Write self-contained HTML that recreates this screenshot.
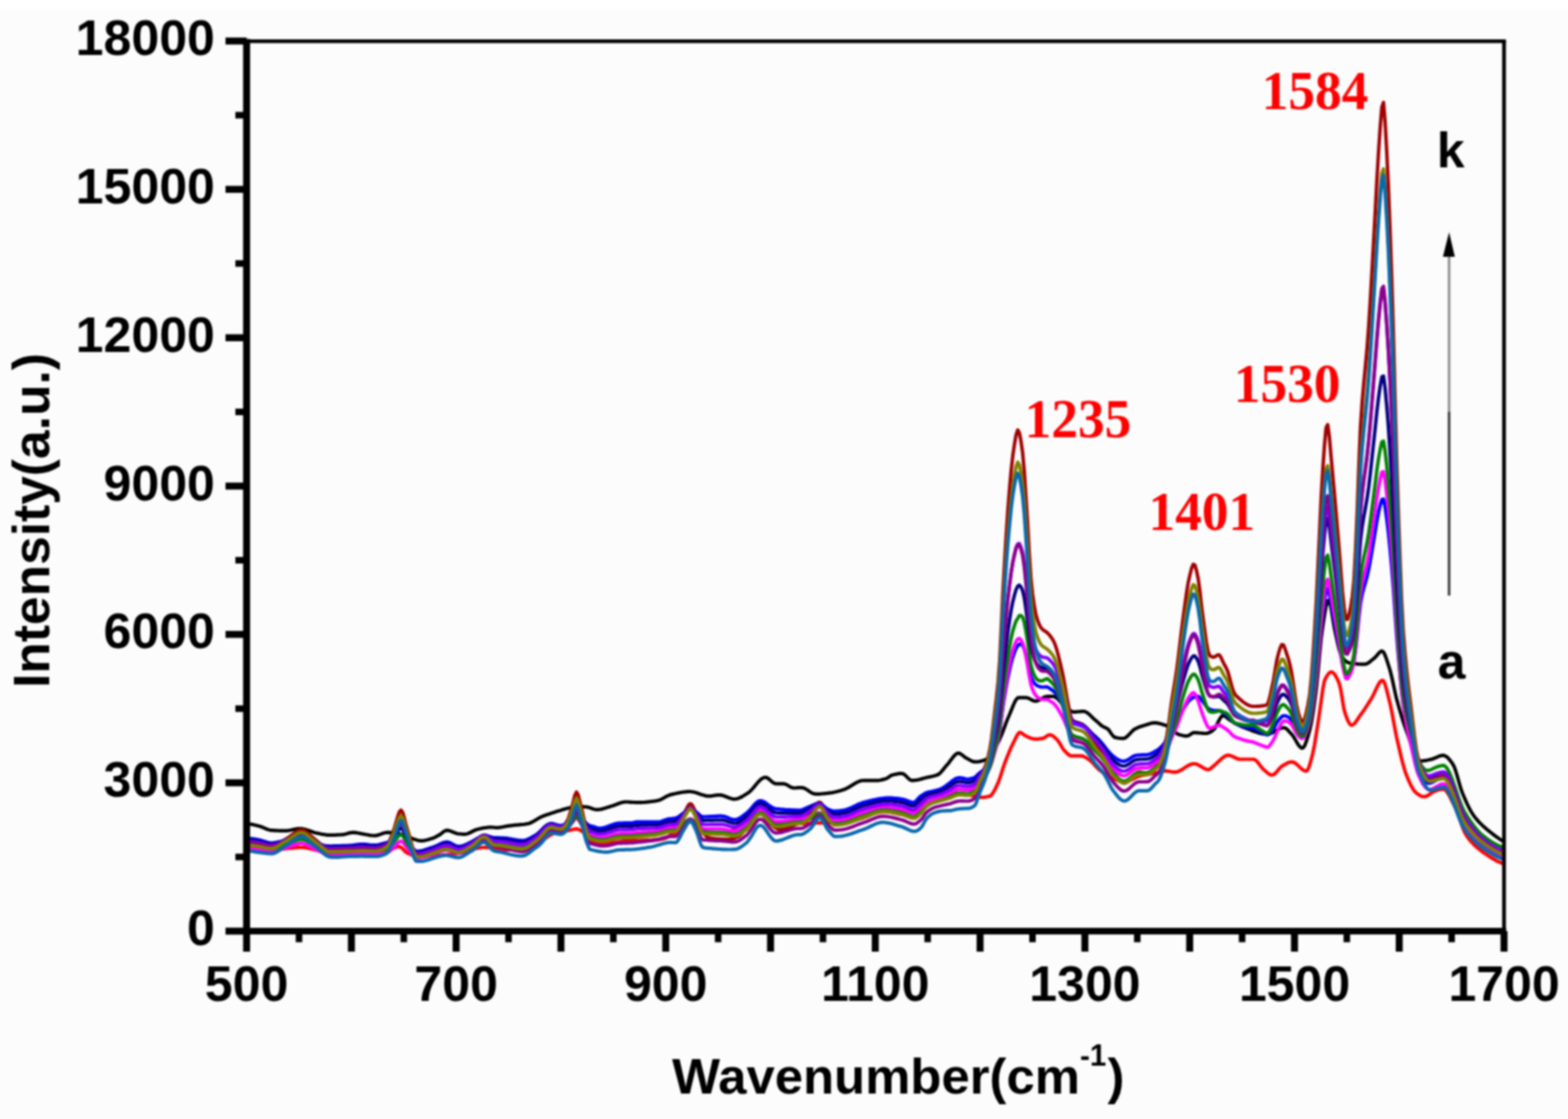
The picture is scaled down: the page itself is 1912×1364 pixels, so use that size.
<!DOCTYPE html>
<html><head><meta charset="utf-8"><style>
html,body{margin:0;padding:0;background:#fcfcfc;}
svg{display:block;filter:blur(0.8px);}
.s{font-family:"Liberation Sans",Arial,sans-serif;font-weight:bold;}
.r{font-family:"Liberation Serif","Times New Roman",serif;font-weight:bold;}
</style></head><body>
<svg width="1912" height="1364" viewBox="0 0 1912 1364">
<rect x="0" y="0" width="1912" height="1364" fill="#fcfcfc"/>
<rect x="0" y="0" width="1912" height="11" fill="#ffffff"/>
<g fill="none" stroke-linejoin="round" stroke-linecap="round" stroke-width="4.2">
<path d="M301.0 1004.0 L303.0 1004.2 L305.0 1004.5 L307.0 1004.9 L309.0 1005.3 L311.0 1005.7 L313.0 1006.2 L315.0 1006.7 L317.0 1007.3 L319.0 1008.0 L321.0 1008.8 L323.0 1009.6 L325.0 1010.5 L327.0 1011.2 L329.0 1011.7 L331.0 1012.1 L333.0 1012.2 L335.0 1012.3 L337.0 1012.4 L339.0 1012.5 L341.0 1012.6 L343.0 1012.7 L345.0 1012.7 L347.0 1012.7 L349.0 1012.6 L351.0 1012.4 L353.0 1012.1 L355.0 1011.7 L357.0 1011.2 L359.0 1010.8 L361.0 1010.5 L363.0 1010.2 L365.0 1010.0 L367.0 1010.0 L369.0 1010.3 L371.0 1010.7 L373.0 1011.2 L375.0 1011.9 L377.0 1012.6 L379.0 1013.3 L381.0 1014.0 L383.0 1014.7 L385.0 1015.2 L387.0 1015.6 L389.0 1016.0 L391.0 1016.5 L393.0 1016.9 L395.0 1017.2 L397.0 1017.5 L399.0 1017.8 L401.0 1017.9 L403.0 1017.9 L405.0 1017.9 L407.0 1017.8 L409.0 1017.8 L411.0 1017.7 L413.0 1017.6 L415.0 1017.5 L417.0 1017.4 L419.0 1017.3 L421.0 1016.8 L423.0 1016.3 L425.0 1015.6 L427.0 1015.1 L429.0 1014.8 L431.0 1014.7 L433.0 1014.9 L435.0 1015.2 L437.0 1015.5 L439.0 1015.9 L441.0 1016.3 L443.0 1016.6 L445.0 1017.0 L447.0 1017.3 L449.0 1017.7 L451.0 1018.1 L453.0 1018.4 L455.0 1018.5 L457.0 1018.6 L459.0 1018.4 L461.0 1017.9 L463.0 1017.3 L465.0 1016.6 L467.0 1015.8 L469.0 1015.2 L471.0 1014.8 L473.0 1014.7 L475.0 1014.8 L477.0 1014.9 L479.0 1015.1 L481.0 1015.4 L483.0 1015.7 L485.0 1016.0 L487.0 1016.4 L489.0 1016.8 L491.0 1017.2 L493.0 1017.9 L495.0 1018.7 L497.0 1019.6 L499.0 1020.6 L501.0 1021.5 L503.0 1022.3 L505.0 1022.9 L507.0 1023.6 L509.0 1024.2 L511.0 1024.7 L513.0 1024.9 L515.0 1024.8 L517.0 1024.6 L519.0 1024.2 L521.0 1023.8 L523.0 1023.2 L525.0 1022.6 L527.0 1022.0 L529.0 1021.2 L531.0 1020.3 L533.0 1019.2 L535.0 1018.1 L537.0 1016.9 L539.0 1015.3 L541.0 1013.7 L543.0 1012.5 L545.0 1012.1 L547.0 1012.3 L549.0 1012.9 L551.0 1013.7 L553.0 1014.5 L555.0 1015.3 L557.0 1016.0 L559.0 1016.3 L561.0 1016.5 L563.0 1016.7 L565.0 1016.8 L567.0 1016.8 L569.0 1016.5 L571.0 1015.9 L573.0 1015.0 L575.0 1014.0 L577.0 1013.0 L579.0 1012.0 L581.0 1011.2 L583.0 1010.7 L585.0 1010.2 L587.0 1009.8 L589.0 1009.4 L591.0 1009.0 L593.0 1008.8 L595.0 1008.5 L597.0 1008.4 L599.0 1008.4 L601.0 1008.5 L603.0 1008.7 L605.0 1008.8 L607.0 1008.8 L609.0 1008.6 L611.0 1008.3 L613.0 1008.0 L615.0 1007.6 L617.0 1007.2 L619.0 1006.9 L621.0 1006.6 L623.0 1006.3 L625.0 1006.1 L627.0 1005.9 L629.0 1005.7 L631.0 1005.6 L633.0 1005.4 L635.0 1005.2 L637.0 1005.0 L639.0 1004.8 L641.0 1004.5 L643.0 1004.2 L645.0 1003.7 L647.0 1003.0 L649.0 1002.0 L651.0 1000.9 L653.0 999.7 L655.0 998.5 L657.0 997.3 L659.0 996.2 L661.0 995.3 L663.0 994.5 L665.0 993.8 L667.0 993.1 L669.0 992.4 L671.0 991.7 L673.0 991.1 L675.0 990.4 L677.0 989.8 L679.0 989.1 L681.0 988.5 L683.0 987.9 L685.0 987.2 L687.0 986.6 L689.0 986.1 L691.0 985.5 L693.0 985.0 L695.0 984.5 L697.0 983.9 L699.0 983.5 L701.0 983.1 L703.0 983.0 L705.0 983.0 L707.0 983.1 L709.0 983.2 L711.0 983.3 L713.0 983.5 L715.0 983.7 L717.0 983.9 L719.0 984.5 L721.0 985.2 L723.0 985.9 L725.0 986.5 L727.0 986.8 L729.0 986.9 L731.0 986.7 L733.0 986.4 L735.0 985.9 L737.0 985.3 L739.0 984.7 L741.0 984.1 L743.0 983.4 L745.0 982.8 L747.0 982.2 L749.0 981.5 L751.0 980.8 L753.0 980.0 L755.0 979.2 L757.0 978.5 L759.0 978.0 L761.0 977.6 L763.0 977.5 L765.0 977.5 L767.0 977.6 L769.0 977.8 L771.0 977.9 L773.0 978.0 L775.0 978.1 L777.0 978.2 L779.0 978.2 L781.0 978.2 L783.0 978.1 L785.0 978.0 L787.0 977.8 L789.0 977.6 L791.0 977.4 L793.0 977.2 L795.0 976.9 L797.0 976.7 L799.0 976.4 L801.0 976.0 L803.0 975.6 L805.0 974.9 L807.0 974.0 L809.0 972.9 L811.0 971.7 L813.0 970.6 L815.0 969.7 L817.0 968.9 L819.0 968.4 L821.0 967.9 L823.0 967.5 L825.0 967.0 L827.0 966.6 L829.0 966.2 L831.0 965.8 L833.0 965.5 L835.0 965.3 L837.0 965.1 L839.0 964.9 L841.0 964.9 L843.0 965.0 L845.0 965.3 L847.0 965.8 L849.0 966.3 L851.0 967.0 L853.0 967.7 L855.0 968.4 L857.0 969.0 L859.0 969.6 L861.0 970.1 L863.0 970.3 L865.0 970.4 L867.0 970.3 L869.0 970.0 L871.0 969.7 L873.0 969.4 L875.0 969.1 L877.0 969.0 L879.0 969.1 L881.0 969.6 L883.0 970.2 L885.0 971.0 L887.0 971.8 L889.0 972.6 L891.0 973.3 L893.0 973.8 L895.0 974.1 L897.0 974.0 L899.0 973.6 L901.0 972.9 L903.0 972.0 L905.0 971.0 L907.0 969.8 L909.0 968.5 L911.0 967.3 L913.0 966.0 L915.0 964.2 L917.0 962.1 L919.0 959.8 L921.0 957.4 L923.0 955.0 L925.0 952.7 L927.0 950.7 L929.0 949.1 L931.0 948.0 L933.0 947.5 L935.0 947.9 L937.0 949.1 L939.0 950.8 L941.0 952.6 L943.0 954.2 L945.0 955.2 L947.0 955.3 L949.0 955.3 L951.0 955.3 L953.0 955.3 L955.0 955.3 L957.0 955.6 L959.0 956.4 L961.0 957.5 L963.0 958.8 L965.0 959.8 L967.0 960.4 L969.0 960.5 L971.0 960.4 L973.0 960.2 L975.0 960.1 L977.0 960.0 L979.0 960.2 L981.0 960.9 L983.0 962.0 L985.0 963.3 L987.0 964.7 L989.0 966.0 L991.0 967.1 L993.0 967.7 L995.0 967.9 L997.0 967.9 L999.0 967.8 L1001.0 967.7 L1003.0 967.5 L1005.0 967.3 L1007.0 967.1 L1009.0 966.9 L1011.0 966.6 L1013.0 966.4 L1015.0 966.1 L1017.0 965.7 L1019.0 965.3 L1021.0 964.8 L1023.0 964.2 L1025.0 963.7 L1027.0 963.1 L1029.0 962.4 L1031.0 961.7 L1033.0 960.7 L1035.0 959.6 L1037.0 958.4 L1039.0 957.1 L1041.0 955.9 L1043.0 954.7 L1045.0 953.6 L1047.0 952.7 L1049.0 951.9 L1051.0 951.5 L1053.0 951.4 L1055.0 951.4 L1057.0 951.4 L1059.0 951.4 L1061.0 951.4 L1063.0 951.4 L1065.0 951.4 L1067.0 951.4 L1069.0 951.4 L1071.0 951.3 L1073.0 951.0 L1075.0 950.6 L1077.0 950.1 L1079.0 949.6 L1081.0 949.0 L1083.0 947.8 L1085.0 946.3 L1087.0 945.1 L1089.0 944.5 L1091.0 944.0 L1093.0 943.6 L1095.0 943.2 L1097.0 942.9 L1099.0 942.8 L1101.0 943.1 L1103.0 944.3 L1105.0 946.1 L1107.0 948.2 L1109.0 950.0 L1111.0 951.2 L1113.0 951.4 L1115.0 951.2 L1117.0 951.0 L1119.0 950.6 L1121.0 950.2 L1123.0 949.6 L1125.0 949.1 L1127.0 948.5 L1129.0 948.0 L1131.0 947.5 L1133.0 947.1 L1135.0 946.7 L1137.0 946.3 L1139.0 945.8 L1141.0 945.2 L1143.0 944.5 L1145.0 943.5 L1147.0 941.7 L1149.0 939.4 L1151.0 936.9 L1153.0 934.4 L1155.0 932.2 L1157.0 929.8 L1159.0 927.1 L1161.0 924.4 L1163.0 921.9 L1165.0 919.8 L1167.0 918.4 L1169.0 918.0 L1171.0 918.7 L1173.0 920.1 L1175.0 921.7 L1177.0 923.3 L1179.0 924.4 L1181.0 925.5 L1183.0 926.7 L1185.0 927.7 L1187.0 928.4 L1189.0 928.7 L1191.0 928.6 L1193.0 928.4 L1195.0 928.1 L1197.0 927.6 L1199.0 926.9 L1201.0 926.2 L1203.0 925.4 L1205.0 924.4 L1207.0 922.6 L1209.0 920.0 L1211.0 916.7 L1213.0 913.0 L1215.0 909.1 L1217.0 905.0 L1219.0 901.0 L1221.0 896.5 L1223.0 891.4 L1225.0 886.0 L1227.0 880.6 L1229.0 875.5 L1231.0 871.0 L1233.0 866.1 L1235.0 861.1 L1237.0 856.5 L1239.0 852.8 L1241.0 850.6 L1243.0 850.3 L1245.0 850.3 L1247.0 850.3 L1249.0 850.3 L1251.0 850.3 L1253.0 850.7 L1255.0 851.5 L1257.0 852.6 L1259.0 853.7 L1261.0 854.5 L1263.0 854.7 L1265.0 854.3 L1267.0 853.4 L1269.0 852.3 L1271.0 851.1 L1273.0 850.0 L1275.0 849.2 L1277.0 848.8 L1279.0 848.8 L1281.0 848.9 L1283.0 848.9 L1285.0 849.0 L1287.0 849.8 L1289.0 851.3 L1291.0 853.3 L1293.0 855.5 L1295.0 857.9 L1297.0 860.0 L1299.0 861.8 L1301.0 863.2 L1303.0 864.8 L1305.0 866.2 L1307.0 867.3 L1309.0 867.9 L1311.0 867.9 L1313.0 867.7 L1315.0 867.5 L1317.0 867.3 L1319.0 867.2 L1321.0 867.1 L1323.0 867.4 L1325.0 868.3 L1327.0 869.7 L1329.0 871.5 L1331.0 873.4 L1333.0 875.4 L1335.0 877.3 L1337.0 878.9 L1339.0 880.7 L1341.0 882.6 L1343.0 884.3 L1345.0 885.7 L1347.0 886.6 L1349.0 887.5 L1351.0 888.7 L1353.0 891.1 L1355.0 894.1 L1357.0 896.9 L1359.0 898.6 L1361.0 899.1 L1363.0 899.5 L1365.0 899.8 L1367.0 900.0 L1369.0 900.1 L1371.0 899.9 L1373.0 898.8 L1375.0 897.2 L1377.0 895.1 L1379.0 893.0 L1381.0 890.9 L1383.0 889.2 L1385.0 888.1 L1387.0 887.1 L1389.0 886.3 L1391.0 885.6 L1393.0 884.9 L1395.0 884.3 L1397.0 883.7 L1399.0 883.0 L1401.0 882.4 L1403.0 881.8 L1405.0 881.3 L1407.0 881.1 L1409.0 881.1 L1411.0 881.4 L1413.0 881.7 L1415.0 882.2 L1417.0 882.8 L1419.0 883.4 L1421.0 884.0 L1423.0 884.9 L1425.0 886.2 L1427.0 887.7 L1429.0 889.4 L1431.0 891.1 L1433.0 892.7 L1435.0 894.1 L1437.0 895.2 L1439.0 895.8 L1441.0 896.3 L1443.0 896.7 L1445.0 897.1 L1447.0 897.2 L1449.0 896.8 L1451.0 895.6 L1453.0 894.2 L1455.0 893.2 L1457.0 893.0 L1459.0 893.1 L1461.0 893.3 L1463.0 893.5 L1465.0 893.7 L1467.0 893.8 L1469.0 894.0 L1471.0 894.0 L1473.0 893.6 L1475.0 892.8 L1477.0 891.7 L1479.0 890.3 L1481.0 888.5 L1483.0 885.1 L1485.0 881.0 L1487.0 877.0 L1489.0 873.8 L1491.0 872.3 L1493.0 872.7 L1495.0 874.0 L1497.0 875.7 L1499.0 877.3 L1501.0 878.6 L1503.0 879.7 L1505.0 880.8 L1507.0 881.9 L1509.0 883.0 L1511.0 884.0 L1513.0 885.0 L1515.0 886.0 L1517.0 886.8 L1519.0 887.6 L1521.0 888.4 L1523.0 889.1 L1525.0 889.9 L1527.0 890.7 L1529.0 891.4 L1531.0 892.1 L1533.0 892.8 L1535.0 893.4 L1537.0 893.9 L1539.0 894.4 L1541.0 894.7 L1543.0 894.9 L1545.0 895.0 L1547.0 894.8 L1549.0 894.2 L1551.0 893.3 L1553.0 892.3 L1555.0 891.1 L1557.0 890.0 L1559.0 888.9 L1561.0 888.0 L1563.0 887.3 L1565.0 887.0 L1567.0 887.3 L1569.0 888.6 L1571.0 890.6 L1573.0 892.8 L1575.0 895.0 L1577.0 897.5 L1579.0 900.8 L1581.0 904.3 L1583.0 907.6 L1585.0 910.2 L1587.0 911.8 L1589.0 911.6 L1591.0 908.7 L1593.0 903.6 L1595.0 897.1 L1597.0 890.0 L1599.0 881.1 L1601.0 869.2 L1603.0 855.2 L1605.0 840.0 L1607.0 820.9 L1609.0 798.3 L1611.0 777.8 L1613.0 763.3 L1615.0 749.9 L1617.0 738.7 L1619.0 732.0 L1621.0 732.2 L1623.0 740.4 L1625.0 752.7 L1627.0 765.1 L1629.0 774.4 L1631.0 783.4 L1633.0 791.8 L1635.0 798.1 L1637.0 801.4 L1639.0 803.9 L1641.0 805.9 L1643.0 807.3 L1645.0 808.0 L1647.0 808.3 L1649.0 808.6 L1651.0 808.9 L1653.0 809.1 L1655.0 809.3 L1657.0 809.5 L1659.0 809.6 L1661.0 809.7 L1663.0 809.7 L1665.0 809.6 L1667.0 808.9 L1669.0 807.7 L1671.0 806.2 L1673.0 804.5 L1675.0 802.8 L1677.0 801.1 L1679.0 798.8 L1681.0 796.4 L1683.0 794.4 L1685.0 793.5 L1687.0 794.8 L1689.0 798.8 L1691.0 804.4 L1693.0 810.6 L1695.0 816.9 L1697.0 824.9 L1699.0 834.0 L1701.0 843.4 L1703.0 851.9 L1705.0 859.2 L1707.0 866.3 L1709.0 873.0 L1711.0 879.3 L1713.0 885.3 L1715.0 890.9 L1717.0 896.4 L1719.0 902.3 L1721.0 908.2 L1723.0 913.9 L1725.0 919.0 L1727.0 923.2 L1729.0 926.2 L1731.0 927.6 L1733.0 927.7 L1735.0 927.5 L1737.0 927.2 L1739.0 926.9 L1741.0 926.5 L1743.0 926.0 L1745.0 925.6 L1747.0 925.1 L1749.0 924.3 L1751.0 923.5 L1753.0 922.6 L1755.0 921.7 L1757.0 921.1 L1759.0 920.7 L1761.0 920.9 L1763.0 921.8 L1765.0 923.3 L1767.0 925.4 L1769.0 927.9 L1771.0 930.6 L1773.0 934.1 L1775.0 939.5 L1777.0 946.2 L1779.0 953.3 L1781.0 960.2 L1783.0 966.0 L1785.0 970.8 L1787.0 975.4 L1789.0 979.8 L1791.0 983.9 L1793.0 987.7 L1795.0 991.2 L1797.0 994.2 L1799.0 996.8 L1801.0 999.2 L1803.0 1001.5 L1805.0 1003.6 L1807.0 1005.5 L1809.0 1007.4 L1811.0 1009.1 L1813.0 1010.8 L1815.0 1012.5 L1817.0 1014.1 L1819.0 1015.7 L1821.0 1017.3 L1823.0 1018.8 L1825.0 1020.3 L1827.0 1021.6 L1829.0 1023.0 L1831.0 1024.2 L1833.0 1025.4 L1834.0 1026.0" stroke="#000000"/>
<path d="M301.0 1028.0 L303.0 1028.3 L305.0 1028.6 L307.0 1028.8 L309.0 1029.1 L311.0 1029.4 L313.0 1029.7 L315.0 1030.0 L317.0 1030.3 L319.0 1030.7 L321.0 1031.1 L323.0 1031.5 L325.0 1031.9 L327.0 1032.2 L329.0 1032.4 L331.0 1032.5 L333.0 1032.3 L335.0 1031.7 L337.0 1030.8 L339.0 1029.6 L341.0 1028.3 L343.0 1026.8 L345.0 1025.4 L347.0 1023.9 L349.0 1022.6 L351.0 1021.4 L353.0 1020.0 L355.0 1018.5 L357.0 1016.9 L359.0 1015.4 L361.0 1014.0 L363.0 1012.8 L365.0 1012.0 L367.0 1011.6 L369.0 1011.8 L371.0 1012.5 L373.0 1013.6 L375.0 1015.2 L377.0 1016.9 L379.0 1018.8 L381.0 1020.6 L383.0 1022.4 L385.0 1024.0 L387.0 1025.6 L389.0 1027.4 L391.0 1029.4 L393.0 1031.3 L395.0 1033.1 L397.0 1034.6 L399.0 1035.8 L401.0 1036.4 L403.0 1036.5 L405.0 1036.5 L407.0 1036.4 L409.0 1036.4 L411.0 1036.3 L413.0 1036.3 L415.0 1036.2 L417.0 1036.1 L419.0 1036.1 L421.0 1036.0 L423.0 1036.0 L425.0 1036.0 L427.0 1036.0 L429.0 1036.0 L431.0 1036.0 L433.0 1036.0 L435.0 1036.0 L437.0 1036.0 L439.0 1036.0 L441.0 1036.0 L443.0 1036.0 L445.0 1036.0 L447.0 1036.0 L449.0 1036.0 L451.0 1036.0 L453.0 1036.0 L455.0 1036.0 L457.0 1036.0 L459.0 1035.9 L461.0 1035.5 L463.0 1034.9 L465.0 1034.2 L467.0 1033.2 L469.0 1032.0 L471.0 1030.7 L473.0 1028.9 L475.0 1025.2 L477.0 1020.1 L479.0 1014.6 L481.0 1009.2 L483.0 1002.4 L485.0 995.3 L487.0 989.7 L489.0 987.5 L491.0 990.2 L493.0 996.9 L495.0 1004.9 L497.0 1012.0 L499.0 1018.4 L501.0 1025.6 L503.0 1032.6 L505.0 1038.5 L507.0 1042.5 L509.0 1043.7 L511.0 1043.6 L513.0 1043.3 L515.0 1042.9 L517.0 1042.3 L519.0 1041.7 L521.0 1041.1 L523.0 1040.4 L525.0 1039.8 L527.0 1039.1 L529.0 1038.5 L531.0 1037.8 L533.0 1037.0 L535.0 1036.1 L537.0 1035.3 L539.0 1034.6 L541.0 1034.0 L543.0 1033.6 L545.0 1033.5 L547.0 1033.8 L549.0 1034.4 L551.0 1035.1 L553.0 1036.0 L555.0 1036.8 L557.0 1037.3 L559.0 1037.5 L561.0 1037.3 L563.0 1036.7 L565.0 1035.9 L567.0 1034.9 L569.0 1033.7 L571.0 1032.5 L573.0 1031.2 L575.0 1030.0 L577.0 1028.6 L579.0 1026.7 L581.0 1024.6 L583.0 1022.5 L585.0 1020.6 L587.0 1019.1 L589.0 1018.2 L591.0 1018.1 L593.0 1019.2 L595.0 1021.1 L597.0 1023.5 L599.0 1025.9 L601.0 1027.7 L603.0 1028.6 L605.0 1029.0 L607.0 1029.4 L609.0 1029.7 L611.0 1030.0 L613.0 1030.2 L615.0 1030.4 L617.0 1030.6 L619.0 1030.9 L621.0 1031.1 L623.0 1031.4 L625.0 1031.7 L627.0 1032.1 L629.0 1032.3 L631.0 1032.6 L633.0 1032.8 L635.0 1033.0 L637.0 1033.0 L639.0 1032.8 L641.0 1032.1 L643.0 1031.1 L645.0 1029.9 L647.0 1028.4 L649.0 1026.8 L651.0 1025.2 L653.0 1023.5 L655.0 1022.0 L657.0 1020.2 L659.0 1018.0 L661.0 1015.6 L663.0 1013.1 L665.0 1010.7 L667.0 1008.7 L669.0 1007.3 L671.0 1006.5 L673.0 1006.6 L675.0 1006.9 L677.0 1007.4 L679.0 1008.0 L681.0 1008.5 L683.0 1008.8 L685.0 1008.6 L687.0 1007.2 L689.0 1004.7 L691.0 1001.7 L693.0 997.9 L695.0 991.7 L697.0 985.0 L699.0 977.2 L701.0 969.2 L703.0 965.5 L705.0 968.9 L707.0 976.7 L709.0 985.0 L711.0 993.6 L713.0 1002.8 L715.0 1010.0 L717.0 1015.2 L719.0 1019.9 L721.0 1023.5 L723.0 1025.2 L725.0 1025.3 L727.0 1025.2 L729.0 1025.1 L731.0 1024.9 L733.0 1024.8 L735.0 1024.5 L737.0 1024.3 L739.0 1024.1 L741.0 1023.9 L743.0 1023.5 L745.0 1023.1 L747.0 1022.6 L749.0 1022.1 L751.0 1021.7 L753.0 1021.5 L755.0 1021.4 L757.0 1021.5 L759.0 1021.7 L761.0 1021.9 L763.0 1022.3 L765.0 1022.6 L767.0 1023.0 L769.0 1023.4 L771.0 1023.8 L773.0 1024.1 L775.0 1024.3 L777.0 1024.5 L779.0 1024.5 L781.0 1024.5 L783.0 1024.4 L785.0 1024.4 L787.0 1024.3 L789.0 1024.2 L791.0 1024.1 L793.0 1024.0 L795.0 1023.9 L797.0 1023.7 L799.0 1023.5 L801.0 1023.3 L803.0 1023.1 L805.0 1022.8 L807.0 1022.6 L809.0 1022.3 L811.0 1021.9 L813.0 1021.1 L815.0 1019.9 L817.0 1018.4 L819.0 1016.6 L821.0 1014.5 L823.0 1012.3 L825.0 1010.0 L827.0 1007.0 L829.0 1002.9 L831.0 998.4 L833.0 993.9 L835.0 990.0 L837.0 986.1 L839.0 982.2 L841.0 979.8 L843.0 980.1 L845.0 983.0 L847.0 987.4 L849.0 992.0 L851.0 997.5 L853.0 1004.1 L855.0 1010.0 L857.0 1013.6 L859.0 1016.6 L861.0 1019.1 L863.0 1020.8 L865.0 1021.5 L867.0 1021.7 L869.0 1022.0 L871.0 1022.2 L873.0 1022.3 L875.0 1022.5 L877.0 1022.6 L879.0 1022.7 L881.0 1022.8 L883.0 1022.9 L885.0 1023.0 L887.0 1023.0 L889.0 1023.0 L891.0 1022.9 L893.0 1022.6 L895.0 1022.0 L897.0 1021.3 L899.0 1020.4 L901.0 1019.4 L903.0 1017.7 L905.0 1015.5 L907.0 1012.8 L909.0 1009.9 L911.0 1007.0 L913.0 1004.3 L915.0 1002.0 L917.0 999.8 L919.0 997.5 L921.0 995.2 L923.0 993.2 L925.0 991.9 L927.0 991.4 L929.0 992.2 L931.0 994.1 L933.0 996.8 L935.0 999.6 L937.0 1002.1 L939.0 1003.8 L941.0 1005.5 L943.0 1007.2 L945.0 1008.8 L947.0 1010.0 L949.0 1010.8 L951.0 1011.0 L953.0 1010.9 L955.0 1010.6 L957.0 1010.2 L959.0 1009.6 L961.0 1009.0 L963.0 1008.3 L965.0 1007.4 L967.0 1006.6 L969.0 1005.6 L971.0 1004.7 L973.0 1003.7 L975.0 1002.7 L977.0 1001.5 L979.0 1000.1 L981.0 998.5 L983.0 996.7 L985.0 994.9 L987.0 993.0 L989.0 990.9 L991.0 987.9 L993.0 984.6 L995.0 981.4 L997.0 979.0 L999.0 977.8 L1001.0 978.7 L1003.0 981.6 L1005.0 985.6 L1007.0 989.9 L1009.0 993.6 L1011.0 996.2 L1013.0 998.6 L1015.0 1000.9 L1017.0 1002.8 L1019.0 1004.2 L1021.0 1004.7 L1023.0 1004.6 L1025.0 1004.5 L1027.0 1004.2 L1029.0 1003.9 L1031.0 1003.5 L1033.0 1003.0 L1035.0 1002.5 L1037.0 1001.9 L1039.0 1001.3 L1041.0 1000.6 L1043.0 1000.0 L1045.0 999.3 L1047.0 998.6 L1049.0 998.0 L1051.0 997.4 L1053.0 996.8 L1055.0 996.1 L1057.0 995.3 L1059.0 994.5 L1061.0 993.6 L1063.0 992.7 L1065.0 991.8 L1067.0 991.0 L1069.0 990.3 L1071.0 989.7 L1073.0 989.3 L1075.0 989.0 L1077.0 989.0 L1079.0 989.1 L1081.0 989.3 L1083.0 989.5 L1085.0 989.8 L1087.0 990.2 L1089.0 990.6 L1091.0 991.0 L1093.0 991.5 L1095.0 991.9 L1097.0 992.4 L1099.0 992.8 L1101.0 993.2 L1103.0 993.8 L1105.0 994.4 L1107.0 995.1 L1109.0 995.8 L1111.0 996.3 L1113.0 996.7 L1115.0 996.9 L1117.0 996.4 L1119.0 994.7 L1121.0 992.0 L1123.0 988.8 L1125.0 985.4 L1127.0 982.2 L1129.0 979.6 L1131.0 978.0 L1133.0 977.0 L1135.0 976.2 L1137.0 975.5 L1139.0 974.9 L1141.0 974.3 L1143.0 973.8 L1145.0 973.3 L1147.0 972.8 L1149.0 972.3 L1151.0 971.7 L1153.0 971.1 L1155.0 970.5 L1157.0 969.8 L1159.0 969.2 L1161.0 968.6 L1163.0 968.0 L1165.0 967.6 L1167.0 967.3 L1169.0 967.1 L1171.0 967.1 L1173.0 967.4 L1175.0 967.9 L1177.0 968.3 L1179.0 968.6 L1181.0 968.5 L1183.0 967.8 L1185.0 966.5 L1187.0 964.9 L1189.0 962.7 L1191.0 958.4 L1193.0 953.0 L1195.0 948.0 L1197.0 943.9 L1199.0 940.0 L1201.0 935.3 L1203.0 929.4 L1205.0 922.2 L1207.0 913.3 L1209.0 900.8 L1211.0 884.7 L1213.0 867.6 L1215.0 850.9 L1217.0 831.9 L1219.0 805.4 L1221.0 763.8 L1223.0 720.6 L1225.0 684.9 L1227.0 651.5 L1229.0 621.8 L1231.0 596.5 L1233.0 573.7 L1235.0 555.5 L1237.0 541.9 L1239.0 530.2 L1241.0 524.2 L1243.0 527.5 L1245.0 537.9 L1247.0 552.0 L1249.0 574.6 L1251.0 605.2 L1253.0 637.0 L1255.0 672.9 L1257.0 704.1 L1259.0 723.3 L1261.0 737.5 L1263.0 748.2 L1265.0 755.5 L1267.0 760.8 L1269.0 764.6 L1271.0 767.0 L1273.0 768.5 L1275.0 769.8 L1277.0 771.3 L1279.0 773.3 L1281.0 775.7 L1283.0 778.5 L1285.0 782.0 L1287.0 786.8 L1289.0 793.2 L1291.0 800.8 L1293.0 809.1 L1295.0 817.7 L1297.0 827.5 L1299.0 838.8 L1301.0 850.3 L1303.0 860.7 L1305.0 871.5 L1307.0 877.1 L1309.0 878.8 L1311.0 879.9 L1313.0 880.6 L1315.0 881.2 L1317.0 881.8 L1319.0 882.6 L1321.0 883.8 L1323.0 885.6 L1325.0 888.0 L1327.0 891.0 L1329.0 894.4 L1331.0 897.9 L1333.0 901.3 L1335.0 904.5 L1337.0 907.4 L1339.0 910.0 L1341.0 912.6 L1343.0 915.2 L1345.0 918.2 L1347.0 921.6 L1349.0 925.4 L1351.0 929.5 L1353.0 933.6 L1355.0 937.4 L1357.0 940.9 L1359.0 943.7 L1361.0 946.1 L1363.0 948.6 L1365.0 950.8 L1367.0 952.7 L1369.0 953.9 L1371.0 954.4 L1373.0 953.9 L1375.0 952.7 L1377.0 950.9 L1379.0 948.7 L1381.0 946.5 L1383.0 944.4 L1385.0 942.7 L1387.0 941.5 L1389.0 941.2 L1391.0 941.4 L1393.0 941.7 L1395.0 942.1 L1397.0 942.5 L1399.0 942.6 L1401.0 942.2 L1403.0 941.1 L1405.0 939.5 L1407.0 937.5 L1409.0 935.1 L1411.0 932.4 L1413.0 929.5 L1415.0 925.2 L1417.0 919.6 L1419.0 913.0 L1421.0 905.6 L1423.0 895.9 L1425.0 883.2 L1427.0 867.4 L1429.0 853.4 L1431.0 841.1 L1433.0 829.0 L1435.0 815.5 L1437.0 800.0 L1439.0 783.3 L1441.0 766.6 L1443.0 750.9 L1445.0 736.3 L1447.0 721.9 L1449.0 709.7 L1451.0 700.8 L1453.0 692.8 L1455.0 687.8 L1457.0 688.7 L1459.0 695.5 L1461.0 705.0 L1463.0 719.2 L1465.0 737.6 L1467.0 752.9 L1469.0 767.9 L1471.0 782.3 L1473.0 793.4 L1475.0 798.9 L1477.0 800.2 L1479.0 800.9 L1481.0 800.8 L1483.0 799.5 L1485.0 798.2 L1487.0 798.5 L1489.0 801.6 L1491.0 806.1 L1493.0 810.1 L1495.0 813.6 L1497.0 818.1 L1499.0 824.8 L1501.0 832.5 L1503.0 839.7 L1505.0 844.8 L1507.0 847.7 L1509.0 849.6 L1511.0 851.4 L1513.0 853.2 L1515.0 854.9 L1517.0 856.4 L1519.0 857.8 L1521.0 858.9 L1523.0 859.9 L1525.0 860.5 L1527.0 860.9 L1529.0 861.0 L1531.0 861.0 L1533.0 860.9 L1535.0 860.8 L1537.0 860.6 L1539.0 860.3 L1541.0 860.1 L1543.0 859.7 L1545.0 859.1 L1547.0 854.9 L1549.0 847.2 L1551.0 837.8 L1553.0 828.4 L1555.0 816.4 L1557.0 804.4 L1559.0 796.5 L1561.0 789.9 L1563.0 785.7 L1565.0 786.1 L1567.0 790.9 L1569.0 797.0 L1571.0 803.1 L1573.0 810.5 L1575.0 820.1 L1577.0 832.8 L1579.0 846.5 L1581.0 859.1 L1583.0 868.3 L1585.0 874.7 L1587.0 879.5 L1589.0 879.8 L1591.0 875.7 L1593.0 868.3 L1595.0 858.7 L1597.0 846.9 L1599.0 826.6 L1601.0 799.6 L1603.0 769.0 L1605.0 734.3 L1607.0 692.4 L1609.0 650.9 L1611.0 607.6 L1613.0 572.3 L1615.0 543.5 L1617.0 521.4 L1619.0 517.6 L1621.0 532.2 L1623.0 555.5 L1625.0 577.8 L1627.0 599.4 L1629.0 622.5 L1631.0 646.2 L1633.0 669.9 L1635.0 695.6 L1637.0 720.9 L1639.0 740.2 L1641.0 754.9 L1643.0 755.0 L1645.0 748.8 L1647.0 740.5 L1649.0 727.2 L1651.0 707.1 L1653.0 669.5 L1655.0 622.9 L1657.0 567.1 L1659.0 519.9 L1661.0 490.4 L1663.0 467.1 L1665.0 446.3 L1667.0 424.3 L1669.0 397.4 L1671.0 365.2 L1673.0 330.1 L1675.0 293.7 L1677.0 257.5 L1679.0 218.8 L1681.0 185.0 L1683.0 155.3 L1685.0 130.7 L1687.0 124.8 L1689.0 148.7 L1691.0 185.0 L1693.0 227.6 L1695.0 279.2 L1697.0 337.4 L1699.0 403.3 L1701.0 483.3 L1703.0 558.7 L1705.0 621.6 L1707.0 677.9 L1709.0 730.6 L1711.0 767.4 L1713.0 793.3 L1715.0 814.7 L1717.0 832.9 L1719.0 849.4 L1721.0 865.6 L1723.0 882.6 L1725.0 899.3 L1727.0 913.6 L1729.0 923.3 L1731.0 928.9 L1733.0 934.0 L1735.0 938.4 L1737.0 942.2 L1739.0 945.0 L1741.0 946.9 L1743.0 947.7 L1745.0 947.6 L1747.0 947.1 L1749.0 946.6 L1751.0 946.2 L1753.0 945.9 L1755.0 945.6 L1757.0 945.4 L1759.0 945.3 L1761.0 945.6 L1763.0 947.1 L1765.0 949.8 L1767.0 953.5 L1769.0 958.0 L1771.0 963.0 L1773.0 968.5 L1775.0 974.2 L1777.0 979.8 L1779.0 985.3 L1781.0 990.3 L1783.0 994.8 L1785.0 998.4 L1787.0 1001.3 L1789.0 1004.0 L1791.0 1006.6 L1793.0 1009.2 L1795.0 1011.6 L1797.0 1013.8 L1799.0 1016.0 L1801.0 1018.0 L1803.0 1020.0 L1805.0 1021.8 L1807.0 1023.4 L1809.0 1025.0 L1811.0 1026.5 L1813.0 1027.9 L1815.0 1029.3 L1817.0 1030.6 L1819.0 1031.9 L1821.0 1033.2 L1823.0 1034.3 L1825.0 1035.4 L1827.0 1036.3 L1829.0 1037.2 L1831.0 1038.0 L1833.0 1038.7 L1834.0 1039.0" stroke="#a00000"/>
<path d="M301.0 1033.0 L303.0 1033.4 L305.0 1033.7 L307.0 1034.0 L309.0 1034.3 L311.0 1034.6 L313.0 1034.9 L315.0 1035.1 L317.0 1035.3 L319.0 1035.5 L321.0 1035.7 L323.0 1035.8 L325.0 1035.9 L327.0 1036.0 L329.0 1036.0 L331.0 1036.0 L333.0 1035.9 L335.0 1035.9 L337.0 1035.7 L339.0 1035.6 L341.0 1035.4 L343.0 1035.2 L345.0 1034.9 L347.0 1034.7 L349.0 1034.5 L351.0 1034.2 L353.0 1034.0 L355.0 1033.8 L357.0 1033.6 L359.0 1033.4 L361.0 1033.2 L363.0 1033.1 L365.0 1033.0 L367.0 1033.0 L369.0 1033.0 L371.0 1033.2 L373.0 1033.4 L375.0 1033.8 L377.0 1034.2 L379.0 1034.6 L381.0 1035.1 L383.0 1035.6 L385.0 1036.1 L387.0 1036.6 L389.0 1037.1 L391.0 1037.5 L393.0 1037.9 L395.0 1038.2 L397.0 1038.5 L399.0 1038.6 L401.0 1038.6 L403.0 1038.6 L405.0 1038.6 L407.0 1038.6 L409.0 1038.6 L411.0 1038.6 L413.0 1038.6 L415.0 1038.6 L417.0 1038.6 L419.0 1038.6 L421.0 1038.6 L423.0 1038.6 L425.0 1038.6 L427.0 1038.6 L429.0 1038.6 L431.0 1038.6 L433.0 1038.6 L435.0 1038.6 L437.0 1038.6 L439.0 1038.6 L441.0 1038.6 L443.0 1038.6 L445.0 1038.6 L447.0 1038.6 L449.0 1038.6 L451.0 1038.6 L453.0 1038.6 L455.0 1038.6 L457.0 1038.6 L459.0 1038.6 L461.0 1038.4 L463.0 1038.2 L465.0 1037.9 L467.0 1037.6 L469.0 1037.2 L471.0 1036.8 L473.0 1036.4 L475.0 1036.0 L477.0 1035.4 L479.0 1034.6 L481.0 1033.6 L483.0 1032.8 L485.0 1032.2 L487.0 1032.0 L489.0 1032.8 L491.0 1034.6 L493.0 1036.7 L495.0 1038.7 L497.0 1040.0 L499.0 1040.9 L501.0 1041.7 L503.0 1042.4 L505.0 1043.1 L507.0 1043.6 L509.0 1043.9 L511.0 1044.0 L513.0 1044.0 L515.0 1043.9 L517.0 1043.9 L519.0 1043.7 L521.0 1043.6 L523.0 1043.5 L525.0 1043.4 L527.0 1043.2 L529.0 1043.1 L531.0 1042.9 L533.0 1042.8 L535.0 1042.6 L537.0 1042.5 L539.0 1042.3 L541.0 1042.1 L543.0 1042.0 L545.0 1041.8 L547.0 1041.6 L549.0 1041.4 L551.0 1041.1 L553.0 1040.9 L555.0 1040.7 L557.0 1040.4 L559.0 1040.1 L561.0 1039.8 L563.0 1039.5 L565.0 1039.0 L567.0 1038.5 L569.0 1037.9 L571.0 1037.3 L573.0 1036.6 L575.0 1036.0 L577.0 1035.4 L579.0 1034.8 L581.0 1034.3 L583.0 1033.8 L585.0 1033.5 L587.0 1033.2 L589.0 1033.0 L591.0 1033.0 L593.0 1033.1 L595.0 1033.2 L597.0 1033.4 L599.0 1033.6 L601.0 1033.9 L603.0 1034.2 L605.0 1034.5 L607.0 1034.8 L609.0 1035.1 L611.0 1035.3 L613.0 1035.6 L615.0 1035.8 L617.0 1035.9 L619.0 1036.0 L621.0 1036.0 L623.0 1035.9 L625.0 1035.9 L627.0 1035.7 L629.0 1035.5 L631.0 1035.3 L633.0 1035.1 L635.0 1034.8 L637.0 1034.5 L639.0 1034.1 L641.0 1033.8 L643.0 1033.4 L645.0 1033.0 L647.0 1032.5 L649.0 1031.7 L651.0 1030.7 L653.0 1029.6 L655.0 1028.4 L657.0 1027.1 L659.0 1025.8 L661.0 1024.6 L663.0 1023.4 L665.0 1022.1 L667.0 1020.6 L669.0 1019.2 L671.0 1017.9 L673.0 1016.8 L675.0 1016.0 L677.0 1015.4 L679.0 1015.0 L681.0 1014.6 L683.0 1014.2 L685.0 1013.9 L687.0 1013.6 L689.0 1013.2 L691.0 1012.8 L693.0 1012.4 L695.0 1011.9 L697.0 1011.5 L699.0 1011.0 L701.0 1010.6 L703.0 1010.4 L705.0 1010.8 L707.0 1011.7 L709.0 1012.9 L711.0 1014.3 L713.0 1015.8 L715.0 1017.9 L717.0 1020.5 L719.0 1023.2 L721.0 1025.6 L723.0 1027.3 L725.0 1028.0 L727.0 1028.0 L729.0 1027.9 L731.0 1027.9 L733.0 1027.8 L735.0 1027.7 L737.0 1027.6 L739.0 1027.5 L741.0 1027.3 L743.0 1027.2 L745.0 1027.0 L747.0 1026.9 L749.0 1026.7 L751.0 1026.6 L753.0 1026.4 L755.0 1026.3 L757.0 1026.2 L759.0 1026.1 L761.0 1025.9 L763.0 1025.9 L765.0 1025.8 L767.0 1025.7 L769.0 1025.6 L771.0 1025.5 L773.0 1025.5 L775.0 1025.4 L777.0 1025.3 L779.0 1025.2 L781.0 1025.2 L783.0 1025.1 L785.0 1025.0 L787.0 1024.9 L789.0 1024.8 L791.0 1024.7 L793.0 1024.6 L795.0 1024.4 L797.0 1024.3 L799.0 1024.1 L801.0 1023.9 L803.0 1023.6 L805.0 1023.2 L807.0 1022.7 L809.0 1022.0 L811.0 1021.4 L813.0 1020.6 L815.0 1019.8 L817.0 1018.9 L819.0 1018.0 L821.0 1017.0 L823.0 1016.0 L825.0 1015.0 L827.0 1013.7 L829.0 1011.9 L831.0 1009.9 L833.0 1007.8 L835.0 1005.7 L837.0 1003.9 L839.0 1002.6 L841.0 1001.9 L843.0 1002.0 L845.0 1003.1 L847.0 1004.9 L849.0 1007.0 L851.0 1009.1 L853.0 1010.9 L855.0 1012.0 L857.0 1012.7 L859.0 1013.3 L861.0 1013.9 L863.0 1014.5 L865.0 1015.0 L867.0 1015.4 L869.0 1015.9 L871.0 1016.2 L873.0 1016.5 L875.0 1016.8 L877.0 1016.9 L879.0 1017.0 L881.0 1017.0 L883.0 1016.7 L885.0 1016.2 L887.0 1015.4 L889.0 1014.5 L891.0 1013.3 L893.0 1012.1 L895.0 1010.6 L897.0 1009.1 L899.0 1007.5 L901.0 1005.9 L903.0 1004.2 L905.0 1002.5 L907.0 1000.9 L909.0 999.3 L911.0 997.7 L913.0 996.2 L915.0 994.9 L917.0 993.7 L919.0 992.6 L921.0 991.8 L923.0 991.1 L925.0 990.7 L927.0 990.6 L929.0 990.9 L931.0 991.8 L933.0 993.0 L935.0 994.6 L937.0 996.4 L939.0 998.3 L941.0 1000.1 L943.0 1001.8 L945.0 1003.3 L947.0 1004.3 L949.0 1004.9 L951.0 1005.0 L953.0 1005.0 L955.0 1004.9 L957.0 1004.9 L959.0 1004.8 L961.0 1004.7 L963.0 1004.6 L965.0 1004.5 L967.0 1004.4 L969.0 1004.3 L971.0 1004.2 L973.0 1004.1 L975.0 1004.0 L977.0 1003.9 L979.0 1003.8 L981.0 1003.8 L983.0 1003.7 L985.0 1003.6 L987.0 1003.5 L989.0 1003.4 L991.0 1003.4 L993.0 1003.3 L995.0 1003.2 L997.0 1003.2 L999.0 1003.2 L1001.0 1003.2 L1003.0 1003.1 L1005.0 1003.1 L1007.0 1003.1 L1009.0 1003.1 L1011.0 1003.1 L1013.0 1003.1 L1015.0 1003.1 L1017.0 1003.1 L1019.0 1003.0 L1021.0 1003.0 L1023.0 1002.9 L1025.0 1002.6 L1027.0 1002.2 L1029.0 1001.7 L1031.0 1001.2 L1033.0 1000.5 L1035.0 999.8 L1037.0 999.0 L1039.0 998.2 L1041.0 997.4 L1043.0 996.6 L1045.0 995.9 L1047.0 995.2 L1049.0 994.6 L1051.0 994.1 L1053.0 993.6 L1055.0 993.2 L1057.0 992.8 L1059.0 992.4 L1061.0 992.0 L1063.0 991.6 L1065.0 991.2 L1067.0 990.8 L1069.0 990.5 L1071.0 990.1 L1073.0 989.8 L1075.0 989.6 L1077.0 989.4 L1079.0 989.2 L1081.0 989.1 L1083.0 989.0 L1085.0 989.0 L1087.0 989.0 L1089.0 989.0 L1091.0 989.0 L1093.0 989.0 L1095.0 989.0 L1097.0 989.0 L1099.0 989.0 L1101.0 989.0 L1103.0 989.0 L1105.0 989.0 L1107.0 989.0 L1109.0 989.0 L1111.0 989.0 L1113.0 989.0 L1115.0 989.0 L1117.0 988.7 L1119.0 987.9 L1121.0 986.6 L1123.0 985.2 L1125.0 983.6 L1127.0 982.0 L1129.0 980.7 L1131.0 979.6 L1133.0 978.7 L1135.0 977.8 L1137.0 977.0 L1139.0 976.1 L1141.0 975.2 L1143.0 974.3 L1145.0 973.5 L1147.0 972.6 L1149.0 971.9 L1151.0 971.1 L1153.0 970.4 L1155.0 969.7 L1157.0 969.1 L1159.0 968.6 L1161.0 968.1 L1163.0 967.8 L1165.0 967.5 L1167.0 967.2 L1169.0 967.1 L1171.0 967.1 L1173.0 967.3 L1175.0 967.6 L1177.0 967.9 L1179.0 968.4 L1181.0 968.8 L1183.0 969.2 L1185.0 969.7 L1187.0 970.3 L1189.0 970.9 L1191.0 971.5 L1193.0 971.8 L1195.0 972.0 L1197.0 972.0 L1199.0 971.8 L1201.0 971.6 L1203.0 971.3 L1205.0 970.9 L1207.0 970.5 L1209.0 969.0 L1211.0 966.3 L1213.0 962.7 L1215.0 958.7 L1217.0 954.4 L1219.0 949.1 L1221.0 942.9 L1223.0 936.6 L1225.0 930.7 L1227.0 925.5 L1229.0 920.4 L1231.0 915.6 L1233.0 911.0 L1235.0 906.8 L1237.0 902.9 L1239.0 898.7 L1241.0 895.0 L1243.0 892.9 L1245.0 893.1 L1247.0 894.4 L1249.0 896.0 L1251.0 897.2 L1253.0 898.1 L1255.0 899.0 L1257.0 899.8 L1259.0 900.4 L1261.0 900.8 L1263.0 900.9 L1265.0 900.8 L1267.0 900.7 L1269.0 900.4 L1271.0 900.2 L1273.0 899.6 L1275.0 898.3 L1277.0 896.9 L1279.0 895.9 L1281.0 895.8 L1283.0 896.5 L1285.0 897.9 L1287.0 899.7 L1289.0 901.6 L1291.0 904.1 L1293.0 907.4 L1295.0 910.9 L1297.0 913.9 L1299.0 916.0 L1301.0 918.1 L1303.0 919.9 L1305.0 921.1 L1307.0 921.4 L1309.0 921.4 L1311.0 921.4 L1313.0 921.4 L1315.0 921.4 L1317.0 921.4 L1319.0 921.4 L1321.0 921.9 L1323.0 922.8 L1325.0 924.0 L1327.0 925.4 L1329.0 926.8 L1331.0 928.5 L1333.0 930.6 L1335.0 932.8 L1337.0 935.1 L1339.0 937.1 L1341.0 938.8 L1343.0 940.4 L1345.0 941.9 L1347.0 943.4 L1349.0 944.7 L1351.0 946.0 L1353.0 947.1 L1355.0 948.0 L1357.0 948.9 L1359.0 949.7 L1361.0 950.6 L1363.0 951.4 L1365.0 952.0 L1367.0 952.5 L1369.0 952.9 L1371.0 953.0 L1373.0 952.8 L1375.0 952.4 L1377.0 951.7 L1379.0 950.8 L1381.0 949.9 L1383.0 948.9 L1385.0 947.9 L1387.0 947.0 L1389.0 946.3 L1391.0 945.7 L1393.0 945.3 L1395.0 944.8 L1397.0 944.4 L1399.0 944.1 L1401.0 943.7 L1403.0 943.3 L1405.0 943.0 L1407.0 942.6 L1409.0 942.2 L1411.0 941.8 L1413.0 941.2 L1415.0 940.7 L1417.0 940.2 L1419.0 939.8 L1421.0 939.7 L1423.0 939.8 L1425.0 940.1 L1427.0 940.5 L1429.0 940.9 L1431.0 941.1 L1433.0 941.2 L1435.0 940.9 L1437.0 940.3 L1439.0 939.3 L1441.0 938.2 L1443.0 936.9 L1445.0 935.6 L1447.0 934.3 L1449.0 933.2 L1451.0 932.1 L1453.0 931.4 L1455.0 931.0 L1457.0 931.0 L1459.0 931.4 L1461.0 932.3 L1463.0 933.4 L1465.0 934.6 L1467.0 935.8 L1469.0 936.9 L1471.0 937.7 L1473.0 938.2 L1475.0 937.8 L1477.0 936.3 L1479.0 934.3 L1481.0 932.7 L1483.0 931.0 L1485.0 929.1 L1487.0 927.2 L1489.0 925.3 L1491.0 923.6 L1493.0 922.2 L1495.0 921.2 L1497.0 920.6 L1499.0 920.7 L1501.0 921.2 L1503.0 922.1 L1505.0 923.0 L1507.0 924.0 L1509.0 924.9 L1511.0 925.4 L1513.0 925.5 L1515.0 925.5 L1517.0 925.5 L1519.0 925.5 L1521.0 925.5 L1523.0 925.5 L1525.0 925.5 L1527.0 925.5 L1529.0 925.6 L1531.0 926.5 L1533.0 928.4 L1535.0 930.9 L1537.0 933.6 L1539.0 936.1 L1541.0 938.2 L1543.0 939.8 L1545.0 941.6 L1547.0 943.2 L1549.0 944.4 L1551.0 944.8 L1553.0 944.2 L1555.0 942.7 L1557.0 940.6 L1559.0 938.2 L1561.0 935.9 L1563.0 934.1 L1565.0 932.9 L1567.0 931.7 L1569.0 930.6 L1571.0 929.6 L1573.0 929.0 L1575.0 928.7 L1577.0 929.0 L1579.0 930.0 L1581.0 931.5 L1583.0 933.3 L1585.0 935.3 L1587.0 937.1 L1589.0 938.6 L1591.0 939.6 L1593.0 940.0 L1595.0 937.8 L1597.0 932.5 L1599.0 925.2 L1601.0 917.4 L1603.0 907.3 L1605.0 895.0 L1607.0 882.2 L1609.0 869.0 L1611.0 854.7 L1613.0 840.2 L1615.0 830.0 L1617.0 825.7 L1619.0 822.5 L1621.0 820.1 L1623.0 819.0 L1625.0 819.5 L1627.0 821.4 L1629.0 824.5 L1631.0 828.4 L1633.0 833.0 L1635.0 841.0 L1637.0 853.5 L1639.0 865.2 L1641.0 871.8 L1643.0 877.0 L1645.0 881.2 L1647.0 883.7 L1649.0 883.8 L1651.0 882.6 L1653.0 880.3 L1655.0 877.5 L1657.0 874.4 L1659.0 871.4 L1661.0 868.7 L1663.0 865.9 L1665.0 862.9 L1667.0 859.8 L1669.0 856.7 L1671.0 853.6 L1673.0 850.3 L1675.0 846.4 L1677.0 842.1 L1679.0 837.8 L1681.0 834.0 L1683.0 831.0 L1685.0 829.4 L1687.0 829.9 L1689.0 834.4 L1691.0 841.4 L1693.0 849.5 L1695.0 857.4 L1697.0 866.9 L1699.0 877.7 L1701.0 888.6 L1703.0 898.6 L1705.0 907.3 L1707.0 916.0 L1709.0 924.4 L1711.0 932.2 L1713.0 939.1 L1715.0 944.8 L1717.0 949.6 L1719.0 954.2 L1721.0 958.3 L1723.0 961.8 L1725.0 964.6 L1727.0 966.6 L1729.0 968.0 L1731.0 969.3 L1733.0 970.4 L1735.0 971.0 L1737.0 971.1 L1739.0 970.6 L1741.0 969.6 L1743.0 968.4 L1745.0 967.1 L1747.0 965.8 L1749.0 964.7 L1751.0 963.9 L1753.0 963.2 L1755.0 962.6 L1757.0 962.1 L1759.0 961.8 L1761.0 962.1 L1763.0 963.5 L1765.0 966.1 L1767.0 969.4 L1769.0 973.3 L1771.0 977.3 L1773.0 981.4 L1775.0 985.4 L1777.0 990.3 L1779.0 995.8 L1781.0 1001.7 L1783.0 1007.3 L1785.0 1012.4 L1787.0 1016.6 L1789.0 1019.7 L1791.0 1022.4 L1793.0 1024.8 L1795.0 1027.1 L1797.0 1029.2 L1799.0 1031.2 L1801.0 1033.0 L1803.0 1034.6 L1805.0 1036.2 L1807.0 1037.7 L1809.0 1039.2 L1811.0 1040.6 L1813.0 1042.0 L1815.0 1043.4 L1817.0 1044.6 L1819.0 1045.9 L1821.0 1047.1 L1823.0 1048.2 L1825.0 1049.3 L1827.0 1050.3 L1829.0 1051.1 L1831.0 1052.0 L1833.0 1052.7 L1834.0 1053.0" stroke="#ff0000"/>
<path d="M301.0 1021.5 L303.0 1021.8 L305.0 1022.0 L307.0 1022.3 L309.0 1022.6 L311.0 1022.9 L313.0 1023.2 L315.0 1023.6 L317.0 1024.0 L319.0 1024.5 L321.0 1025.2 L323.0 1025.8 L325.0 1026.4 L327.0 1027.0 L329.0 1027.3 L331.0 1027.5 L333.0 1027.4 L335.0 1027.2 L337.0 1026.9 L339.0 1026.4 L341.0 1026.0 L343.0 1025.5 L345.0 1024.9 L347.0 1024.4 L349.0 1024.0 L351.0 1023.5 L353.0 1023.0 L355.0 1022.5 L357.0 1021.9 L359.0 1021.4 L361.0 1020.9 L363.0 1020.5 L365.0 1020.2 L367.0 1020.1 L369.0 1020.2 L371.0 1020.6 L373.0 1021.2 L375.0 1021.9 L377.0 1022.8 L379.0 1023.8 L381.0 1024.7 L383.0 1025.6 L385.0 1026.4 L387.0 1027.3 L389.0 1028.3 L391.0 1029.2 L393.0 1030.0 L395.0 1030.6 L397.0 1031.0 L399.0 1031.2 L401.0 1031.4 L403.0 1031.3 L405.0 1031.3 L407.0 1031.2 L409.0 1031.1 L411.0 1031.1 L413.0 1031.0 L415.0 1031.0 L417.0 1030.9 L419.0 1030.9 L421.0 1030.8 L423.0 1030.8 L425.0 1030.7 L427.0 1030.6 L429.0 1030.4 L431.0 1030.2 L433.0 1029.9 L435.0 1029.6 L437.0 1029.3 L439.0 1029.1 L441.0 1029.0 L443.0 1029.1 L445.0 1029.2 L447.0 1029.4 L449.0 1029.7 L451.0 1029.9 L453.0 1030.0 L455.0 1030.1 L457.0 1030.2 L459.0 1030.0 L461.0 1029.8 L463.0 1029.4 L465.0 1028.9 L467.0 1028.3 L469.0 1027.8 L471.0 1027.3 L473.0 1026.7 L475.0 1025.7 L477.0 1024.4 L479.0 1023.1 L481.0 1021.9 L483.0 1020.3 L485.0 1018.6 L487.0 1017.4 L489.0 1017.1 L491.0 1018.3 L493.0 1020.7 L495.0 1023.6 L497.0 1026.3 L499.0 1028.7 L501.0 1031.3 L503.0 1033.8 L505.0 1035.9 L507.0 1037.3 L509.0 1037.5 L511.0 1037.4 L513.0 1037.1 L515.0 1036.7 L517.0 1036.2 L519.0 1035.6 L521.0 1034.9 L523.0 1034.3 L525.0 1033.6 L527.0 1033.0 L529.0 1032.3 L531.0 1031.5 L533.0 1030.6 L535.0 1029.6 L537.0 1028.6 L539.0 1027.7 L541.0 1027.0 L543.0 1026.5 L545.0 1026.4 L547.0 1026.6 L549.0 1027.4 L551.0 1028.5 L553.0 1029.6 L555.0 1030.7 L557.0 1031.5 L559.0 1031.7 L561.0 1031.6 L563.0 1031.2 L565.0 1030.7 L567.0 1029.9 L569.0 1029.1 L571.0 1028.1 L573.0 1027.1 L575.0 1026.1 L577.0 1025.0 L579.0 1023.8 L581.0 1022.7 L583.0 1021.6 L585.0 1020.5 L587.0 1019.5 L589.0 1018.7 L591.0 1018.2 L593.0 1018.4 L595.0 1019.0 L597.0 1019.7 L599.0 1020.4 L601.0 1020.9 L603.0 1021.1 L605.0 1021.2 L607.0 1021.2 L609.0 1021.3 L611.0 1021.3 L613.0 1021.4 L615.0 1021.5 L617.0 1021.7 L619.0 1021.9 L621.0 1022.3 L623.0 1022.6 L625.0 1023.0 L627.0 1023.4 L629.0 1023.7 L631.0 1024.0 L633.0 1024.3 L635.0 1024.4 L637.0 1024.5 L639.0 1024.4 L641.0 1024.0 L643.0 1023.3 L645.0 1022.4 L647.0 1021.4 L649.0 1020.3 L651.0 1019.1 L653.0 1018.0 L655.0 1016.7 L657.0 1015.0 L659.0 1013.0 L661.0 1010.9 L663.0 1008.9 L665.0 1007.1 L667.0 1005.6 L669.0 1004.5 L671.0 1003.9 L673.0 1003.9 L675.0 1004.3 L677.0 1004.9 L679.0 1005.5 L681.0 1006.1 L683.0 1006.4 L685.0 1006.3 L687.0 1005.7 L689.0 1004.6 L691.0 1003.3 L693.0 1001.7 L695.0 999.4 L697.0 997.1 L699.0 994.5 L701.0 991.9 L703.0 990.7 L705.0 991.7 L707.0 993.9 L709.0 996.3 L711.0 998.8 L713.0 1001.6 L715.0 1003.7 L717.0 1005.2 L719.0 1006.5 L721.0 1006.8 L723.0 1007.4 L725.0 1008.1 L727.0 1008.8 L729.0 1009.4 L731.0 1009.6 L733.0 1009.5 L735.0 1009.2 L737.0 1008.7 L739.0 1008.1 L741.0 1007.4 L743.0 1006.6 L745.0 1005.9 L747.0 1005.2 L749.0 1004.5 L751.0 1004.0 L753.0 1003.6 L755.0 1003.4 L757.0 1003.3 L759.0 1003.3 L761.0 1003.2 L763.0 1003.2 L765.0 1003.2 L767.0 1003.1 L769.0 1003.0 L771.0 1002.9 L773.0 1002.6 L775.0 1002.1 L777.0 1001.8 L779.0 1001.8 L781.0 1001.8 L783.0 1001.8 L785.0 1001.8 L787.0 1001.8 L789.0 1001.8 L791.0 1001.8 L793.0 1001.8 L795.0 1001.8 L797.0 1001.8 L799.0 1001.8 L801.0 1001.8 L803.0 1001.8 L805.0 1001.5 L807.0 1001.0 L809.0 1000.3 L811.0 999.6 L813.0 998.9 L815.0 998.4 L817.0 998.0 L819.0 997.8 L821.0 997.5 L823.0 997.3 L825.0 996.9 L827.0 995.8 L829.0 994.4 L831.0 992.9 L833.0 991.4 L835.0 990.1 L837.0 988.7 L839.0 987.4 L841.0 986.6 L843.0 986.6 L845.0 987.4 L847.0 988.6 L849.0 989.9 L851.0 991.4 L853.0 993.3 L855.0 995.0 L857.0 995.6 L859.0 995.5 L861.0 995.5 L863.0 995.4 L865.0 995.3 L867.0 995.2 L869.0 995.1 L871.0 995.0 L873.0 994.9 L875.0 994.8 L877.0 994.7 L879.0 994.7 L881.0 994.8 L883.0 995.1 L885.0 995.7 L887.0 996.5 L889.0 997.4 L891.0 998.2 L893.0 998.8 L895.0 999.1 L897.0 999.1 L899.0 998.6 L901.0 997.8 L903.0 996.6 L905.0 995.1 L907.0 993.6 L909.0 992.1 L911.0 990.6 L913.0 988.7 L915.0 986.6 L917.0 984.3 L919.0 981.9 L921.0 979.6 L923.0 977.8 L925.0 976.5 L927.0 976.0 L929.0 976.3 L931.0 977.1 L933.0 978.2 L935.0 979.6 L937.0 981.1 L939.0 982.6 L941.0 983.9 L943.0 985.0 L945.0 985.7 L947.0 986.0 L949.0 986.2 L951.0 986.4 L953.0 986.6 L955.0 986.7 L957.0 986.9 L959.0 987.0 L961.0 987.1 L963.0 987.2 L965.0 987.3 L967.0 987.4 L969.0 987.4 L971.0 987.5 L973.0 987.5 L975.0 987.5 L977.0 987.3 L979.0 986.8 L981.0 985.9 L983.0 985.0 L985.0 984.1 L987.0 983.3 L989.0 982.5 L991.0 981.6 L993.0 980.7 L995.0 980.0 L997.0 979.6 L999.0 979.6 L1001.0 980.3 L1003.0 981.5 L1005.0 983.1 L1007.0 984.7 L1009.0 986.1 L1011.0 987.0 L1013.0 987.8 L1015.0 988.4 L1017.0 988.9 L1019.0 988.7 L1021.0 988.5 L1023.0 988.3 L1025.0 988.1 L1027.0 987.8 L1029.0 987.5 L1031.0 987.1 L1033.0 986.5 L1035.0 985.8 L1037.0 985.0 L1039.0 984.1 L1041.0 983.1 L1043.0 982.1 L1045.0 981.2 L1047.0 980.2 L1049.0 979.4 L1051.0 978.7 L1053.0 978.1 L1055.0 977.6 L1057.0 977.1 L1059.0 976.6 L1061.0 976.1 L1063.0 975.6 L1065.0 975.1 L1067.0 974.7 L1069.0 974.3 L1071.0 973.9 L1073.0 973.6 L1075.0 973.3 L1077.0 973.0 L1079.0 972.8 L1081.0 972.7 L1083.0 972.6 L1085.0 972.6 L1087.0 972.7 L1089.0 972.8 L1091.0 973.0 L1093.0 973.2 L1095.0 973.4 L1097.0 973.7 L1099.0 974.0 L1101.0 974.3 L1103.0 974.8 L1105.0 975.6 L1107.0 976.3 L1109.0 977.1 L1111.0 977.7 L1113.0 978.1 L1115.0 977.9 L1117.0 976.4 L1119.0 974.1 L1121.0 971.8 L1123.0 970.2 L1125.0 969.0 L1127.0 967.7 L1129.0 966.6 L1131.0 965.9 L1133.0 965.4 L1135.0 965.0 L1137.0 964.6 L1139.0 964.1 L1141.0 963.6 L1143.0 963.0 L1145.0 962.4 L1147.0 961.6 L1149.0 960.7 L1151.0 959.5 L1153.0 958.1 L1155.0 956.6 L1157.0 955.1 L1159.0 953.6 L1161.0 952.0 L1163.0 950.6 L1165.0 949.4 L1167.0 948.5 L1169.0 948.1 L1171.0 948.1 L1173.0 948.4 L1175.0 948.9 L1177.0 949.4 L1179.0 949.7 L1181.0 949.8 L1183.0 949.4 L1185.0 948.9 L1187.0 948.2 L1189.0 947.4 L1191.0 945.6 L1193.0 943.6 L1195.0 941.8 L1197.0 940.4 L1199.0 939.0 L1201.0 937.3 L1203.0 935.3 L1205.0 932.9 L1207.0 929.8 L1209.0 925.5 L1211.0 919.8 L1213.0 913.6 L1215.0 907.3 L1217.0 900.2 L1219.0 890.7 L1221.0 876.4 L1223.0 861.5 L1225.0 848.9 L1227.0 837.0 L1229.0 826.2 L1231.0 816.8 L1233.0 808.1 L1235.0 801.0 L1237.0 795.3 L1239.0 790.3 L1241.0 787.2 L1243.0 785.2 L1245.0 785.4 L1247.0 786.8 L1249.0 791.1 L1251.0 798.3 L1253.0 806.3 L1255.0 816.0 L1257.0 824.5 L1259.0 829.2 L1261.0 832.4 L1263.0 834.6 L1265.0 835.9 L1267.0 836.7 L1269.0 837.3 L1271.0 837.5 L1273.0 837.5 L1275.0 837.4 L1277.0 837.4 L1279.0 838.5 L1281.0 839.8 L1283.0 841.2 L1285.0 842.9 L1287.0 845.0 L1289.0 847.8 L1291.0 850.9 L1293.0 854.3 L1295.0 857.7 L1297.0 861.6 L1299.0 865.9 L1301.0 870.3 L1303.0 874.3 L1305.0 878.5 L1307.0 880.8 L1309.0 881.7 L1311.0 882.4 L1313.0 883.1 L1315.0 883.7 L1317.0 884.3 L1319.0 885.0 L1321.0 885.9 L1323.0 887.0 L1325.0 888.3 L1327.0 889.9 L1329.0 891.7 L1331.0 893.5 L1333.0 895.4 L1335.0 897.2 L1337.0 898.9 L1339.0 900.8 L1341.0 902.8 L1343.0 905.1 L1345.0 907.5 L1347.0 910.1 L1349.0 912.7 L1351.0 915.2 L1353.0 917.4 L1355.0 919.6 L1357.0 921.5 L1359.0 923.0 L1361.0 924.4 L1363.0 925.7 L1365.0 926.8 L1367.0 927.5 L1369.0 927.9 L1371.0 927.9 L1373.0 927.4 L1375.0 926.4 L1377.0 925.2 L1379.0 923.8 L1381.0 922.5 L1383.0 921.5 L1385.0 920.8 L1387.0 920.5 L1389.0 920.4 L1391.0 920.3 L1393.0 920.2 L1395.0 920.2 L1397.0 920.1 L1399.0 919.9 L1401.0 919.5 L1403.0 918.8 L1405.0 917.9 L1407.0 916.8 L1409.0 915.6 L1411.0 914.5 L1413.0 913.1 L1415.0 911.3 L1417.0 909.4 L1419.0 907.1 L1421.0 904.8 L1423.0 901.8 L1425.0 898.2 L1427.0 893.9 L1429.0 890.1 L1431.0 886.8 L1433.0 883.6 L1435.0 880.1 L1437.0 876.3 L1439.0 872.2 L1441.0 868.2 L1443.0 864.5 L1445.0 861.1 L1447.0 857.8 L1449.0 855.0 L1451.0 853.1 L1453.0 851.4 L1455.0 850.4 L1457.0 849.5 L1459.0 848.8 L1461.0 848.8 L1463.0 850.3 L1465.0 853.2 L1467.0 855.6 L1469.0 858.3 L1471.0 861.1 L1473.0 863.3 L1475.0 864.6 L1477.0 865.2 L1479.0 865.8 L1481.0 866.1 L1483.0 866.0 L1485.0 866.1 L1487.0 866.3 L1489.0 867.3 L1491.0 868.7 L1493.0 870.0 L1495.0 871.1 L1497.0 872.6 L1499.0 874.7 L1501.0 877.2 L1503.0 879.5 L1505.0 881.3 L1507.0 882.3 L1509.0 883.0 L1511.0 883.7 L1513.0 884.3 L1515.0 885.0 L1517.0 885.6 L1519.0 886.1 L1521.0 886.6 L1523.0 887.0 L1525.0 887.3 L1527.0 887.5 L1529.0 888.0 L1531.0 889.0 L1533.0 890.0 L1535.0 891.0 L1537.0 892.0 L1539.0 893.0 L1541.0 894.0 L1543.0 895.0 L1545.0 895.8 L1547.0 895.3 L1549.0 893.4 L1551.0 890.9 L1553.0 888.2 L1555.0 884.6 L1557.0 880.8 L1559.0 878.0 L1561.0 875.4 L1563.0 873.5 L1565.0 872.5 L1567.0 872.5 L1569.0 873.1 L1571.0 874.1 L1573.0 875.7 L1575.0 878.1 L1577.0 881.7 L1579.0 885.8 L1581.0 889.7 L1583.0 892.6 L1585.0 894.7 L1587.0 896.2 L1589.0 896.0 L1591.0 893.3 L1593.0 888.5 L1595.0 882.4 L1597.0 875.5 L1599.0 865.6 L1601.0 853.5 L1603.0 839.8 L1605.0 824.2 L1607.0 805.2 L1609.0 785.9 L1611.0 765.4 L1613.0 747.9 L1615.0 732.7 L1617.0 720.2 L1619.0 717.4 L1621.0 724.5 L1623.0 735.3 L1625.0 745.5 L1627.0 755.4 L1629.0 765.8 L1631.0 776.4 L1633.0 786.9 L1635.0 798.1 L1637.0 809.0 L1639.0 817.4 L1641.0 823.7 L1643.0 824.0 L1645.0 821.8 L1647.0 818.7 L1649.0 813.8 L1651.0 806.1 L1653.0 791.7 L1655.0 773.9 L1657.0 752.6 L1659.0 735.1 L1661.0 724.6 L1663.0 716.7 L1665.0 709.8 L1667.0 702.6 L1669.0 693.7 L1671.0 682.9 L1673.0 671.2 L1675.0 659.2 L1677.0 647.4 L1679.0 635.0 L1681.0 624.5 L1683.0 615.6 L1685.0 608.8 L1687.0 608.4 L1689.0 618.2 L1691.0 632.4 L1693.0 648.9 L1695.0 668.8 L1697.0 691.1 L1699.0 716.1 L1701.0 745.9 L1703.0 774.1 L1705.0 798.0 L1707.0 820.6 L1709.0 841.9 L1711.0 857.7 L1713.0 869.6 L1715.0 879.9 L1717.0 889.0 L1719.0 897.4 L1721.0 905.5 L1723.0 914.1 L1725.0 922.7 L1727.0 930.5 L1729.0 936.8 L1731.0 941.5 L1733.0 945.9 L1735.0 949.7 L1737.0 952.0 L1739.0 953.6 L1741.0 954.5 L1743.0 954.7 L1745.0 954.2 L1747.0 953.3 L1749.0 952.2 L1751.0 951.0 L1753.0 949.9 L1755.0 948.9 L1757.0 948.2 L1759.0 947.6 L1761.0 947.7 L1763.0 949.0 L1765.0 951.6 L1767.0 955.1 L1769.0 959.4 L1771.0 964.3 L1773.0 969.6 L1775.0 975.1 L1777.0 980.8 L1779.0 986.2 L1781.0 991.4 L1783.0 996.0 L1785.0 999.9 L1787.0 1003.1 L1789.0 1006.1 L1791.0 1008.9 L1793.0 1011.6 L1795.0 1014.2 L1797.0 1016.7 L1799.0 1019.1 L1801.0 1021.4 L1803.0 1023.4 L1805.0 1025.3 L1807.0 1027.1 L1809.0 1028.6 L1811.0 1030.0 L1813.0 1031.4 L1815.0 1032.7 L1817.0 1034.0 L1819.0 1035.2 L1821.0 1036.4 L1823.0 1037.5 L1825.0 1038.4 L1827.0 1039.3 L1829.0 1040.1 L1831.0 1040.7 L1833.0 1041.2 L1834.0 1041.4" stroke="#0000ff"/>
<path d="M301.0 1033.3 L303.0 1033.6 L305.0 1033.9 L307.0 1034.2 L309.0 1034.5 L311.0 1034.8 L313.0 1035.2 L315.0 1035.5 L317.0 1035.8 L319.0 1036.2 L321.0 1036.7 L323.0 1037.1 L325.0 1037.5 L327.0 1037.9 L329.0 1038.1 L331.0 1038.2 L333.0 1038.1 L335.0 1037.8 L337.0 1037.3 L339.0 1036.7 L341.0 1036.0 L343.0 1035.3 L345.0 1034.6 L347.0 1033.9 L349.0 1033.2 L351.0 1032.7 L353.0 1032.0 L355.0 1031.3 L357.0 1030.5 L359.0 1029.8 L361.0 1029.1 L363.0 1028.6 L365.0 1028.2 L367.0 1028.1 L369.0 1028.2 L371.0 1028.7 L373.0 1029.4 L375.0 1030.4 L377.0 1031.5 L379.0 1032.6 L381.0 1033.7 L383.0 1034.7 L385.0 1035.6 L387.0 1036.4 L389.0 1037.4 L391.0 1038.3 L393.0 1039.3 L395.0 1040.2 L397.0 1040.9 L399.0 1041.5 L401.0 1041.9 L403.0 1042.1 L405.0 1042.2 L407.0 1042.3 L409.0 1042.3 L411.0 1042.3 L413.0 1042.3 L415.0 1042.1 L417.0 1042.0 L419.0 1041.8 L421.0 1041.7 L423.0 1041.5 L425.0 1041.3 L427.0 1041.1 L429.0 1040.9 L431.0 1040.7 L433.0 1040.5 L435.0 1040.4 L437.0 1040.2 L439.0 1040.1 L441.0 1040.0 L443.0 1040.1 L445.0 1040.1 L447.0 1040.3 L449.0 1040.4 L451.0 1040.5 L453.0 1040.6 L455.0 1040.7 L457.0 1040.8 L459.0 1040.8 L461.0 1040.8 L463.0 1040.7 L465.0 1040.5 L467.0 1040.2 L469.0 1039.9 L471.0 1039.6 L473.0 1039.0 L475.0 1037.8 L477.0 1036.1 L479.0 1034.2 L481.0 1032.5 L483.0 1030.2 L485.0 1027.8 L487.0 1026.0 L489.0 1025.3 L491.0 1026.4 L493.0 1028.8 L495.0 1031.8 L497.0 1034.4 L499.0 1036.8 L501.0 1039.4 L503.0 1042.0 L505.0 1044.2 L507.0 1045.7 L509.0 1045.9 L511.0 1045.8 L513.0 1045.7 L515.0 1045.4 L517.0 1045.0 L519.0 1044.4 L521.0 1043.8 L523.0 1043.1 L525.0 1042.4 L527.0 1041.7 L529.0 1041.0 L531.0 1040.2 L533.0 1039.4 L535.0 1038.7 L537.0 1037.9 L539.0 1037.3 L541.0 1036.8 L543.0 1036.5 L545.0 1036.4 L547.0 1036.6 L549.0 1037.2 L551.0 1037.8 L553.0 1038.6 L555.0 1039.2 L557.0 1039.7 L559.0 1039.8 L561.0 1039.6 L563.0 1039.1 L565.0 1038.3 L567.0 1037.3 L569.0 1036.3 L571.0 1035.2 L573.0 1034.1 L575.0 1033.1 L577.0 1032.0 L579.0 1030.8 L581.0 1029.6 L583.0 1028.4 L585.0 1027.2 L587.0 1026.3 L589.0 1025.6 L591.0 1025.4 L593.0 1025.7 L595.0 1026.4 L597.0 1027.3 L599.0 1028.1 L601.0 1028.8 L603.0 1029.1 L605.0 1029.2 L607.0 1029.4 L609.0 1029.5 L611.0 1029.6 L613.0 1029.8 L615.0 1030.0 L617.0 1030.3 L619.0 1030.6 L621.0 1030.9 L623.0 1031.3 L625.0 1031.6 L627.0 1031.9 L629.0 1032.2 L631.0 1032.4 L633.0 1032.5 L635.0 1032.6 L637.0 1032.5 L639.0 1032.2 L641.0 1031.6 L643.0 1030.7 L645.0 1029.7 L647.0 1028.5 L649.0 1027.3 L651.0 1026.0 L653.0 1024.9 L655.0 1023.7 L657.0 1022.2 L659.0 1020.4 L661.0 1018.4 L663.0 1016.2 L665.0 1014.1 L667.0 1012.1 L669.0 1010.6 L671.0 1009.8 L673.0 1009.7 L675.0 1010.0 L677.0 1010.4 L679.0 1010.9 L681.0 1011.4 L683.0 1011.7 L685.0 1011.7 L687.0 1011.3 L689.0 1010.4 L691.0 1009.4 L693.0 1008.1 L695.0 1006.0 L697.0 1003.7 L699.0 1001.1 L701.0 998.5 L703.0 997.4 L705.0 998.8 L707.0 1001.7 L709.0 1004.9 L711.0 1008.1 L713.0 1011.5 L715.0 1014.2 L717.0 1016.2 L719.0 1017.9 L721.0 1018.3 L723.0 1018.8 L725.0 1019.4 L727.0 1020.1 L729.0 1020.5 L731.0 1020.8 L733.0 1020.9 L735.0 1020.8 L737.0 1020.5 L739.0 1020.2 L741.0 1019.7 L743.0 1019.2 L745.0 1018.6 L747.0 1017.9 L749.0 1017.4 L751.0 1016.9 L753.0 1016.5 L755.0 1016.3 L757.0 1016.2 L759.0 1016.1 L761.0 1016.1 L763.0 1016.0 L765.0 1016.0 L767.0 1015.9 L769.0 1015.9 L771.0 1015.7 L773.0 1015.5 L775.0 1015.2 L777.0 1014.9 L779.0 1014.8 L781.0 1014.7 L783.0 1014.6 L785.0 1014.4 L787.0 1014.3 L789.0 1014.2 L791.0 1014.0 L793.0 1013.9 L795.0 1013.8 L797.0 1013.6 L799.0 1013.4 L801.0 1013.1 L803.0 1012.9 L805.0 1012.4 L807.0 1011.9 L809.0 1011.3 L811.0 1010.6 L813.0 1010.1 L815.0 1009.6 L817.0 1009.3 L819.0 1009.2 L821.0 1009.1 L823.0 1009.0 L825.0 1008.7 L827.0 1007.6 L829.0 1006.2 L831.0 1004.6 L833.0 1003.1 L835.0 1001.7 L837.0 1000.4 L839.0 999.1 L841.0 998.2 L843.0 998.4 L845.0 999.5 L847.0 1001.0 L849.0 1002.7 L851.0 1004.7 L853.0 1007.1 L855.0 1009.2 L857.0 1010.1 L859.0 1010.2 L861.0 1010.3 L863.0 1010.4 L865.0 1010.4 L867.0 1010.4 L869.0 1010.4 L871.0 1010.4 L873.0 1010.4 L875.0 1010.4 L877.0 1010.4 L879.0 1010.4 L881.0 1010.5 L883.0 1010.8 L885.0 1011.2 L887.0 1011.7 L889.0 1012.2 L891.0 1012.7 L893.0 1013.0 L895.0 1013.2 L897.0 1013.1 L899.0 1012.6 L901.0 1011.7 L903.0 1010.6 L905.0 1009.2 L907.0 1007.7 L909.0 1006.1 L911.0 1004.6 L913.0 1002.5 L915.0 1000.1 L917.0 997.5 L919.0 994.6 L921.0 991.9 L923.0 989.7 L925.0 988.2 L927.0 987.6 L929.0 988.0 L931.0 989.1 L933.0 990.7 L935.0 992.6 L937.0 994.7 L939.0 996.7 L941.0 998.6 L943.0 1000.0 L945.0 1000.9 L947.0 1001.1 L949.0 1001.1 L951.0 1001.1 L953.0 1001.0 L955.0 1000.8 L957.0 1000.6 L959.0 1000.3 L961.0 1000.1 L963.0 999.8 L965.0 999.6 L967.0 999.4 L969.0 999.2 L971.0 999.0 L973.0 999.0 L975.0 998.9 L977.0 998.8 L979.0 998.4 L981.0 997.7 L983.0 996.9 L985.0 996.1 L987.0 995.3 L989.0 994.5 L991.0 993.5 L993.0 992.4 L995.0 991.4 L997.0 990.7 L999.0 990.5 L1001.0 991.1 L1003.0 992.3 L1005.0 994.0 L1007.0 995.7 L1009.0 997.2 L1011.0 998.2 L1013.0 999.1 L1015.0 1000.0 L1017.0 1000.6 L1019.0 1000.5 L1021.0 1000.4 L1023.0 1000.3 L1025.0 1000.0 L1027.0 999.7 L1029.0 999.4 L1031.0 999.0 L1033.0 998.5 L1035.0 997.8 L1037.0 997.0 L1039.0 996.2 L1041.0 995.3 L1043.0 994.5 L1045.0 993.6 L1047.0 992.7 L1049.0 992.0 L1051.0 991.2 L1053.0 990.6 L1055.0 990.0 L1057.0 989.4 L1059.0 988.7 L1061.0 988.1 L1063.0 987.4 L1065.0 986.7 L1067.0 986.1 L1069.0 985.5 L1071.0 985.0 L1073.0 984.6 L1075.0 984.3 L1077.0 984.2 L1079.0 984.1 L1081.0 984.1 L1083.0 984.2 L1085.0 984.3 L1087.0 984.6 L1089.0 984.8 L1091.0 985.2 L1093.0 985.5 L1095.0 985.9 L1097.0 986.3 L1099.0 986.7 L1101.0 987.1 L1103.0 987.8 L1105.0 988.6 L1107.0 989.4 L1109.0 990.2 L1111.0 990.9 L1113.0 991.3 L1115.0 991.3 L1117.0 990.2 L1119.0 988.5 L1121.0 986.5 L1123.0 984.8 L1125.0 983.2 L1127.0 981.2 L1129.0 979.5 L1131.0 978.2 L1133.0 977.1 L1135.0 976.2 L1137.0 975.4 L1139.0 974.7 L1141.0 974.1 L1143.0 973.5 L1145.0 972.9 L1147.0 972.3 L1149.0 971.5 L1151.0 970.7 L1153.0 969.7 L1155.0 968.7 L1157.0 967.6 L1159.0 966.6 L1161.0 965.4 L1163.0 964.3 L1165.0 963.4 L1167.0 962.7 L1169.0 962.3 L1171.0 962.2 L1173.0 962.4 L1175.0 962.7 L1177.0 963.0 L1179.0 963.1 L1181.0 963.1 L1183.0 962.8 L1185.0 962.1 L1187.0 961.3 L1189.0 960.2 L1191.0 958.0 L1193.0 955.3 L1195.0 952.7 L1197.0 950.4 L1199.0 948.2 L1201.0 945.7 L1203.0 942.8 L1205.0 939.3 L1207.0 935.3 L1209.0 930.0 L1211.0 923.6 L1213.0 916.8 L1215.0 910.0 L1217.0 902.3 L1219.0 891.8 L1221.0 875.7 L1223.0 859.0 L1225.0 845.0 L1227.0 831.8 L1229.0 819.9 L1231.0 809.7 L1233.0 800.4 L1235.0 792.9 L1237.0 787.0 L1239.0 781.9 L1241.0 778.9 L1243.0 778.2 L1245.0 780.2 L1247.0 783.6 L1249.0 790.3 L1251.0 800.2 L1253.0 810.8 L1255.0 823.1 L1257.0 833.9 L1259.0 840.1 L1261.0 844.6 L1263.0 847.8 L1265.0 849.8 L1267.0 851.1 L1269.0 852.0 L1271.0 852.5 L1273.0 852.6 L1275.0 852.6 L1277.0 852.7 L1279.0 853.7 L1281.0 854.8 L1283.0 856.0 L1285.0 857.6 L1287.0 859.7 L1289.0 862.4 L1291.0 865.6 L1293.0 869.1 L1295.0 872.7 L1297.0 876.8 L1299.0 881.5 L1301.0 886.2 L1303.0 890.5 L1305.0 895.0 L1307.0 897.4 L1309.0 898.2 L1311.0 898.9 L1313.0 899.4 L1315.0 899.8 L1317.0 900.3 L1319.0 900.8 L1321.0 901.5 L1323.0 902.5 L1325.0 903.8 L1327.0 905.3 L1329.0 907.0 L1331.0 908.8 L1333.0 910.7 L1335.0 912.4 L1337.0 914.1 L1339.0 915.8 L1341.0 917.7 L1343.0 919.7 L1345.0 922.0 L1347.0 924.5 L1349.0 927.0 L1351.0 929.6 L1353.0 932.1 L1355.0 934.6 L1357.0 936.8 L1359.0 938.7 L1361.0 940.5 L1363.0 942.2 L1365.0 943.7 L1367.0 944.8 L1369.0 945.5 L1371.0 945.6 L1373.0 945.1 L1375.0 944.1 L1377.0 942.7 L1379.0 941.1 L1381.0 939.5 L1383.0 938.1 L1385.0 937.1 L1387.0 936.5 L1389.0 936.3 L1391.0 936.2 L1393.0 936.2 L1395.0 936.1 L1397.0 936.0 L1399.0 935.9 L1401.0 935.5 L1403.0 934.5 L1405.0 933.1 L1407.0 931.6 L1409.0 930.0 L1411.0 928.7 L1413.0 927.1 L1415.0 925.1 L1417.0 922.8 L1419.0 920.1 L1421.0 917.2 L1423.0 913.6 L1425.0 909.0 L1427.0 903.5 L1429.0 898.6 L1431.0 894.3 L1433.0 890.1 L1435.0 885.6 L1437.0 880.4 L1439.0 874.9 L1441.0 869.4 L1443.0 864.3 L1445.0 859.6 L1447.0 855.0 L1449.0 851.1 L1451.0 848.3 L1453.0 845.8 L1455.0 844.3 L1457.0 845.6 L1459.0 849.7 L1461.0 854.4 L1463.0 860.3 L1465.0 866.9 L1467.0 872.5 L1469.0 877.7 L1471.0 882.5 L1473.0 886.3 L1475.0 887.7 L1477.0 887.2 L1479.0 886.6 L1481.0 885.9 L1483.0 884.9 L1485.0 883.8 L1487.0 883.7 L1489.0 884.7 L1491.0 886.1 L1493.0 887.4 L1495.0 888.5 L1497.0 890.0 L1499.0 891.9 L1501.0 894.1 L1503.0 896.2 L1505.0 897.7 L1507.0 898.7 L1509.0 899.4 L1511.0 900.1 L1513.0 900.8 L1515.0 901.4 L1517.0 902.1 L1519.0 902.6 L1521.0 903.1 L1523.0 903.6 L1525.0 904.0 L1527.0 904.2 L1529.0 904.8 L1531.0 905.6 L1533.0 906.5 L1535.0 907.3 L1537.0 908.1 L1539.0 908.8 L1541.0 909.5 L1543.0 910.2 L1545.0 910.9 L1547.0 910.2 L1549.0 907.9 L1551.0 905.0 L1553.0 901.7 L1555.0 897.5 L1557.0 892.8 L1559.0 888.6 L1561.0 884.5 L1563.0 880.9 L1565.0 879.0 L1567.0 878.8 L1569.0 879.3 L1571.0 880.0 L1573.0 881.2 L1575.0 883.3 L1577.0 886.6 L1579.0 890.5 L1581.0 894.2 L1583.0 896.9 L1585.0 898.8 L1587.0 900.2 L1589.0 899.9 L1591.0 897.3 L1593.0 893.0 L1595.0 887.5 L1597.0 881.0 L1599.0 871.0 L1601.0 858.0 L1603.0 843.2 L1605.0 826.1 L1607.0 805.1 L1609.0 783.6 L1611.0 760.7 L1613.0 740.9 L1615.0 723.7 L1617.0 709.4 L1619.0 706.1 L1621.0 714.1 L1623.0 726.4 L1625.0 738.0 L1627.0 749.2 L1629.0 761.1 L1631.0 773.1 L1633.0 785.0 L1635.0 797.7 L1637.0 810.2 L1639.0 819.7 L1641.0 826.9 L1643.0 827.2 L1645.0 824.6 L1647.0 821.1 L1649.0 815.3 L1651.0 806.5 L1653.0 789.8 L1655.0 769.2 L1657.0 744.7 L1659.0 724.3 L1661.0 712.1 L1663.0 702.8 L1665.0 694.8 L1667.0 686.3 L1669.0 675.8 L1671.0 663.2 L1673.0 649.4 L1675.0 635.3 L1677.0 621.5 L1679.0 606.8 L1681.0 594.3 L1683.0 583.8 L1685.0 575.5 L1687.0 574.9 L1689.0 586.3 L1691.0 602.8 L1693.0 622.0 L1695.0 644.9 L1697.0 670.5 L1699.0 699.2 L1701.0 733.5 L1703.0 765.8 L1705.0 792.9 L1707.0 818.3 L1709.0 842.1 L1711.0 859.5 L1713.0 872.4 L1715.0 883.4 L1717.0 893.1 L1719.0 901.9 L1721.0 910.5 L1723.0 919.5 L1725.0 928.5 L1727.0 936.5 L1729.0 942.8 L1731.0 947.4 L1733.0 951.7 L1735.0 955.6 L1737.0 958.3 L1739.0 960.5 L1741.0 961.9 L1743.0 962.5 L1745.0 962.2 L1747.0 961.5 L1749.0 960.4 L1751.0 959.2 L1753.0 958.1 L1755.0 957.0 L1757.0 956.1 L1759.0 955.5 L1761.0 955.6 L1763.0 956.9 L1765.0 959.4 L1767.0 962.8 L1769.0 967.0 L1771.0 971.7 L1773.0 976.9 L1775.0 982.3 L1777.0 987.7 L1779.0 993.0 L1781.0 998.0 L1783.0 1002.5 L1785.0 1006.3 L1787.0 1009.3 L1789.0 1012.2 L1791.0 1014.8 L1793.0 1017.4 L1795.0 1019.8 L1797.0 1022.2 L1799.0 1024.4 L1801.0 1026.5 L1803.0 1028.5 L1805.0 1030.3 L1807.0 1031.9 L1809.0 1033.4 L1811.0 1034.7 L1813.0 1036.1 L1815.0 1037.4 L1817.0 1038.6 L1819.0 1039.8 L1821.0 1040.9 L1823.0 1042.0 L1825.0 1042.9 L1827.0 1043.8 L1829.0 1044.5 L1831.0 1045.2 L1833.0 1045.7 L1834.0 1045.9" stroke="#ff00ff"/>
<path d="M301.0 1029.3 L303.0 1029.5 L305.0 1029.8 L307.0 1030.1 L309.0 1030.4 L311.0 1030.7 L313.0 1031.1 L315.0 1031.4 L317.0 1031.8 L319.0 1032.2 L321.0 1032.7 L323.0 1033.2 L325.0 1033.6 L327.0 1034.0 L329.0 1034.3 L331.0 1034.4 L333.0 1034.3 L335.0 1033.9 L337.0 1033.4 L339.0 1032.8 L341.0 1032.1 L343.0 1031.3 L345.0 1030.5 L347.0 1029.8 L349.0 1029.0 L351.0 1028.4 L353.0 1027.7 L355.0 1026.9 L357.0 1026.0 L359.0 1025.2 L361.0 1024.5 L363.0 1023.9 L365.0 1023.5 L367.0 1023.3 L369.0 1023.4 L371.0 1023.9 L373.0 1024.7 L375.0 1025.7 L377.0 1026.8 L379.0 1028.0 L381.0 1029.2 L383.0 1030.3 L385.0 1031.3 L387.0 1032.3 L389.0 1033.3 L391.0 1034.5 L393.0 1035.5 L395.0 1036.4 L397.0 1037.2 L399.0 1037.8 L401.0 1038.2 L403.0 1038.3 L405.0 1038.4 L407.0 1038.4 L409.0 1038.4 L411.0 1038.3 L413.0 1038.3 L415.0 1038.2 L417.0 1038.1 L419.0 1038.0 L421.0 1037.8 L423.0 1037.7 L425.0 1037.6 L427.0 1037.5 L429.0 1037.3 L431.0 1037.1 L433.0 1036.9 L435.0 1036.8 L437.0 1036.6 L439.0 1036.4 L441.0 1036.3 L443.0 1036.4 L445.0 1036.5 L447.0 1036.7 L449.0 1036.8 L451.0 1036.9 L453.0 1037.0 L455.0 1037.1 L457.0 1037.2 L459.0 1037.1 L461.0 1037.0 L463.0 1036.7 L465.0 1036.4 L467.0 1035.9 L469.0 1035.4 L471.0 1034.9 L473.0 1034.1 L475.0 1032.6 L477.0 1030.5 L479.0 1028.3 L481.0 1026.1 L483.0 1023.3 L485.0 1020.4 L487.0 1018.2 L489.0 1017.4 L491.0 1018.8 L493.0 1021.9 L495.0 1025.7 L497.0 1029.1 L499.0 1032.1 L501.0 1035.5 L503.0 1038.8 L505.0 1041.5 L507.0 1043.4 L509.0 1043.7 L511.0 1043.7 L513.0 1043.6 L515.0 1043.3 L517.0 1042.8 L519.0 1042.3 L521.0 1041.7 L523.0 1041.1 L525.0 1040.4 L527.0 1039.8 L529.0 1039.1 L531.0 1038.4 L533.0 1037.6 L535.0 1036.9 L537.0 1036.1 L539.0 1035.5 L541.0 1035.0 L543.0 1034.7 L545.0 1034.6 L547.0 1034.9 L549.0 1035.5 L551.0 1036.3 L553.0 1037.2 L555.0 1037.9 L557.0 1038.5 L559.0 1038.7 L561.0 1038.5 L563.0 1038.0 L565.0 1037.3 L567.0 1036.4 L569.0 1035.4 L571.0 1034.3 L573.0 1033.2 L575.0 1032.2 L577.0 1031.1 L579.0 1029.9 L581.0 1028.6 L583.0 1027.3 L585.0 1026.1 L587.0 1025.1 L589.0 1024.5 L591.0 1024.3 L593.0 1024.8 L595.0 1025.7 L597.0 1026.8 L599.0 1027.9 L601.0 1028.8 L603.0 1029.3 L605.0 1029.5 L607.0 1029.6 L609.0 1029.8 L611.0 1030.1 L613.0 1030.3 L615.0 1030.6 L617.0 1031.0 L619.0 1031.3 L621.0 1031.7 L623.0 1032.2 L625.0 1032.6 L627.0 1033.0 L629.0 1033.3 L631.0 1033.6 L633.0 1033.8 L635.0 1033.9 L637.0 1033.9 L639.0 1033.6 L641.0 1033.1 L643.0 1032.2 L645.0 1031.2 L647.0 1030.0 L649.0 1028.8 L651.0 1027.6 L653.0 1026.3 L655.0 1025.1 L657.0 1023.6 L659.0 1021.9 L661.0 1019.9 L663.0 1017.6 L665.0 1015.3 L667.0 1013.2 L669.0 1011.6 L671.0 1010.8 L673.0 1010.7 L675.0 1011.0 L677.0 1011.4 L679.0 1011.9 L681.0 1012.3 L683.0 1012.6 L685.0 1012.6 L687.0 1012.1 L689.0 1011.2 L691.0 1009.9 L693.0 1008.4 L695.0 1005.9 L697.0 1003.1 L699.0 999.9 L701.0 996.6 L703.0 995.2 L705.0 996.9 L707.0 1000.6 L709.0 1004.5 L711.0 1008.6 L713.0 1012.9 L715.0 1016.3 L717.0 1018.8 L719.0 1020.9 L721.0 1021.3 L723.0 1021.8 L725.0 1022.4 L727.0 1023.0 L729.0 1023.5 L731.0 1023.8 L733.0 1023.9 L735.0 1023.8 L737.0 1023.7 L739.0 1023.4 L741.0 1023.0 L743.0 1022.5 L745.0 1021.9 L747.0 1021.3 L749.0 1020.8 L751.0 1020.3 L753.0 1019.9 L755.0 1019.7 L757.0 1019.6 L759.0 1019.6 L761.0 1019.5 L763.0 1019.5 L765.0 1019.4 L767.0 1019.4 L769.0 1019.3 L771.0 1019.2 L773.0 1019.0 L775.0 1018.7 L777.0 1018.4 L779.0 1018.3 L781.0 1018.1 L783.0 1018.0 L785.0 1017.8 L787.0 1017.7 L789.0 1017.5 L791.0 1017.4 L793.0 1017.2 L795.0 1017.0 L797.0 1016.8 L799.0 1016.5 L801.0 1016.2 L803.0 1015.9 L805.0 1015.4 L807.0 1014.9 L809.0 1014.3 L811.0 1013.7 L813.0 1013.1 L815.0 1012.7 L817.0 1012.5 L819.0 1012.3 L821.0 1012.3 L823.0 1012.2 L825.0 1011.9 L827.0 1010.6 L829.0 1008.9 L831.0 1006.9 L833.0 1005.0 L835.0 1003.4 L837.0 1001.7 L839.0 1000.1 L841.0 999.1 L843.0 999.3 L845.0 1000.7 L847.0 1002.7 L849.0 1004.8 L851.0 1007.4 L853.0 1010.4 L855.0 1013.1 L857.0 1014.2 L859.0 1014.4 L861.0 1014.5 L863.0 1014.6 L865.0 1014.7 L867.0 1014.7 L869.0 1014.7 L871.0 1014.8 L873.0 1014.8 L875.0 1014.8 L877.0 1014.9 L879.0 1014.9 L881.0 1015.0 L883.0 1015.2 L885.0 1015.6 L887.0 1016.0 L889.0 1016.4 L891.0 1016.8 L893.0 1017.1 L895.0 1017.3 L897.0 1017.2 L899.0 1016.7 L901.0 1015.8 L903.0 1014.6 L905.0 1013.3 L907.0 1011.7 L909.0 1010.2 L911.0 1008.7 L913.0 1006.5 L915.0 1004.0 L917.0 1001.3 L919.0 998.3 L921.0 995.5 L923.0 993.2 L925.0 991.6 L927.0 991.0 L929.0 991.4 L931.0 992.6 L933.0 994.4 L935.0 996.4 L937.0 998.7 L939.0 1000.9 L941.0 1002.9 L943.0 1004.4 L945.0 1005.3 L947.0 1005.5 L949.0 1005.5 L951.0 1005.4 L953.0 1005.2 L955.0 1005.0 L957.0 1004.7 L959.0 1004.3 L961.0 1004.0 L963.0 1003.6 L965.0 1003.3 L967.0 1003.0 L969.0 1002.7 L971.0 1002.5 L973.0 1002.4 L975.0 1002.4 L977.0 1002.3 L979.0 1001.9 L981.0 1001.1 L983.0 1000.2 L985.0 999.3 L987.0 998.4 L989.0 997.5 L991.0 996.2 L993.0 994.8 L995.0 993.5 L997.0 992.5 L999.0 992.2 L1001.0 992.7 L1003.0 994.1 L1005.0 996.1 L1007.0 998.2 L1009.0 999.9 L1011.0 1001.2 L1013.0 1002.3 L1015.0 1003.4 L1017.0 1004.2 L1019.0 1004.1 L1021.0 1004.1 L1023.0 1003.9 L1025.0 1003.7 L1027.0 1003.4 L1029.0 1003.1 L1031.0 1002.7 L1033.0 1002.2 L1035.0 1001.5 L1037.0 1000.8 L1039.0 1000.0 L1041.0 999.2 L1043.0 998.3 L1045.0 997.5 L1047.0 996.6 L1049.0 995.9 L1051.0 995.2 L1053.0 994.5 L1055.0 993.9 L1057.0 993.3 L1059.0 992.6 L1061.0 991.8 L1063.0 991.1 L1065.0 990.4 L1067.0 989.7 L1069.0 989.1 L1071.0 988.5 L1073.0 988.1 L1075.0 987.8 L1077.0 987.7 L1079.0 987.7 L1081.0 987.7 L1083.0 987.9 L1085.0 988.1 L1087.0 988.3 L1089.0 988.7 L1091.0 989.1 L1093.0 989.5 L1095.0 989.9 L1097.0 990.3 L1099.0 990.8 L1101.0 991.3 L1103.0 991.9 L1105.0 992.8 L1107.0 993.6 L1109.0 994.5 L1111.0 995.2 L1113.0 995.6 L1115.0 995.6 L1117.0 994.7 L1119.0 993.1 L1121.0 991.3 L1123.0 989.6 L1125.0 987.7 L1127.0 985.5 L1129.0 983.5 L1131.0 981.9 L1133.0 980.7 L1135.0 979.6 L1137.0 978.7 L1139.0 978.0 L1141.0 977.4 L1143.0 976.8 L1145.0 976.2 L1147.0 975.6 L1149.0 975.0 L1151.0 974.2 L1153.0 973.4 L1155.0 972.6 L1157.0 971.7 L1159.0 970.9 L1161.0 969.9 L1163.0 968.9 L1165.0 968.1 L1167.0 967.4 L1169.0 967.0 L1171.0 966.9 L1173.0 967.0 L1175.0 967.3 L1177.0 967.5 L1179.0 967.6 L1181.0 967.5 L1183.0 967.2 L1185.0 966.6 L1187.0 965.6 L1189.0 964.5 L1191.0 961.9 L1193.0 958.8 L1195.0 955.7 L1197.0 953.0 L1199.0 950.3 L1201.0 947.4 L1203.0 943.9 L1205.0 939.8 L1207.0 935.0 L1209.0 928.8 L1211.0 921.3 L1213.0 913.3 L1215.0 905.5 L1217.0 896.6 L1219.0 884.4 L1221.0 865.4 L1223.0 845.7 L1225.0 829.3 L1227.0 813.9 L1229.0 800.2 L1231.0 788.4 L1233.0 777.7 L1235.0 769.1 L1237.0 762.6 L1239.0 756.9 L1241.0 753.8 L1243.0 750.3 L1245.0 750.3 L1247.0 752.2 L1249.0 758.6 L1251.0 769.4 L1253.0 781.6 L1255.0 796.6 L1257.0 810.0 L1259.0 817.6 L1261.0 822.8 L1263.0 826.5 L1265.0 828.5 L1267.0 829.6 L1269.0 830.0 L1271.0 829.7 L1273.0 828.9 L1275.0 827.9 L1277.0 827.2 L1279.0 828.7 L1281.0 830.5 L1283.0 832.5 L1285.0 834.9 L1287.0 838.2 L1289.0 842.4 L1291.0 847.4 L1293.0 852.7 L1295.0 858.3 L1297.0 864.5 L1299.0 871.7 L1301.0 878.9 L1303.0 885.4 L1305.0 892.1 L1307.0 895.7 L1309.0 896.8 L1311.0 897.6 L1313.0 898.2 L1315.0 898.7 L1317.0 899.3 L1319.0 899.9 L1321.0 900.7 L1323.0 902.0 L1325.0 903.7 L1327.0 905.7 L1329.0 907.9 L1331.0 910.2 L1333.0 912.5 L1335.0 914.7 L1337.0 916.7 L1339.0 918.7 L1341.0 920.7 L1343.0 922.9 L1345.0 925.3 L1347.0 928.1 L1349.0 931.0 L1351.0 934.0 L1353.0 937.0 L1355.0 939.9 L1357.0 942.4 L1359.0 944.4 L1361.0 946.4 L1363.0 948.3 L1365.0 949.9 L1367.0 951.2 L1369.0 952.0 L1371.0 952.2 L1373.0 951.7 L1375.0 950.6 L1377.0 949.2 L1379.0 947.5 L1381.0 945.8 L1383.0 944.3 L1385.0 943.1 L1387.0 942.4 L1389.0 942.1 L1391.0 942.1 L1393.0 942.1 L1395.0 942.0 L1397.0 942.0 L1399.0 941.9 L1401.0 941.4 L1403.0 940.3 L1405.0 938.8 L1407.0 937.1 L1409.0 935.4 L1411.0 934.0 L1413.0 932.2 L1415.0 929.7 L1417.0 926.7 L1419.0 923.2 L1421.0 919.4 L1423.0 914.6 L1425.0 908.4 L1427.0 900.9 L1429.0 894.2 L1431.0 888.5 L1433.0 882.9 L1435.0 876.8 L1437.0 869.7 L1439.0 862.3 L1441.0 854.9 L1443.0 848.0 L1445.0 841.7 L1447.0 835.6 L1449.0 830.5 L1451.0 826.9 L1453.0 823.7 L1455.0 821.9 L1457.0 822.2 L1459.0 824.7 L1461.0 828.4 L1463.0 834.2 L1465.0 841.8 L1467.0 848.2 L1469.0 854.4 L1471.0 860.5 L1473.0 865.1 L1475.0 867.4 L1477.0 867.9 L1479.0 868.1 L1481.0 868.0 L1483.0 867.4 L1485.0 866.8 L1487.0 866.3 L1489.0 866.6 L1491.0 867.5 L1493.0 868.3 L1495.0 869.0 L1497.0 870.2 L1499.0 872.7 L1501.0 875.8 L1503.0 878.7 L1505.0 880.7 L1507.0 881.7 L1509.0 882.1 L1511.0 882.5 L1513.0 882.9 L1515.0 883.3 L1517.0 883.6 L1519.0 883.8 L1521.0 884.0 L1523.0 884.0 L1525.0 883.8 L1527.0 883.5 L1529.0 884.0 L1531.0 885.4 L1533.0 886.8 L1535.0 888.2 L1537.0 889.5 L1539.0 890.7 L1541.0 892.0 L1543.0 893.2 L1545.0 894.3 L1547.0 893.0 L1549.0 889.4 L1551.0 885.1 L1553.0 880.6 L1555.0 875.0 L1557.0 869.2 L1559.0 865.2 L1561.0 861.7 L1563.0 859.4 L1565.0 858.8 L1567.0 860.1 L1569.0 862.0 L1571.0 864.1 L1573.0 866.9 L1575.0 870.8 L1577.0 876.3 L1579.0 882.4 L1581.0 888.1 L1583.0 892.3 L1585.0 895.2 L1587.0 897.3 L1589.0 897.2 L1591.0 894.5 L1593.0 889.8 L1595.0 883.8 L1597.0 876.6 L1599.0 864.8 L1601.0 849.2 L1603.0 831.5 L1605.0 811.2 L1607.0 786.5 L1609.0 761.6 L1611.0 735.2 L1613.0 713.1 L1615.0 694.4 L1617.0 679.4 L1619.0 676.7 L1621.0 686.5 L1623.0 701.2 L1625.0 715.2 L1627.0 728.6 L1629.0 742.7 L1631.0 757.0 L1633.0 771.1 L1635.0 786.2 L1637.0 800.9 L1639.0 812.2 L1641.0 820.7 L1643.0 821.2 L1645.0 818.3 L1647.0 814.3 L1649.0 807.7 L1651.0 797.6 L1653.0 778.4 L1655.0 754.8 L1657.0 726.7 L1659.0 703.5 L1661.0 689.7 L1663.0 679.3 L1665.0 670.4 L1667.0 661.0 L1669.0 649.3 L1671.0 635.2 L1673.0 619.8 L1675.0 604.2 L1677.0 588.9 L1679.0 572.6 L1681.0 559.0 L1683.0 547.5 L1685.0 538.7 L1687.0 537.8 L1689.0 549.8 L1691.0 567.7 L1693.0 588.5 L1695.0 613.7 L1697.0 642.1 L1699.0 674.0 L1701.0 712.5 L1703.0 748.9 L1705.0 779.4 L1707.0 805.8 L1709.0 830.5 L1711.0 847.9 L1713.0 860.3 L1715.0 870.7 L1717.0 879.6 L1719.0 887.7 L1721.0 895.6 L1723.0 904.2 L1725.0 912.9 L1727.0 920.7 L1729.0 926.4 L1731.0 930.1 L1733.0 933.3 L1735.0 935.7 L1737.0 937.9 L1739.0 938.9 L1741.0 939.2 L1743.0 938.9 L1745.0 938.1 L1747.0 937.2 L1749.0 936.2 L1751.0 935.3 L1753.0 934.6 L1755.0 933.9 L1757.0 933.5 L1759.0 933.1 L1761.0 933.2 L1763.0 934.6 L1765.0 937.2 L1767.0 940.9 L1769.0 945.4 L1771.0 950.6 L1773.0 956.2 L1775.0 962.0 L1777.0 967.9 L1779.0 973.7 L1781.0 979.1 L1783.0 984.0 L1785.0 988.2 L1787.0 991.6 L1789.0 994.9 L1791.0 997.9 L1793.0 1000.9 L1795.0 1003.7 L1797.0 1006.4 L1799.0 1009.0 L1801.0 1011.4 L1803.0 1013.6 L1805.0 1015.7 L1807.0 1017.5 L1809.0 1019.2 L1811.0 1020.7 L1813.0 1022.2 L1815.0 1023.6 L1817.0 1025.0 L1819.0 1026.3 L1821.0 1027.5 L1823.0 1028.7 L1825.0 1029.7 L1827.0 1030.6 L1829.0 1031.4 L1831.0 1032.1 L1833.0 1032.6 L1834.0 1032.8" stroke="#008000"/>
<path d="M301.0 1023.3 L303.0 1023.5 L305.0 1023.8 L307.0 1024.0 L309.0 1024.3 L311.0 1024.6 L313.0 1025.0 L315.0 1025.3 L317.0 1025.7 L319.0 1026.2 L321.0 1026.8 L323.0 1027.4 L325.0 1027.9 L327.0 1028.4 L329.0 1028.7 L331.0 1028.8 L333.0 1028.7 L335.0 1028.4 L337.0 1027.9 L339.0 1027.3 L341.0 1026.6 L343.0 1025.9 L345.0 1025.1 L347.0 1024.4 L349.0 1023.7 L351.0 1023.0 L353.0 1022.3 L355.0 1021.5 L357.0 1020.7 L359.0 1019.9 L361.0 1019.2 L363.0 1018.6 L365.0 1018.1 L367.0 1017.9 L369.0 1018.1 L371.0 1018.5 L373.0 1019.3 L375.0 1020.2 L377.0 1021.3 L379.0 1022.5 L381.0 1023.7 L383.0 1024.9 L385.0 1025.9 L387.0 1026.9 L389.0 1028.1 L391.0 1029.3 L393.0 1030.4 L395.0 1031.3 L397.0 1032.0 L399.0 1032.5 L401.0 1032.7 L403.0 1032.7 L405.0 1032.7 L407.0 1032.6 L409.0 1032.6 L411.0 1032.5 L413.0 1032.4 L415.0 1032.4 L417.0 1032.3 L419.0 1032.3 L421.0 1032.2 L423.0 1032.2 L425.0 1032.1 L427.0 1032.1 L429.0 1031.9 L431.0 1031.7 L433.0 1031.5 L435.0 1031.3 L437.0 1031.1 L439.0 1030.8 L441.0 1030.8 L443.0 1030.8 L445.0 1031.0 L447.0 1031.2 L449.0 1031.4 L451.0 1031.5 L453.0 1031.6 L455.0 1031.7 L457.0 1031.7 L459.0 1031.6 L461.0 1031.3 L463.0 1030.9 L465.0 1030.3 L467.0 1029.6 L469.0 1028.9 L471.0 1028.2 L473.0 1027.3 L475.0 1025.6 L477.0 1023.3 L479.0 1021.0 L481.0 1018.7 L483.0 1015.7 L485.0 1012.7 L487.0 1010.3 L489.0 1009.6 L491.0 1011.2 L493.0 1014.7 L495.0 1018.9 L497.0 1022.6 L499.0 1026.1 L501.0 1029.9 L503.0 1033.5 L505.0 1036.6 L507.0 1038.7 L509.0 1039.0 L511.0 1038.9 L513.0 1038.7 L515.0 1038.3 L517.0 1037.8 L519.0 1037.2 L521.0 1036.6 L523.0 1035.9 L525.0 1035.2 L527.0 1034.6 L529.0 1033.9 L531.0 1033.1 L533.0 1032.2 L535.0 1031.3 L537.0 1030.4 L539.0 1029.6 L541.0 1028.9 L543.0 1028.4 L545.0 1028.3 L547.0 1028.5 L549.0 1029.3 L551.0 1030.2 L553.0 1031.3 L555.0 1032.3 L557.0 1033.0 L559.0 1033.3 L561.0 1033.1 L563.0 1032.7 L565.0 1032.1 L567.0 1031.3 L569.0 1030.3 L571.0 1029.3 L573.0 1028.2 L575.0 1027.1 L577.0 1025.9 L579.0 1024.6 L581.0 1023.2 L583.0 1021.9 L585.0 1020.6 L587.0 1019.4 L589.0 1018.6 L591.0 1018.3 L593.0 1018.7 L595.0 1019.6 L597.0 1020.7 L599.0 1021.8 L601.0 1022.7 L603.0 1023.1 L605.0 1023.1 L607.0 1023.2 L609.0 1023.3 L611.0 1023.4 L613.0 1023.5 L615.0 1023.7 L617.0 1023.9 L619.0 1024.2 L621.0 1024.5 L623.0 1024.9 L625.0 1025.3 L627.0 1025.7 L629.0 1026.0 L631.0 1026.3 L633.0 1026.5 L635.0 1026.7 L637.0 1026.8 L639.0 1026.6 L641.0 1026.1 L643.0 1025.4 L645.0 1024.4 L647.0 1023.3 L649.0 1022.1 L651.0 1020.8 L653.0 1019.5 L655.0 1018.1 L657.0 1016.4 L659.0 1014.4 L661.0 1012.2 L663.0 1010.1 L665.0 1008.1 L667.0 1006.5 L669.0 1005.3 L671.0 1004.7 L673.0 1004.7 L675.0 1005.0 L677.0 1005.6 L679.0 1006.2 L681.0 1006.7 L683.0 1007.0 L685.0 1007.0 L687.0 1006.1 L689.0 1004.7 L691.0 1002.9 L693.0 1000.8 L695.0 997.5 L697.0 994.0 L699.0 990.1 L701.0 986.2 L703.0 984.3 L705.0 985.9 L707.0 989.6 L709.0 993.5 L711.0 997.6 L713.0 1002.0 L715.0 1005.4 L717.0 1007.9 L719.0 1010.0 L721.0 1010.3 L723.0 1010.9 L725.0 1011.6 L727.0 1012.2 L729.0 1012.8 L731.0 1013.0 L733.0 1012.9 L735.0 1012.7 L737.0 1012.3 L739.0 1011.7 L741.0 1011.1 L743.0 1010.4 L745.0 1009.7 L747.0 1009.0 L749.0 1008.4 L751.0 1007.9 L753.0 1007.5 L755.0 1007.3 L757.0 1007.2 L759.0 1007.2 L761.0 1007.1 L763.0 1007.1 L765.0 1007.1 L767.0 1007.0 L769.0 1006.9 L771.0 1006.8 L773.0 1006.5 L775.0 1006.1 L777.0 1005.8 L779.0 1005.8 L781.0 1005.7 L783.0 1005.7 L785.0 1005.7 L787.0 1005.6 L789.0 1005.6 L791.0 1005.5 L793.0 1005.5 L795.0 1005.4 L797.0 1005.4 L799.0 1005.3 L801.0 1005.3 L803.0 1005.2 L805.0 1004.8 L807.0 1004.3 L809.0 1003.7 L811.0 1003.0 L813.0 1002.3 L815.0 1001.8 L817.0 1001.5 L819.0 1001.3 L821.0 1001.1 L823.0 1000.9 L825.0 1000.4 L827.0 998.8 L829.0 996.7 L831.0 994.4 L833.0 992.2 L835.0 990.2 L837.0 988.2 L839.0 986.2 L841.0 985.0 L843.0 985.0 L845.0 986.4 L847.0 988.4 L849.0 990.6 L851.0 993.1 L853.0 996.3 L855.0 999.0 L857.0 1000.1 L859.0 1000.1 L861.0 1000.0 L863.0 1000.0 L865.0 999.9 L867.0 999.9 L869.0 999.8 L871.0 999.7 L873.0 999.7 L875.0 999.6 L877.0 999.6 L879.0 999.6 L881.0 999.6 L883.0 999.9 L885.0 1000.5 L887.0 1001.2 L889.0 1001.9 L891.0 1002.6 L893.0 1003.2 L895.0 1003.5 L897.0 1003.5 L899.0 1003.0 L901.0 1002.1 L903.0 1000.9 L905.0 999.5 L907.0 998.0 L909.0 996.4 L911.0 994.9 L913.0 992.9 L915.0 990.7 L917.0 988.4 L919.0 985.8 L921.0 983.4 L923.0 981.5 L925.0 980.1 L927.0 979.6 L929.0 979.9 L931.0 980.8 L933.0 982.1 L935.0 983.6 L937.0 985.3 L939.0 987.0 L941.0 988.5 L943.0 989.7 L945.0 990.4 L947.0 990.7 L949.0 990.8 L951.0 991.0 L953.0 991.1 L955.0 991.1 L957.0 991.2 L959.0 991.2 L961.0 991.2 L963.0 991.2 L965.0 991.1 L967.0 991.1 L969.0 991.1 L971.0 991.1 L973.0 991.1 L975.0 991.1 L977.0 990.9 L979.0 990.3 L981.0 989.3 L983.0 988.2 L985.0 987.0 L987.0 985.9 L989.0 984.8 L991.0 983.3 L993.0 981.8 L995.0 980.5 L997.0 979.5 L999.0 979.3 L1001.0 980.0 L1003.0 981.7 L1005.0 983.9 L1007.0 986.2 L1009.0 988.2 L1011.0 989.5 L1013.0 990.7 L1015.0 991.8 L1017.0 992.5 L1019.0 992.4 L1021.0 992.3 L1023.0 992.1 L1025.0 991.8 L1027.0 991.5 L1029.0 991.2 L1031.0 990.8 L1033.0 990.3 L1035.0 989.6 L1037.0 988.8 L1039.0 987.9 L1041.0 987.0 L1043.0 986.0 L1045.0 985.1 L1047.0 984.2 L1049.0 983.4 L1051.0 982.6 L1053.0 982.0 L1055.0 981.5 L1057.0 981.0 L1059.0 980.4 L1061.0 979.9 L1063.0 979.3 L1065.0 978.8 L1067.0 978.3 L1069.0 977.8 L1071.0 977.4 L1073.0 977.1 L1075.0 976.8 L1077.0 976.5 L1079.0 976.4 L1081.0 976.3 L1083.0 976.3 L1085.0 976.3 L1087.0 976.4 L1089.0 976.6 L1091.0 976.8 L1093.0 977.1 L1095.0 977.4 L1097.0 977.7 L1099.0 978.0 L1101.0 978.4 L1103.0 978.9 L1105.0 979.7 L1107.0 980.5 L1109.0 981.3 L1111.0 981.9 L1113.0 982.3 L1115.0 982.1 L1117.0 980.8 L1119.0 978.7 L1121.0 976.5 L1123.0 974.9 L1125.0 973.4 L1127.0 971.5 L1129.0 970.1 L1131.0 969.1 L1133.0 968.5 L1135.0 968.0 L1137.0 967.5 L1139.0 967.0 L1141.0 966.4 L1143.0 965.9 L1145.0 965.3 L1147.0 964.6 L1149.0 963.8 L1151.0 962.8 L1153.0 961.6 L1155.0 960.3 L1157.0 959.0 L1159.0 957.7 L1161.0 956.3 L1163.0 955.0 L1165.0 953.9 L1167.0 953.1 L1169.0 952.6 L1171.0 952.6 L1173.0 952.9 L1175.0 953.3 L1177.0 953.7 L1179.0 954.0 L1181.0 954.0 L1183.0 953.7 L1185.0 953.1 L1187.0 952.4 L1189.0 951.4 L1191.0 949.0 L1193.0 946.1 L1195.0 943.4 L1197.0 941.3 L1199.0 939.2 L1201.0 936.7 L1203.0 933.7 L1205.0 929.9 L1207.0 925.3 L1209.0 918.7 L1211.0 910.1 L1213.0 900.9 L1215.0 891.9 L1217.0 881.5 L1219.0 867.3 L1221.0 845.5 L1223.0 822.8 L1225.0 803.9 L1227.0 786.0 L1229.0 770.0 L1231.0 756.1 L1233.0 743.6 L1235.0 733.4 L1237.0 725.5 L1239.0 718.6 L1241.0 714.6 L1243.0 713.3 L1245.0 715.7 L1247.0 719.9 L1249.0 728.8 L1251.0 742.1 L1253.0 756.4 L1255.0 773.2 L1257.0 788.0 L1259.0 796.6 L1261.0 802.7 L1263.0 807.2 L1265.0 810.0 L1267.0 811.9 L1269.0 813.2 L1271.0 813.8 L1273.0 814.0 L1275.0 814.0 L1277.0 814.2 L1279.0 815.7 L1281.0 817.4 L1283.0 819.3 L1285.0 821.6 L1287.0 824.7 L1289.0 828.6 L1291.0 833.2 L1293.0 838.2 L1295.0 843.4 L1297.0 849.2 L1299.0 855.8 L1301.0 862.5 L1303.0 868.6 L1305.0 875.0 L1307.0 878.3 L1309.0 879.5 L1311.0 880.4 L1313.0 881.1 L1315.0 881.7 L1317.0 882.3 L1319.0 883.1 L1321.0 884.0 L1323.0 885.4 L1325.0 887.1 L1327.0 889.2 L1329.0 891.4 L1331.0 893.8 L1333.0 896.2 L1335.0 898.5 L1337.0 900.6 L1339.0 902.7 L1341.0 904.9 L1343.0 907.4 L1345.0 909.9 L1347.0 912.8 L1349.0 915.8 L1351.0 918.8 L1353.0 921.6 L1355.0 924.3 L1357.0 926.5 L1359.0 928.1 L1361.0 929.7 L1363.0 931.1 L1365.0 932.3 L1367.0 933.2 L1369.0 933.7 L1371.0 933.7 L1373.0 933.2 L1375.0 932.2 L1377.0 930.9 L1379.0 929.5 L1381.0 928.1 L1383.0 926.9 L1385.0 926.1 L1387.0 925.8 L1389.0 925.6 L1391.0 925.5 L1393.0 925.5 L1395.0 925.4 L1397.0 925.3 L1399.0 925.2 L1401.0 924.8 L1403.0 924.0 L1405.0 922.9 L1407.0 921.7 L1409.0 920.4 L1411.0 919.2 L1413.0 917.4 L1415.0 914.9 L1417.0 911.8 L1419.0 908.2 L1421.0 904.3 L1423.0 899.2 L1425.0 892.8 L1427.0 884.9 L1429.0 877.9 L1431.0 871.9 L1433.0 865.9 L1435.0 859.4 L1437.0 851.9 L1439.0 844.0 L1441.0 836.0 L1443.0 828.7 L1445.0 821.8 L1447.0 815.1 L1449.0 809.5 L1451.0 805.4 L1453.0 801.8 L1455.0 799.6 L1457.0 799.7 L1459.0 802.2 L1461.0 805.9 L1463.0 812.0 L1465.0 820.1 L1467.0 826.9 L1469.0 833.6 L1471.0 840.1 L1473.0 845.3 L1475.0 847.9 L1477.0 848.7 L1479.0 849.2 L1481.0 849.4 L1483.0 849.1 L1485.0 848.8 L1487.0 849.0 L1489.0 850.4 L1491.0 852.5 L1493.0 854.4 L1495.0 856.1 L1497.0 858.2 L1499.0 861.5 L1501.0 865.3 L1503.0 868.8 L1505.0 871.4 L1507.0 872.9 L1509.0 873.8 L1511.0 874.8 L1513.0 875.7 L1515.0 876.6 L1517.0 877.4 L1519.0 878.1 L1521.0 878.7 L1523.0 879.2 L1525.0 879.5 L1527.0 879.7 L1529.0 880.0 L1531.0 880.6 L1533.0 881.2 L1535.0 881.8 L1537.0 882.4 L1539.0 882.9 L1541.0 883.4 L1543.0 883.9 L1545.0 884.2 L1547.0 882.6 L1549.0 878.9 L1551.0 874.4 L1553.0 869.8 L1555.0 863.7 L1557.0 857.5 L1559.0 853.2 L1561.0 849.5 L1563.0 847.0 L1565.0 846.3 L1567.0 847.4 L1569.0 849.4 L1571.0 851.7 L1573.0 854.8 L1575.0 859.3 L1577.0 865.5 L1579.0 872.5 L1581.0 879.1 L1583.0 884.1 L1585.0 887.5 L1587.0 890.0 L1589.0 889.9 L1591.0 886.6 L1593.0 880.7 L1595.0 873.1 L1597.0 864.1 L1599.0 850.1 L1601.0 832.1 L1603.0 811.6 L1605.0 788.2 L1607.0 759.8 L1609.0 731.0 L1611.0 700.5 L1613.0 674.8 L1615.0 652.9 L1617.0 635.1 L1619.0 631.7 L1621.0 642.7 L1623.0 659.3 L1625.0 675.2 L1627.0 690.5 L1629.0 706.5 L1631.0 722.9 L1633.0 739.0 L1635.0 756.3 L1637.0 773.2 L1639.0 786.2 L1641.0 796.0 L1643.0 796.5 L1645.0 793.1 L1647.0 788.4 L1649.0 780.7 L1651.0 768.8 L1653.0 746.4 L1655.0 718.8 L1657.0 685.9 L1659.0 658.6 L1661.0 642.3 L1663.0 629.8 L1665.0 619.0 L1667.0 607.7 L1669.0 593.6 L1671.0 576.7 L1673.0 558.3 L1675.0 539.4 L1677.0 520.9 L1679.0 501.2 L1681.0 484.6 L1683.0 470.5 L1685.0 459.4 L1687.0 458.4 L1689.0 473.3 L1691.0 495.0 L1693.0 520.2 L1695.0 550.3 L1697.0 584.0 L1699.0 621.8 L1701.0 667.2 L1703.0 709.8 L1705.0 745.5 L1707.0 777.9 L1709.0 808.2 L1711.0 829.8 L1713.0 845.6 L1715.0 858.8 L1717.0 870.3 L1719.0 880.7 L1721.0 890.9 L1723.0 901.7 L1725.0 912.4 L1727.0 921.9 L1729.0 928.9 L1731.0 933.7 L1733.0 938.0 L1735.0 941.6 L1737.0 944.2 L1739.0 945.8 L1741.0 946.7 L1743.0 946.7 L1745.0 946.2 L1747.0 945.4 L1749.0 944.5 L1751.0 943.5 L1753.0 942.7 L1755.0 942.0 L1757.0 941.5 L1759.0 941.0 L1761.0 941.1 L1763.0 942.5 L1765.0 945.1 L1767.0 948.6 L1769.0 953.0 L1771.0 958.0 L1773.0 963.5 L1775.0 969.2 L1777.0 974.9 L1779.0 980.5 L1781.0 985.8 L1783.0 990.6 L1785.0 994.6 L1787.0 997.9 L1789.0 1001.0 L1791.0 1003.9 L1793.0 1006.6 L1795.0 1009.3 L1797.0 1011.9 L1799.0 1014.3 L1801.0 1016.6 L1803.0 1018.7 L1805.0 1020.6 L1807.0 1022.4 L1809.0 1024.0 L1811.0 1025.5 L1813.0 1026.9 L1815.0 1028.3 L1817.0 1029.6 L1819.0 1030.9 L1821.0 1032.1 L1823.0 1033.2 L1825.0 1034.2 L1827.0 1035.1 L1829.0 1035.9 L1831.0 1036.6 L1833.0 1037.1 L1834.0 1037.3" stroke="#000080"/>
<path d="M301.0 1025.2 L303.0 1025.4 L305.0 1025.7 L307.0 1026.0 L309.0 1026.3 L311.0 1026.6 L313.0 1026.9 L315.0 1027.2 L317.0 1027.6 L319.0 1028.1 L321.0 1028.6 L323.0 1029.1 L325.0 1029.6 L327.0 1030.0 L329.0 1030.3 L331.0 1030.4 L333.0 1030.3 L335.0 1029.9 L337.0 1029.3 L339.0 1028.5 L341.0 1027.6 L343.0 1026.7 L345.0 1025.7 L347.0 1024.8 L349.0 1023.9 L351.0 1023.1 L353.0 1022.2 L355.0 1021.2 L357.0 1020.2 L359.0 1019.2 L361.0 1018.3 L363.0 1017.5 L365.0 1017.0 L367.0 1016.7 L369.0 1016.9 L371.0 1017.4 L373.0 1018.3 L375.0 1019.4 L377.0 1020.7 L379.0 1022.0 L381.0 1023.4 L383.0 1024.7 L385.0 1025.9 L387.0 1027.1 L389.0 1028.5 L391.0 1029.9 L393.0 1031.2 L395.0 1032.3 L397.0 1033.2 L399.0 1033.9 L401.0 1034.3 L403.0 1034.3 L405.0 1034.3 L407.0 1034.3 L409.0 1034.2 L411.0 1034.1 L413.0 1034.1 L415.0 1034.0 L417.0 1034.0 L419.0 1033.9 L421.0 1033.8 L423.0 1033.8 L425.0 1033.8 L427.0 1033.7 L429.0 1033.6 L431.0 1033.5 L433.0 1033.3 L435.0 1033.2 L437.0 1032.9 L439.0 1032.7 L441.0 1032.7 L443.0 1032.7 L445.0 1032.9 L447.0 1033.0 L449.0 1033.2 L451.0 1033.3 L453.0 1033.4 L455.0 1033.4 L457.0 1033.5 L459.0 1033.4 L461.0 1033.1 L463.0 1032.6 L465.0 1032.0 L467.0 1031.3 L469.0 1030.5 L471.0 1029.6 L473.0 1028.5 L475.0 1026.2 L477.0 1023.2 L479.0 1019.9 L481.0 1016.8 L483.0 1012.8 L485.0 1008.6 L487.0 1005.4 L489.0 1004.3 L491.0 1006.2 L493.0 1010.5 L495.0 1015.7 L497.0 1020.3 L499.0 1024.6 L501.0 1029.2 L503.0 1033.8 L505.0 1037.6 L507.0 1040.2 L509.0 1040.6 L511.0 1040.6 L513.0 1040.3 L515.0 1040.0 L517.0 1039.5 L519.0 1039.0 L521.0 1038.3 L523.0 1037.7 L525.0 1037.0 L527.0 1036.4 L529.0 1035.7 L531.0 1034.9 L533.0 1034.1 L535.0 1033.2 L537.0 1032.3 L539.0 1031.6 L541.0 1030.9 L543.0 1030.5 L545.0 1030.4 L547.0 1030.6 L549.0 1031.3 L551.0 1032.2 L553.0 1033.2 L555.0 1034.1 L557.0 1034.8 L559.0 1035.0 L561.0 1034.8 L563.0 1034.4 L565.0 1033.7 L567.0 1032.8 L569.0 1031.8 L571.0 1030.7 L573.0 1029.5 L575.0 1028.4 L577.0 1027.2 L579.0 1025.7 L581.0 1024.1 L583.0 1022.6 L585.0 1021.1 L587.0 1019.9 L589.0 1019.1 L591.0 1018.8 L593.0 1019.4 L595.0 1020.6 L597.0 1022.1 L599.0 1023.6 L601.0 1024.7 L603.0 1025.2 L605.0 1025.3 L607.0 1025.4 L609.0 1025.5 L611.0 1025.7 L613.0 1025.9 L615.0 1026.0 L617.0 1026.3 L619.0 1026.6 L621.0 1027.0 L623.0 1027.4 L625.0 1027.8 L627.0 1028.2 L629.0 1028.5 L631.0 1028.8 L633.0 1029.0 L635.0 1029.2 L637.0 1029.2 L639.0 1029.0 L641.0 1028.5 L643.0 1027.7 L645.0 1026.6 L647.0 1025.4 L649.0 1024.1 L651.0 1022.7 L653.0 1021.3 L655.0 1019.9 L657.0 1018.2 L659.0 1016.2 L661.0 1013.9 L663.0 1011.7 L665.0 1009.6 L667.0 1007.8 L669.0 1006.5 L671.0 1005.8 L673.0 1005.8 L675.0 1006.2 L677.0 1006.7 L679.0 1007.3 L681.0 1007.8 L683.0 1008.1 L685.0 1008.0 L687.0 1007.0 L689.0 1005.4 L691.0 1003.3 L693.0 1000.8 L695.0 996.8 L697.0 992.5 L699.0 987.5 L701.0 982.5 L703.0 980.2 L705.0 982.3 L707.0 987.1 L709.0 992.3 L711.0 997.6 L713.0 1003.3 L715.0 1007.8 L717.0 1011.0 L719.0 1013.7 L721.0 1014.0 L723.0 1014.6 L725.0 1015.3 L727.0 1015.9 L729.0 1016.4 L731.0 1016.7 L733.0 1016.7 L735.0 1016.5 L737.0 1016.2 L739.0 1015.7 L741.0 1015.2 L743.0 1014.6 L745.0 1013.9 L747.0 1013.2 L749.0 1012.6 L751.0 1012.1 L753.0 1011.7 L755.0 1011.5 L757.0 1011.5 L759.0 1011.4 L761.0 1011.4 L763.0 1011.3 L765.0 1011.3 L767.0 1011.2 L769.0 1011.2 L771.0 1011.1 L773.0 1010.8 L775.0 1010.4 L777.0 1010.1 L779.0 1010.0 L781.0 1010.0 L783.0 1009.9 L785.0 1009.8 L787.0 1009.7 L789.0 1009.7 L791.0 1009.6 L793.0 1009.5 L795.0 1009.4 L797.0 1009.3 L799.0 1009.2 L801.0 1009.0 L803.0 1008.8 L805.0 1008.4 L807.0 1007.9 L809.0 1007.3 L811.0 1006.6 L813.0 1006.0 L815.0 1005.5 L817.0 1005.2 L819.0 1005.0 L821.0 1004.9 L823.0 1004.8 L825.0 1004.2 L827.0 1002.3 L829.0 999.7 L831.0 996.8 L833.0 994.0 L835.0 991.5 L837.0 989.0 L839.0 986.5 L841.0 985.0 L843.0 985.1 L845.0 986.9 L847.0 989.6 L849.0 992.4 L851.0 995.8 L853.0 999.9 L855.0 1003.5 L857.0 1004.9 L859.0 1005.0 L861.0 1005.0 L863.0 1005.0 L865.0 1005.0 L867.0 1004.9 L869.0 1004.9 L871.0 1004.9 L873.0 1004.8 L875.0 1004.8 L877.0 1004.8 L879.0 1004.8 L881.0 1004.9 L883.0 1005.2 L885.0 1005.7 L887.0 1006.3 L889.0 1006.9 L891.0 1007.5 L893.0 1007.9 L895.0 1008.2 L897.0 1008.1 L899.0 1007.7 L901.0 1006.8 L903.0 1005.6 L905.0 1004.2 L907.0 1002.7 L909.0 1001.1 L911.0 999.6 L913.0 997.4 L915.0 995.2 L917.0 992.8 L919.0 990.1 L921.0 987.6 L923.0 985.5 L925.0 984.0 L927.0 983.5 L929.0 983.9 L931.0 984.8 L933.0 986.3 L935.0 988.0 L937.0 989.9 L939.0 991.7 L941.0 993.4 L943.0 994.7 L945.0 995.5 L947.0 995.8 L949.0 995.9 L951.0 995.9 L953.0 995.9 L955.0 995.9 L957.0 995.8 L959.0 995.7 L961.0 995.5 L963.0 995.4 L965.0 995.3 L967.0 995.2 L969.0 995.1 L971.0 995.0 L973.0 995.0 L975.0 994.9 L977.0 994.8 L979.0 994.2 L981.0 993.0 L983.0 991.8 L985.0 990.5 L987.0 989.1 L989.0 987.7 L991.0 985.9 L993.0 983.9 L995.0 982.1 L997.0 980.7 L999.0 980.2 L1001.0 980.9 L1003.0 982.9 L1005.0 985.6 L1007.0 988.4 L1009.0 990.9 L1011.0 992.5 L1013.0 994.1 L1015.0 995.5 L1017.0 996.5 L1019.0 996.4 L1021.0 996.3 L1023.0 996.1 L1025.0 995.9 L1027.0 995.6 L1029.0 995.3 L1031.0 994.9 L1033.0 994.3 L1035.0 993.7 L1037.0 992.9 L1039.0 992.0 L1041.0 991.1 L1043.0 990.2 L1045.0 989.3 L1047.0 988.4 L1049.0 987.6 L1051.0 986.9 L1053.0 986.3 L1055.0 985.8 L1057.0 985.2 L1059.0 984.6 L1061.0 984.0 L1063.0 983.3 L1065.0 982.7 L1067.0 982.2 L1069.0 981.7 L1071.0 981.2 L1073.0 980.8 L1075.0 980.6 L1077.0 980.4 L1079.0 980.2 L1081.0 980.2 L1083.0 980.2 L1085.0 980.3 L1087.0 980.5 L1089.0 980.7 L1091.0 981.0 L1093.0 981.3 L1095.0 981.7 L1097.0 982.0 L1099.0 982.4 L1101.0 982.8 L1103.0 983.4 L1105.0 984.2 L1107.0 985.0 L1109.0 985.8 L1111.0 986.4 L1113.0 986.8 L1115.0 986.8 L1117.0 985.6 L1119.0 983.6 L1121.0 981.6 L1123.0 979.9 L1125.0 978.2 L1127.0 975.9 L1129.0 974.1 L1131.0 972.9 L1133.0 972.1 L1135.0 971.4 L1137.0 970.8 L1139.0 970.3 L1141.0 969.7 L1143.0 969.2 L1145.0 968.6 L1147.0 968.0 L1149.0 967.3 L1151.0 966.4 L1153.0 965.4 L1155.0 964.4 L1157.0 963.3 L1159.0 962.2 L1161.0 960.9 L1163.0 959.7 L1165.0 958.7 L1167.0 958.0 L1169.0 957.5 L1171.0 957.5 L1173.0 957.7 L1175.0 958.1 L1177.0 958.4 L1179.0 958.7 L1181.0 958.6 L1183.0 958.3 L1185.0 957.7 L1187.0 956.9 L1189.0 955.9 L1191.0 952.9 L1193.0 949.2 L1195.0 945.9 L1197.0 943.1 L1199.0 940.5 L1201.0 937.3 L1203.0 933.4 L1205.0 928.6 L1207.0 922.7 L1209.0 914.4 L1211.0 903.8 L1213.0 892.5 L1215.0 881.3 L1217.0 868.5 L1219.0 851.0 L1221.0 823.7 L1223.0 795.4 L1225.0 771.8 L1227.0 749.6 L1229.0 729.9 L1231.0 712.9 L1233.0 697.5 L1235.0 685.1 L1237.0 675.7 L1239.0 667.4 L1241.0 663.0 L1243.0 662.6 L1245.0 667.0 L1247.0 673.7 L1249.0 686.3 L1251.0 704.3 L1253.0 723.4 L1255.0 745.6 L1257.0 765.0 L1259.0 776.6 L1261.0 784.9 L1263.0 791.1 L1265.0 795.1 L1267.0 797.9 L1269.0 799.8 L1271.0 800.8 L1273.0 801.3 L1275.0 801.5 L1277.0 802.0 L1279.0 803.7 L1281.0 805.6 L1283.0 807.8 L1285.0 810.5 L1287.0 814.2 L1289.0 819.0 L1291.0 824.5 L1293.0 830.6 L1295.0 836.8 L1297.0 843.9 L1299.0 852.0 L1301.0 860.2 L1303.0 867.6 L1305.0 875.3 L1307.0 879.4 L1309.0 880.7 L1311.0 881.7 L1313.0 882.4 L1315.0 883.0 L1317.0 883.6 L1319.0 884.4 L1321.0 885.4 L1323.0 886.9 L1325.0 888.8 L1327.0 891.2 L1329.0 893.8 L1331.0 896.5 L1333.0 899.1 L1335.0 901.7 L1337.0 904.0 L1339.0 906.3 L1341.0 908.6 L1343.0 911.1 L1345.0 913.7 L1347.0 916.7 L1349.0 920.0 L1351.0 923.3 L1353.0 926.5 L1355.0 929.5 L1357.0 931.9 L1359.0 933.7 L1361.0 935.4 L1363.0 937.0 L1365.0 938.3 L1367.0 939.4 L1369.0 940.0 L1371.0 940.0 L1373.0 939.5 L1375.0 938.5 L1377.0 937.2 L1379.0 935.7 L1381.0 934.2 L1383.0 932.9 L1385.0 931.9 L1387.0 931.5 L1389.0 931.3 L1391.0 931.2 L1393.0 931.1 L1395.0 931.1 L1397.0 931.0 L1399.0 930.9 L1401.0 930.5 L1403.0 929.6 L1405.0 928.3 L1407.0 926.9 L1409.0 925.5 L1411.0 924.2 L1413.0 922.2 L1415.0 919.2 L1417.0 915.5 L1419.0 911.1 L1421.0 906.2 L1423.0 899.9 L1425.0 891.9 L1427.0 881.9 L1429.0 873.1 L1431.0 865.4 L1433.0 857.8 L1435.0 849.5 L1437.0 839.9 L1439.0 829.7 L1441.0 819.5 L1443.0 810.0 L1445.0 801.2 L1447.0 792.5 L1449.0 785.2 L1451.0 779.9 L1453.0 775.3 L1455.0 772.4 L1457.0 772.7 L1459.0 776.1 L1461.0 781.3 L1463.0 789.3 L1465.0 800.0 L1467.0 809.0 L1469.0 817.8 L1471.0 826.3 L1473.0 833.0 L1475.0 836.3 L1477.0 837.2 L1479.0 837.8 L1481.0 837.8 L1483.0 837.2 L1485.0 836.6 L1487.0 836.9 L1489.0 839.0 L1491.0 842.0 L1493.0 844.7 L1495.0 847.0 L1497.0 850.0 L1499.0 854.4 L1501.0 859.3 L1503.0 863.8 L1505.0 867.2 L1507.0 869.1 L1509.0 870.4 L1511.0 871.7 L1513.0 873.0 L1515.0 874.1 L1517.0 875.2 L1519.0 876.2 L1521.0 877.1 L1523.0 877.8 L1525.0 878.3 L1527.0 878.7 L1529.0 878.8 L1531.0 878.9 L1533.0 879.0 L1535.0 879.0 L1537.0 879.0 L1539.0 879.0 L1541.0 878.9 L1543.0 878.8 L1545.0 878.5 L1547.0 876.1 L1549.0 871.6 L1551.0 866.1 L1553.0 860.5 L1555.0 853.4 L1557.0 846.1 L1559.0 841.4 L1561.0 837.6 L1563.0 835.2 L1565.0 835.0 L1567.0 837.0 L1569.0 839.9 L1571.0 843.1 L1573.0 847.1 L1575.0 852.7 L1577.0 860.2 L1579.0 868.6 L1581.0 876.3 L1583.0 882.1 L1585.0 886.1 L1587.0 889.0 L1589.0 889.0 L1591.0 885.6 L1593.0 879.6 L1595.0 872.0 L1597.0 862.7 L1599.0 847.9 L1601.0 828.5 L1603.0 806.6 L1605.0 781.6 L1607.0 751.3 L1609.0 720.8 L1611.0 688.8 L1613.0 662.1 L1615.0 639.7 L1617.0 621.9 L1619.0 618.2 L1621.0 628.8 L1623.0 645.7 L1625.0 661.8 L1627.0 677.4 L1629.0 694.0 L1631.0 711.1 L1633.0 728.1 L1635.0 746.6 L1637.0 764.7 L1639.0 778.6 L1641.0 789.1 L1643.0 789.2 L1645.0 784.9 L1647.0 779.0 L1649.0 769.7 L1651.0 755.4 L1653.0 728.9 L1655.0 696.0 L1657.0 656.6 L1659.0 623.4 L1661.0 602.8 L1663.0 586.6 L1665.0 572.2 L1667.0 557.0 L1669.0 538.3 L1671.0 516.0 L1673.0 491.6 L1675.0 466.4 L1677.0 441.4 L1679.0 414.6 L1681.0 391.4 L1683.0 371.0 L1685.0 354.3 L1687.0 351.3 L1689.0 369.7 L1691.0 396.7 L1693.0 427.9 L1695.0 465.4 L1697.0 507.3 L1699.0 554.3 L1701.0 610.8 L1703.0 663.9 L1705.0 708.2 L1707.0 748.0 L1709.0 785.1 L1711.0 811.3 L1713.0 830.1 L1715.0 845.7 L1717.0 859.1 L1719.0 871.3 L1721.0 883.2 L1723.0 895.7 L1725.0 908.1 L1727.0 918.9 L1729.0 926.6 L1731.0 931.6 L1733.0 936.0 L1735.0 939.8 L1737.0 942.6 L1739.0 944.5 L1741.0 945.6 L1743.0 945.9 L1745.0 945.4 L1747.0 944.7 L1749.0 943.9 L1751.0 943.1 L1753.0 942.5 L1755.0 941.9 L1757.0 941.5 L1759.0 941.0 L1761.0 941.1 L1763.0 942.5 L1765.0 945.1 L1767.0 948.6 L1769.0 953.0 L1771.0 958.0 L1773.0 963.5 L1775.0 969.2 L1777.0 974.9 L1779.0 980.5 L1781.0 985.8 L1783.0 990.6 L1785.0 994.6 L1787.0 997.9 L1789.0 1001.0 L1791.0 1003.8 L1793.0 1006.5 L1795.0 1009.2 L1797.0 1011.7 L1799.0 1014.0 L1801.0 1016.3 L1803.0 1018.3 L1805.0 1020.3 L1807.0 1022.0 L1809.0 1023.6 L1811.0 1025.1 L1813.0 1026.5 L1815.0 1027.9 L1817.0 1029.3 L1819.0 1030.5 L1821.0 1031.7 L1823.0 1032.9 L1825.0 1033.9 L1827.0 1034.8 L1829.0 1035.7 L1831.0 1036.4 L1833.0 1036.9 L1834.0 1037.2" stroke="#8000ff"/>
<path d="M301.0 1026.7 L303.0 1027.0 L305.0 1027.2 L307.0 1027.5 L309.0 1027.8 L311.0 1028.1 L313.0 1028.4 L315.0 1028.8 L317.0 1029.1 L319.0 1029.5 L321.0 1030.0 L323.0 1030.5 L325.0 1031.0 L327.0 1031.4 L329.0 1031.6 L331.0 1031.7 L333.0 1031.6 L335.0 1031.1 L337.0 1030.5 L339.0 1029.6 L341.0 1028.7 L343.0 1027.6 L345.0 1026.6 L347.0 1025.6 L349.0 1024.6 L351.0 1023.7 L353.0 1022.7 L355.0 1021.6 L357.0 1020.5 L359.0 1019.4 L361.0 1018.4 L363.0 1017.6 L365.0 1017.0 L367.0 1016.7 L369.0 1016.9 L371.0 1017.5 L373.0 1018.4 L375.0 1019.6 L377.0 1020.9 L379.0 1022.4 L381.0 1023.9 L383.0 1025.3 L385.0 1026.5 L387.0 1027.7 L389.0 1029.2 L391.0 1030.7 L393.0 1032.1 L395.0 1033.3 L397.0 1034.4 L399.0 1035.2 L401.0 1035.6 L403.0 1035.7 L405.0 1035.7 L407.0 1035.6 L409.0 1035.6 L411.0 1035.5 L413.0 1035.5 L415.0 1035.4 L417.0 1035.3 L419.0 1035.3 L421.0 1035.2 L423.0 1035.1 L425.0 1035.1 L427.0 1035.0 L429.0 1034.9 L431.0 1034.8 L433.0 1034.7 L435.0 1034.6 L437.0 1034.4 L439.0 1034.2 L441.0 1034.1 L443.0 1034.2 L445.0 1034.3 L447.0 1034.5 L449.0 1034.6 L451.0 1034.7 L453.0 1034.8 L455.0 1034.8 L457.0 1034.8 L459.0 1034.7 L461.0 1034.5 L463.0 1034.0 L465.0 1033.4 L467.0 1032.7 L469.0 1031.8 L471.0 1030.9 L473.0 1029.8 L475.0 1027.4 L477.0 1024.1 L479.0 1020.6 L481.0 1017.2 L483.0 1012.7 L485.0 1008.1 L487.0 1004.6 L489.0 1003.3 L491.0 1005.4 L493.0 1010.1 L495.0 1015.8 L497.0 1020.8 L499.0 1025.4 L501.0 1030.5 L503.0 1035.4 L505.0 1039.6 L507.0 1042.4 L509.0 1042.9 L511.0 1043.0 L513.0 1042.9 L515.0 1042.6 L517.0 1042.2 L519.0 1041.8 L521.0 1041.2 L523.0 1040.7 L525.0 1040.1 L527.0 1039.5 L529.0 1038.9 L531.0 1038.2 L533.0 1037.5 L535.0 1036.8 L537.0 1036.1 L539.0 1035.5 L541.0 1035.0 L543.0 1034.8 L545.0 1034.8 L547.0 1035.1 L549.0 1035.8 L551.0 1036.6 L553.0 1037.5 L555.0 1038.3 L557.0 1038.9 L559.0 1039.1 L561.0 1039.0 L563.0 1038.5 L565.0 1037.8 L567.0 1036.9 L569.0 1035.9 L571.0 1034.8 L573.0 1033.7 L575.0 1032.6 L577.0 1031.5 L579.0 1030.1 L581.0 1028.5 L583.0 1026.9 L585.0 1025.5 L587.0 1024.4 L589.0 1023.7 L591.0 1023.7 L593.0 1024.6 L595.0 1026.0 L597.0 1027.8 L599.0 1029.5 L601.0 1031.0 L603.0 1031.7 L605.0 1031.9 L607.0 1032.2 L609.0 1032.6 L611.0 1032.9 L613.0 1033.3 L615.0 1033.8 L617.0 1034.2 L619.0 1034.7 L621.0 1035.3 L623.0 1035.8 L625.0 1036.3 L627.0 1036.8 L629.0 1037.2 L631.0 1037.5 L633.0 1037.8 L635.0 1038.0 L637.0 1038.1 L639.0 1037.8 L641.0 1037.2 L643.0 1036.4 L645.0 1035.2 L647.0 1034.0 L649.0 1032.7 L651.0 1031.3 L653.0 1030.0 L655.0 1028.6 L657.0 1027.2 L659.0 1025.4 L661.0 1023.3 L663.0 1020.9 L665.0 1018.3 L667.0 1016.0 L669.0 1014.1 L671.0 1013.1 L673.0 1013.1 L675.0 1013.3 L677.0 1013.7 L679.0 1014.1 L681.0 1014.5 L683.0 1014.7 L685.0 1014.8 L687.0 1014.1 L689.0 1012.7 L691.0 1011.0 L693.0 1008.8 L695.0 1005.1 L697.0 1000.9 L699.0 996.0 L701.0 990.9 L703.0 988.7 L705.0 991.4 L707.0 997.1 L709.0 1003.1 L711.0 1009.3 L713.0 1015.9 L715.0 1021.1 L717.0 1024.9 L719.0 1028.1 L721.0 1028.5 L723.0 1029.0 L725.0 1029.5 L727.0 1030.1 L729.0 1030.5 L731.0 1030.8 L733.0 1031.1 L735.0 1031.2 L737.0 1031.2 L739.0 1031.0 L741.0 1030.8 L743.0 1030.4 L745.0 1029.9 L747.0 1029.4 L749.0 1028.9 L751.0 1028.4 L753.0 1028.0 L755.0 1027.8 L757.0 1027.8 L759.0 1027.7 L761.0 1027.6 L763.0 1027.6 L765.0 1027.6 L767.0 1027.5 L769.0 1027.4 L771.0 1027.3 L773.0 1027.1 L775.0 1026.9 L777.0 1026.7 L779.0 1026.5 L781.0 1026.3 L783.0 1026.1 L785.0 1025.9 L787.0 1025.6 L789.0 1025.4 L791.0 1025.1 L793.0 1024.9 L795.0 1024.6 L797.0 1024.3 L799.0 1023.9 L801.0 1023.4 L803.0 1023.0 L805.0 1022.4 L807.0 1021.8 L809.0 1021.2 L811.0 1020.7 L813.0 1020.2 L815.0 1019.9 L817.0 1019.7 L819.0 1019.6 L821.0 1019.6 L823.0 1019.7 L825.0 1019.3 L827.0 1017.4 L829.0 1014.8 L831.0 1011.8 L833.0 1009.0 L835.0 1006.5 L837.0 1004.0 L839.0 1001.5 L841.0 1000.0 L843.0 1000.3 L845.0 1002.5 L847.0 1005.6 L849.0 1009.0 L851.0 1012.9 L853.0 1017.6 L855.0 1021.8 L857.0 1023.6 L859.0 1023.8 L861.0 1024.0 L863.0 1024.2 L865.0 1024.3 L867.0 1024.5 L869.0 1024.6 L871.0 1024.7 L873.0 1024.8 L875.0 1024.9 L877.0 1024.9 L879.0 1025.0 L881.0 1025.1 L883.0 1025.3 L885.0 1025.5 L887.0 1025.7 L889.0 1026.0 L891.0 1026.2 L893.0 1026.3 L895.0 1026.3 L897.0 1026.2 L899.0 1025.7 L901.0 1024.8 L903.0 1023.7 L905.0 1022.3 L907.0 1020.8 L909.0 1019.2 L911.0 1017.7 L913.0 1015.2 L915.0 1012.6 L917.0 1009.8 L919.0 1006.5 L921.0 1003.5 L923.0 1000.9 L925.0 999.2 L927.0 998.5 L929.0 999.0 L931.0 1000.4 L933.0 1002.4 L935.0 1004.9 L937.0 1007.5 L939.0 1010.1 L941.0 1012.3 L943.0 1014.1 L945.0 1015.1 L947.0 1015.3 L949.0 1015.2 L951.0 1014.9 L953.0 1014.6 L955.0 1014.1 L957.0 1013.5 L959.0 1013.0 L961.0 1012.4 L963.0 1011.8 L965.0 1011.2 L967.0 1010.7 L969.0 1010.3 L971.0 1010.0 L973.0 1009.9 L975.0 1009.8 L977.0 1009.8 L979.0 1009.4 L981.0 1008.3 L983.0 1007.2 L985.0 1006.1 L987.0 1004.8 L989.0 1003.4 L991.0 1001.5 L993.0 999.2 L995.0 997.0 L997.0 995.4 L999.0 994.6 L1001.0 995.2 L1003.0 997.1 L1005.0 999.9 L1007.0 1002.8 L1009.0 1005.4 L1011.0 1007.2 L1013.0 1008.9 L1015.0 1010.6 L1017.0 1011.8 L1019.0 1011.9 L1021.0 1011.8 L1023.0 1011.7 L1025.0 1011.5 L1027.0 1011.3 L1029.0 1010.9 L1031.0 1010.5 L1033.0 1010.0 L1035.0 1009.3 L1037.0 1008.7 L1039.0 1007.9 L1041.0 1007.2 L1043.0 1006.4 L1045.0 1005.6 L1047.0 1004.8 L1049.0 1004.1 L1051.0 1003.4 L1053.0 1002.8 L1055.0 1002.1 L1057.0 1001.4 L1059.0 1000.5 L1061.0 999.7 L1063.0 998.8 L1065.0 998.0 L1067.0 997.2 L1069.0 996.4 L1071.0 995.9 L1073.0 995.4 L1075.0 995.1 L1077.0 995.1 L1079.0 995.1 L1081.0 995.3 L1083.0 995.5 L1085.0 995.8 L1087.0 996.2 L1089.0 996.6 L1091.0 997.1 L1093.0 997.6 L1095.0 998.1 L1097.0 998.7 L1099.0 999.2 L1101.0 999.7 L1103.0 1000.5 L1105.0 1001.4 L1107.0 1002.3 L1109.0 1003.2 L1111.0 1003.9 L1113.0 1004.4 L1115.0 1004.5 L1117.0 1003.9 L1119.0 1002.7 L1121.0 1001.0 L1123.0 999.3 L1125.0 997.0 L1127.0 993.9 L1129.0 991.2 L1131.0 989.2 L1133.0 987.7 L1135.0 986.4 L1137.0 985.3 L1139.0 984.4 L1141.0 983.8 L1143.0 983.2 L1145.0 982.7 L1147.0 982.2 L1149.0 981.7 L1151.0 981.3 L1153.0 980.9 L1155.0 980.4 L1157.0 980.0 L1159.0 979.6 L1161.0 978.8 L1163.0 978.1 L1165.0 977.4 L1167.0 976.9 L1169.0 976.5 L1171.0 976.4 L1173.0 976.4 L1175.0 976.4 L1177.0 976.5 L1179.0 976.5 L1181.0 976.4 L1183.0 976.1 L1185.0 975.4 L1187.0 974.4 L1189.0 973.0 L1191.0 969.5 L1193.0 965.1 L1195.0 960.7 L1197.0 956.9 L1199.0 953.2 L1201.0 949.0 L1203.0 944.0 L1205.0 938.0 L1207.0 931.0 L1209.0 921.9 L1211.0 910.7 L1213.0 899.0 L1215.0 887.6 L1217.0 874.6 L1219.0 856.5 L1221.0 828.0 L1223.0 798.3 L1225.0 773.9 L1227.0 751.1 L1229.0 730.8 L1231.0 713.5 L1233.0 698.0 L1235.0 685.6 L1237.0 676.4 L1239.0 668.3 L1241.0 664.3 L1243.0 664.4 L1245.0 669.5 L1247.0 677.3 L1249.0 691.4 L1251.0 711.3 L1253.0 732.5 L1255.0 757.1 L1257.0 778.6 L1259.0 791.5 L1261.0 800.9 L1263.0 807.9 L1265.0 812.3 L1267.0 815.3 L1269.0 817.2 L1271.0 818.1 L1273.0 818.2 L1275.0 818.2 L1277.0 818.4 L1279.0 820.0 L1281.0 821.8 L1283.0 824.1 L1285.0 826.8 L1287.0 830.6 L1289.0 835.6 L1291.0 841.6 L1293.0 848.1 L1295.0 854.9 L1297.0 862.5 L1299.0 871.4 L1301.0 880.4 L1303.0 888.5 L1305.0 896.9 L1307.0 901.2 L1309.0 902.5 L1311.0 903.4 L1313.0 903.9 L1315.0 904.4 L1317.0 904.8 L1319.0 905.4 L1321.0 906.2 L1323.0 907.6 L1325.0 909.5 L1327.0 911.8 L1329.0 914.4 L1331.0 917.1 L1333.0 919.8 L1335.0 922.3 L1337.0 924.5 L1339.0 926.6 L1341.0 928.7 L1343.0 931.0 L1345.0 933.4 L1347.0 936.3 L1349.0 939.6 L1351.0 943.0 L1353.0 946.5 L1355.0 950.0 L1357.0 952.8 L1359.0 955.1 L1361.0 957.4 L1363.0 959.6 L1365.0 961.5 L1367.0 963.0 L1369.0 964.0 L1371.0 964.3 L1373.0 963.8 L1375.0 962.7 L1377.0 961.2 L1379.0 959.3 L1381.0 957.5 L1383.0 955.7 L1385.0 954.3 L1387.0 953.4 L1389.0 953.0 L1391.0 953.0 L1393.0 953.0 L1395.0 953.0 L1397.0 952.9 L1399.0 952.9 L1401.0 952.4 L1403.0 951.1 L1405.0 949.3 L1407.0 947.2 L1409.0 945.3 L1411.0 943.7 L1413.0 941.6 L1415.0 938.4 L1417.0 934.2 L1419.0 929.4 L1421.0 924.0 L1423.0 917.1 L1425.0 908.1 L1427.0 897.0 L1429.0 887.1 L1431.0 878.6 L1433.0 870.1 L1435.0 860.8 L1437.0 850.1 L1439.0 838.6 L1441.0 827.1 L1443.0 816.4 L1445.0 806.5 L1447.0 796.8 L1449.0 788.6 L1451.0 782.6 L1453.0 777.4 L1455.0 774.2 L1457.0 774.8 L1459.0 779.4 L1461.0 785.7 L1463.0 795.3 L1465.0 807.6 L1467.0 818.0 L1469.0 828.0 L1471.0 837.6 L1473.0 845.0 L1475.0 848.6 L1477.0 849.2 L1479.0 849.5 L1481.0 849.1 L1483.0 848.0 L1485.0 846.9 L1487.0 846.4 L1489.0 847.3 L1491.0 849.3 L1493.0 851.1 L1495.0 852.6 L1497.0 854.9 L1499.0 858.9 L1501.0 863.8 L1503.0 868.4 L1505.0 871.6 L1507.0 873.1 L1509.0 874.0 L1511.0 874.8 L1513.0 875.5 L1515.0 876.3 L1517.0 876.9 L1519.0 877.4 L1521.0 877.8 L1523.0 878.0 L1525.0 878.0 L1527.0 877.8 L1529.0 878.1 L1531.0 879.2 L1533.0 880.2 L1535.0 881.1 L1537.0 881.9 L1539.0 882.7 L1541.0 883.5 L1543.0 884.2 L1545.0 884.8 L1547.0 882.3 L1549.0 877.0 L1551.0 870.6 L1553.0 864.2 L1555.0 856.1 L1557.0 848.1 L1559.0 842.8 L1561.0 838.5 L1563.0 835.7 L1565.0 835.6 L1567.0 838.1 L1569.0 841.5 L1571.0 844.9 L1573.0 849.2 L1575.0 855.0 L1577.0 863.1 L1579.0 872.0 L1581.0 880.2 L1583.0 886.2 L1585.0 890.3 L1587.0 893.3 L1589.0 893.3 L1591.0 890.2 L1593.0 884.8 L1595.0 877.8 L1597.0 869.1 L1599.0 853.8 L1601.0 833.1 L1603.0 809.3 L1605.0 782.2 L1607.0 749.1 L1609.0 715.8 L1611.0 680.8 L1613.0 651.6 L1615.0 627.2 L1617.0 607.9 L1619.0 604.4 L1621.0 616.8 L1623.0 636.1 L1625.0 654.5 L1627.0 672.2 L1629.0 691.0 L1631.0 710.2 L1633.0 729.2 L1635.0 749.8 L1637.0 769.9 L1639.0 785.3 L1641.0 796.9 L1643.0 797.3 L1645.0 792.8 L1647.0 786.7 L1649.0 776.9 L1651.0 761.8 L1653.0 733.7 L1655.0 698.8 L1657.0 657.2 L1659.0 622.3 L1661.0 601.0 L1663.0 584.5 L1665.0 569.9 L1667.0 554.6 L1669.0 535.7 L1671.0 513.0 L1673.0 488.3 L1675.0 462.8 L1677.0 437.7 L1679.0 410.9 L1681.0 387.8 L1683.0 367.8 L1685.0 351.7 L1687.0 349.0 L1689.0 367.3 L1691.0 394.6 L1693.0 426.3 L1695.0 464.6 L1697.0 507.4 L1699.0 555.7 L1701.0 614.0 L1703.0 668.8 L1705.0 714.5 L1707.0 754.9 L1709.0 792.7 L1711.0 819.0 L1713.0 837.6 L1715.0 853.0 L1717.0 866.1 L1719.0 877.9 L1721.0 889.5 L1723.0 901.8 L1725.0 913.9 L1727.0 924.4 L1729.0 931.7 L1731.0 936.1 L1733.0 940.1 L1735.0 943.6 L1737.0 946.7 L1739.0 949.0 L1741.0 950.4 L1743.0 951.0 L1745.0 950.7 L1747.0 950.1 L1749.0 949.3 L1751.0 948.5 L1753.0 947.8 L1755.0 947.3 L1757.0 946.8 L1759.0 946.3 L1761.0 946.4 L1763.0 947.7 L1765.0 950.3 L1767.0 953.8 L1769.0 958.1 L1771.0 963.0 L1773.0 968.4 L1775.0 974.0 L1777.0 979.6 L1779.0 985.1 L1781.0 990.2 L1783.0 994.9 L1785.0 998.8 L1787.0 1002.0 L1789.0 1005.0 L1791.0 1007.8 L1793.0 1010.4 L1795.0 1012.9 L1797.0 1015.2 L1799.0 1017.5 L1801.0 1019.6 L1803.0 1021.6 L1805.0 1023.5 L1807.0 1025.2 L1809.0 1026.7 L1811.0 1028.2 L1813.0 1029.6 L1815.0 1030.9 L1817.0 1032.3 L1819.0 1033.5 L1821.0 1034.7 L1823.0 1035.8 L1825.0 1036.8 L1827.0 1037.8 L1829.0 1038.6 L1831.0 1039.3 L1833.0 1039.9 L1834.0 1040.1" stroke="#8b008b"/>
<path d="M301.0 1029.7 L303.0 1029.9 L305.0 1030.2 L307.0 1030.5 L309.0 1030.8 L311.0 1031.1 L313.0 1031.4 L315.0 1031.7 L317.0 1032.0 L319.0 1032.4 L321.0 1032.8 L323.0 1033.2 L325.0 1033.6 L327.0 1033.9 L329.0 1034.1 L331.0 1034.1 L333.0 1033.9 L335.0 1033.4 L337.0 1032.5 L339.0 1031.4 L341.0 1030.2 L343.0 1028.9 L345.0 1027.5 L347.0 1026.2 L349.0 1024.9 L351.0 1023.8 L353.0 1022.5 L355.0 1021.1 L357.0 1019.7 L359.0 1018.2 L361.0 1017.0 L363.0 1015.9 L365.0 1015.1 L367.0 1014.8 L369.0 1015.0 L371.0 1015.6 L373.0 1016.7 L375.0 1018.2 L377.0 1019.8 L379.0 1021.6 L381.0 1023.3 L383.0 1025.0 L385.0 1026.5 L387.0 1028.0 L389.0 1029.7 L391.0 1031.4 L393.0 1033.2 L395.0 1034.9 L397.0 1036.3 L399.0 1037.4 L401.0 1038.0 L403.0 1038.1 L405.0 1038.2 L407.0 1038.1 L409.0 1038.1 L411.0 1038.1 L413.0 1038.0 L415.0 1037.9 L417.0 1037.8 L419.0 1037.8 L421.0 1037.7 L423.0 1037.6 L425.0 1037.6 L427.0 1037.5 L429.0 1037.5 L431.0 1037.5 L433.0 1037.5 L435.0 1037.4 L437.0 1037.3 L439.0 1037.1 L441.0 1037.1 L443.0 1037.1 L445.0 1037.2 L447.0 1037.4 L449.0 1037.4 L451.0 1037.4 L453.0 1037.5 L455.0 1037.5 L457.0 1037.5 L459.0 1037.4 L461.0 1037.1 L463.0 1036.6 L465.0 1036.0 L467.0 1035.1 L469.0 1034.1 L471.0 1033.0 L473.0 1031.4 L475.0 1028.1 L477.0 1023.5 L479.0 1018.6 L481.0 1013.7 L483.0 1007.6 L485.0 1001.2 L487.0 996.2 L489.0 994.2 L491.0 996.7 L493.0 1002.7 L495.0 1009.9 L497.0 1016.3 L499.0 1022.1 L501.0 1028.5 L503.0 1034.8 L505.0 1040.2 L507.0 1043.8 L509.0 1044.3 L511.0 1044.3 L513.0 1044.2 L515.0 1043.9 L517.0 1043.5 L519.0 1043.0 L521.0 1042.4 L523.0 1041.8 L525.0 1041.1 L527.0 1040.5 L529.0 1039.8 L531.0 1039.1 L533.0 1038.3 L535.0 1037.6 L537.0 1036.8 L539.0 1036.1 L541.0 1035.6 L543.0 1035.3 L545.0 1035.2 L547.0 1035.5 L549.0 1036.1 L551.0 1036.8 L553.0 1037.6 L555.0 1038.3 L557.0 1038.8 L559.0 1039.0 L561.0 1038.8 L563.0 1038.2 L565.0 1037.4 L567.0 1036.4 L569.0 1035.2 L571.0 1034.0 L573.0 1032.8 L575.0 1031.6 L577.0 1030.2 L579.0 1028.5 L581.0 1026.5 L583.0 1024.6 L585.0 1022.8 L587.0 1021.5 L589.0 1020.6 L591.0 1020.5 L593.0 1021.6 L595.0 1023.3 L597.0 1025.5 L599.0 1027.7 L601.0 1029.4 L603.0 1030.1 L605.0 1030.3 L607.0 1030.5 L609.0 1030.7 L611.0 1030.9 L613.0 1031.2 L615.0 1031.5 L617.0 1031.9 L619.0 1032.3 L621.0 1032.7 L623.0 1033.1 L625.0 1033.5 L627.0 1033.9 L629.0 1034.3 L631.0 1034.5 L633.0 1034.7 L635.0 1034.8 L637.0 1034.8 L639.0 1034.5 L641.0 1034.0 L643.0 1033.0 L645.0 1031.7 L647.0 1030.3 L649.0 1028.8 L651.0 1027.2 L653.0 1025.7 L655.0 1024.2 L657.0 1022.5 L659.0 1020.4 L661.0 1018.1 L663.0 1015.6 L665.0 1013.2 L667.0 1011.1 L669.0 1009.5 L671.0 1008.7 L673.0 1008.7 L675.0 1009.0 L677.0 1009.5 L679.0 1010.0 L681.0 1010.4 L683.0 1010.7 L685.0 1010.6 L687.0 1009.4 L689.0 1007.3 L691.0 1004.7 L693.0 1001.4 L695.0 996.0 L697.0 990.1 L699.0 983.2 L701.0 976.1 L703.0 972.9 L705.0 976.1 L707.0 983.2 L709.0 990.8 L711.0 998.7 L713.0 1007.1 L715.0 1013.6 L717.0 1018.4 L719.0 1022.3 L721.0 1022.7 L723.0 1023.2 L725.0 1023.8 L727.0 1024.4 L729.0 1024.9 L731.0 1025.2 L733.0 1025.3 L735.0 1025.3 L737.0 1025.2 L739.0 1024.9 L741.0 1024.5 L743.0 1024.1 L745.0 1023.5 L747.0 1022.9 L749.0 1022.4 L751.0 1021.9 L753.0 1021.5 L755.0 1021.3 L757.0 1021.2 L759.0 1021.2 L761.0 1021.1 L763.0 1021.1 L765.0 1021.1 L767.0 1021.0 L769.0 1020.9 L771.0 1020.8 L773.0 1020.6 L775.0 1020.3 L777.0 1020.1 L779.0 1019.9 L781.0 1019.8 L783.0 1019.6 L785.0 1019.4 L787.0 1019.3 L789.0 1019.1 L791.0 1018.9 L793.0 1018.7 L795.0 1018.5 L797.0 1018.3 L799.0 1018.0 L801.0 1017.7 L803.0 1017.3 L805.0 1016.8 L807.0 1016.3 L809.0 1015.7 L811.0 1015.1 L813.0 1014.5 L815.0 1014.1 L817.0 1013.9 L819.0 1013.8 L821.0 1013.7 L823.0 1013.7 L825.0 1013.1 L827.0 1010.4 L829.0 1006.8 L831.0 1002.8 L833.0 998.8 L835.0 995.3 L837.0 991.9 L839.0 988.4 L841.0 986.3 L843.0 986.6 L845.0 989.3 L847.0 993.3 L849.0 997.5 L851.0 1002.6 L853.0 1008.6 L855.0 1013.9 L857.0 1016.1 L859.0 1016.3 L861.0 1016.4 L863.0 1016.5 L865.0 1016.6 L867.0 1016.6 L869.0 1016.7 L871.0 1016.7 L873.0 1016.8 L875.0 1016.8 L877.0 1016.9 L879.0 1016.9 L881.0 1017.0 L883.0 1017.2 L885.0 1017.6 L887.0 1017.9 L889.0 1018.3 L891.0 1018.7 L893.0 1018.9 L895.0 1019.1 L897.0 1019.0 L899.0 1018.5 L901.0 1017.6 L903.0 1016.4 L905.0 1015.1 L907.0 1013.6 L909.0 1012.0 L911.0 1010.5 L913.0 1007.9 L915.0 1005.5 L917.0 1003.0 L919.0 1000.0 L921.0 997.1 L923.0 994.7 L925.0 993.1 L927.0 992.5 L929.0 993.0 L931.0 994.2 L933.0 996.0 L935.0 998.1 L937.0 1000.4 L939.0 1002.7 L941.0 1004.8 L943.0 1006.4 L945.0 1007.3 L947.0 1007.5 L949.0 1007.5 L951.0 1007.3 L953.0 1007.1 L955.0 1006.8 L957.0 1006.4 L959.0 1006.0 L961.0 1005.6 L963.0 1005.2 L965.0 1004.9 L967.0 1004.5 L969.0 1004.2 L971.0 1004.0 L973.0 1003.9 L975.0 1003.9 L977.0 1003.8 L979.0 1003.2 L981.0 1001.7 L983.0 1000.2 L985.0 998.6 L987.0 996.9 L989.0 995.0 L991.0 992.4 L993.0 989.4 L995.0 986.5 L997.0 984.3 L999.0 983.3 L1001.0 984.0 L1003.0 986.6 L1005.0 990.3 L1007.0 994.1 L1009.0 997.5 L1011.0 999.8 L1013.0 1002.0 L1015.0 1004.1 L1017.0 1005.7 L1019.0 1005.7 L1021.0 1005.6 L1023.0 1005.5 L1025.0 1005.3 L1027.0 1005.0 L1029.0 1004.7 L1031.0 1004.3 L1033.0 1003.7 L1035.0 1003.1 L1037.0 1002.4 L1039.0 1001.6 L1041.0 1000.8 L1043.0 999.9 L1045.0 999.1 L1047.0 998.3 L1049.0 997.5 L1051.0 996.8 L1053.0 996.2 L1055.0 995.6 L1057.0 994.9 L1059.0 994.2 L1061.0 993.4 L1063.0 992.6 L1065.0 991.9 L1067.0 991.2 L1069.0 990.5 L1071.0 990.0 L1073.0 989.6 L1075.0 989.3 L1077.0 989.2 L1079.0 989.2 L1081.0 989.2 L1083.0 989.4 L1085.0 989.6 L1087.0 989.9 L1089.0 990.3 L1091.0 990.7 L1093.0 991.1 L1095.0 991.5 L1097.0 992.0 L1099.0 992.5 L1101.0 992.9 L1103.0 993.6 L1105.0 994.5 L1107.0 995.4 L1109.0 996.2 L1111.0 996.9 L1113.0 997.4 L1115.0 997.4 L1117.0 996.6 L1119.0 995.0 L1121.0 993.2 L1123.0 991.5 L1125.0 989.2 L1127.0 986.1 L1129.0 983.4 L1131.0 981.7 L1133.0 980.5 L1135.0 979.6 L1137.0 978.7 L1139.0 978.0 L1141.0 977.4 L1143.0 976.9 L1145.0 976.4 L1147.0 975.9 L1149.0 975.4 L1151.0 974.9 L1153.0 974.3 L1155.0 973.8 L1157.0 973.2 L1159.0 972.6 L1161.0 971.7 L1163.0 970.7 L1165.0 969.9 L1167.0 969.3 L1169.0 968.9 L1171.0 968.8 L1173.0 968.9 L1175.0 969.1 L1177.0 969.3 L1179.0 969.4 L1181.0 969.3 L1183.0 969.0 L1185.0 968.3 L1187.0 967.4 L1189.0 966.1 L1191.0 962.1 L1193.0 956.9 L1195.0 952.0 L1197.0 948.0 L1199.0 944.1 L1201.0 939.6 L1203.0 933.9 L1205.0 927.0 L1207.0 918.6 L1209.0 907.0 L1211.0 892.3 L1213.0 876.7 L1215.0 861.5 L1217.0 844.2 L1219.0 820.0 L1221.0 782.1 L1223.0 742.6 L1225.0 710.1 L1227.0 679.6 L1229.0 652.5 L1231.0 629.4 L1233.0 608.6 L1235.0 592.0 L1237.0 579.6 L1239.0 568.8 L1241.0 563.4 L1243.0 566.8 L1245.0 576.7 L1247.0 589.9 L1249.0 610.9 L1251.0 639.0 L1253.0 668.2 L1255.0 701.1 L1257.0 729.6 L1259.0 747.2 L1261.0 760.2 L1263.0 770.0 L1265.0 776.7 L1267.0 781.6 L1269.0 785.2 L1271.0 787.4 L1273.0 788.8 L1275.0 790.0 L1277.0 791.4 L1279.0 793.2 L1281.0 795.2 L1283.0 797.7 L1285.0 800.7 L1287.0 805.0 L1289.0 810.7 L1291.0 817.5 L1293.0 824.9 L1295.0 832.6 L1297.0 841.4 L1299.0 851.6 L1301.0 861.9 L1303.0 871.3 L1305.0 881.0 L1307.0 886.1 L1309.0 887.5 L1311.0 888.5 L1313.0 889.2 L1315.0 889.7 L1317.0 890.2 L1319.0 890.9 L1321.0 891.9 L1323.0 893.5 L1325.0 895.8 L1327.0 898.5 L1329.0 901.5 L1331.0 904.7 L1333.0 907.8 L1335.0 910.7 L1337.0 913.3 L1339.0 915.8 L1341.0 918.1 L1343.0 920.6 L1345.0 923.4 L1347.0 926.6 L1349.0 930.2 L1351.0 934.1 L1353.0 937.9 L1355.0 941.6 L1357.0 944.5 L1359.0 946.6 L1361.0 948.6 L1363.0 950.6 L1365.0 952.2 L1367.0 953.5 L1369.0 954.4 L1371.0 954.6 L1373.0 954.1 L1375.0 953.0 L1377.0 951.6 L1379.0 949.9 L1381.0 948.2 L1383.0 946.6 L1385.0 945.4 L1387.0 944.6 L1389.0 944.3 L1391.0 944.3 L1393.0 944.2 L1395.0 944.2 L1397.0 944.2 L1399.0 944.1 L1401.0 943.6 L1403.0 942.5 L1405.0 940.9 L1407.0 939.1 L1409.0 937.4 L1411.0 935.9 L1413.0 933.5 L1415.0 929.6 L1417.0 924.4 L1419.0 918.4 L1421.0 911.6 L1423.0 902.7 L1425.0 891.1 L1427.0 876.8 L1429.0 863.9 L1431.0 852.7 L1433.0 841.7 L1435.0 829.4 L1437.0 815.3 L1439.0 800.1 L1441.0 784.8 L1443.0 770.5 L1445.0 757.1 L1447.0 744.0 L1449.0 732.9 L1451.0 724.7 L1453.0 717.4 L1455.0 712.8 L1457.0 713.7 L1459.0 720.1 L1461.0 728.9 L1463.0 742.0 L1465.0 758.8 L1467.0 772.9 L1469.0 786.6 L1471.0 799.6 L1473.0 809.7 L1475.0 814.7 L1477.0 815.7 L1479.0 816.3 L1481.0 816.1 L1483.0 814.9 L1485.0 813.7 L1487.0 813.8 L1489.0 816.5 L1491.0 820.5 L1493.0 824.1 L1495.0 827.1 L1497.0 831.2 L1499.0 837.2 L1501.0 844.1 L1503.0 850.5 L1505.0 855.1 L1507.0 857.7 L1509.0 859.4 L1511.0 861.1 L1513.0 862.6 L1515.0 864.1 L1517.0 865.5 L1519.0 866.7 L1521.0 867.7 L1523.0 868.5 L1525.0 869.1 L1527.0 869.5 L1529.0 869.5 L1531.0 869.5 L1533.0 869.4 L1535.0 869.2 L1537.0 869.0 L1539.0 868.8 L1541.0 868.4 L1543.0 868.0 L1545.0 867.5 L1547.0 863.7 L1549.0 856.8 L1551.0 848.5 L1553.0 840.3 L1555.0 829.8 L1557.0 819.3 L1559.0 812.6 L1561.0 807.0 L1563.0 803.6 L1565.0 804.0 L1567.0 808.2 L1569.0 813.5 L1571.0 818.9 L1573.0 825.3 L1575.0 833.6 L1577.0 844.6 L1579.0 856.6 L1581.0 867.5 L1583.0 875.5 L1585.0 881.0 L1587.0 885.1 L1589.0 885.4 L1591.0 881.8 L1593.0 875.4 L1595.0 867.0 L1597.0 856.7 L1599.0 838.9 L1601.0 815.2 L1603.0 788.4 L1605.0 758.0 L1607.0 721.2 L1609.0 684.8 L1611.0 646.8 L1613.0 615.9 L1615.0 590.6 L1617.0 571.2 L1619.0 567.8 L1621.0 580.4 L1623.0 600.5 L1625.0 619.9 L1627.0 638.7 L1629.0 658.7 L1631.0 679.4 L1633.0 700.1 L1635.0 722.6 L1637.0 744.8 L1639.0 761.8 L1641.0 774.6 L1643.0 774.6 L1645.0 769.0 L1647.0 761.5 L1649.0 749.6 L1651.0 731.6 L1653.0 698.1 L1655.0 656.5 L1657.0 606.6 L1659.0 564.4 L1661.0 537.8 L1663.0 516.8 L1665.0 498.0 L1667.0 478.0 L1669.0 453.7 L1671.0 424.6 L1673.0 392.8 L1675.0 359.8 L1677.0 327.0 L1679.0 291.8 L1681.0 261.1 L1683.0 233.9 L1685.0 211.3 L1687.0 205.9 L1689.0 227.4 L1691.0 260.1 L1693.0 298.5 L1695.0 345.0 L1697.0 397.5 L1699.0 457.0 L1701.0 529.1 L1703.0 597.1 L1705.0 653.9 L1707.0 704.8 L1709.0 752.5 L1711.0 785.9 L1713.0 809.5 L1715.0 829.0 L1717.0 845.6 L1719.0 860.8 L1721.0 875.5 L1723.0 891.1 L1725.0 906.4 L1727.0 919.5 L1729.0 928.5 L1731.0 933.9 L1733.0 938.8 L1735.0 943.1 L1737.0 946.7 L1739.0 949.6 L1741.0 951.5 L1743.0 952.4 L1745.0 952.3 L1747.0 951.9 L1749.0 951.2 L1751.0 950.6 L1753.0 950.2 L1755.0 949.8 L1757.0 949.4 L1759.0 948.9 L1761.0 949.0 L1763.0 950.4 L1765.0 952.9 L1767.0 956.4 L1769.0 960.6 L1771.0 965.5 L1773.0 970.8 L1775.0 976.3 L1777.0 981.9 L1779.0 987.4 L1781.0 992.5 L1783.0 997.1 L1785.0 1001.0 L1787.0 1004.1 L1789.0 1007.1 L1791.0 1009.7 L1793.0 1012.1 L1795.0 1014.5 L1797.0 1016.7 L1799.0 1018.9 L1801.0 1020.9 L1803.0 1022.8 L1805.0 1024.6 L1807.0 1026.2 L1809.0 1027.7 L1811.0 1029.2 L1813.0 1030.6 L1815.0 1032.0 L1817.0 1033.3 L1819.0 1034.5 L1821.0 1035.7 L1823.0 1036.8 L1825.0 1037.9 L1827.0 1038.8 L1829.0 1039.7 L1831.0 1040.5 L1833.0 1041.1 L1834.0 1041.4" stroke="#808000"/>
<path d="M301.0 1036.7 L303.0 1037.0 L305.0 1037.4 L307.0 1037.7 L309.0 1038.0 L311.0 1038.3 L313.0 1038.6 L315.0 1038.8 L317.0 1039.1 L319.0 1039.5 L321.0 1039.7 L323.0 1040.0 L325.0 1040.2 L327.0 1040.4 L329.0 1040.5 L331.0 1040.6 L333.0 1040.4 L335.0 1039.8 L337.0 1038.8 L339.0 1037.7 L341.0 1036.3 L343.0 1034.9 L345.0 1033.4 L347.0 1031.9 L349.0 1030.6 L351.0 1029.4 L353.0 1028.0 L355.0 1026.5 L357.0 1025.0 L359.0 1023.5 L361.0 1022.1 L363.0 1021.0 L365.0 1020.2 L367.0 1019.8 L369.0 1020.0 L371.0 1020.7 L373.0 1021.9 L375.0 1023.4 L377.0 1025.2 L379.0 1027.0 L381.0 1028.9 L383.0 1030.6 L385.0 1032.1 L387.0 1033.6 L389.0 1035.2 L391.0 1037.0 L393.0 1038.8 L395.0 1040.7 L397.0 1042.3 L399.0 1043.6 L401.0 1044.4 L403.0 1044.6 L405.0 1044.8 L407.0 1044.8 L409.0 1044.9 L411.0 1044.8 L413.0 1044.8 L415.0 1044.7 L417.0 1044.5 L419.0 1044.4 L421.0 1044.2 L423.0 1044.1 L425.0 1043.9 L427.0 1043.8 L429.0 1043.8 L431.0 1043.8 L433.0 1043.9 L435.0 1043.9 L437.0 1043.8 L439.0 1043.7 L441.0 1043.7 L443.0 1043.7 L445.0 1043.8 L447.0 1043.9 L449.0 1043.9 L451.0 1043.8 L453.0 1043.8 L455.0 1043.8 L457.0 1043.9 L459.0 1043.9 L461.0 1043.8 L463.0 1043.5 L465.0 1043.0 L467.0 1042.3 L469.0 1041.5 L471.0 1040.5 L473.0 1038.9 L475.0 1035.5 L477.0 1030.8 L479.0 1025.7 L481.0 1020.6 L483.0 1014.1 L485.0 1007.5 L487.0 1002.2 L489.0 1000.0 L491.0 1002.4 L493.0 1008.3 L495.0 1015.6 L497.0 1021.9 L499.0 1027.7 L501.0 1034.1 L503.0 1040.4 L505.0 1045.7 L507.0 1049.4 L509.0 1049.9 L511.0 1050.0 L513.0 1050.0 L515.0 1049.8 L517.0 1049.5 L519.0 1049.1 L521.0 1048.5 L523.0 1047.9 L525.0 1047.3 L527.0 1046.6 L529.0 1046.0 L531.0 1045.3 L533.0 1044.7 L535.0 1044.1 L537.0 1043.6 L539.0 1043.1 L541.0 1042.8 L543.0 1042.6 L545.0 1042.7 L547.0 1043.0 L549.0 1043.4 L551.0 1043.9 L553.0 1044.4 L555.0 1044.9 L557.0 1045.2 L559.0 1045.3 L561.0 1045.1 L563.0 1044.4 L565.0 1043.5 L567.0 1042.3 L569.0 1041.1 L571.0 1039.8 L573.0 1038.5 L575.0 1037.4 L577.0 1036.2 L579.0 1034.5 L581.0 1032.5 L583.0 1030.5 L585.0 1028.8 L587.0 1027.5 L589.0 1026.9 L591.0 1027.0 L593.0 1028.2 L595.0 1030.1 L597.0 1032.4 L599.0 1034.7 L601.0 1036.6 L603.0 1037.4 L605.0 1037.8 L607.0 1038.1 L609.0 1038.4 L611.0 1038.8 L613.0 1039.3 L615.0 1039.7 L617.0 1040.2 L619.0 1040.7 L621.0 1041.2 L623.0 1041.7 L625.0 1042.1 L627.0 1042.5 L629.0 1042.9 L631.0 1043.1 L633.0 1043.3 L635.0 1043.4 L637.0 1043.3 L639.0 1042.9 L641.0 1042.2 L643.0 1041.0 L645.0 1039.7 L647.0 1038.2 L649.0 1036.6 L651.0 1035.1 L653.0 1033.6 L655.0 1032.2 L657.0 1030.7 L659.0 1028.9 L661.0 1026.8 L663.0 1024.2 L665.0 1021.3 L667.0 1018.7 L669.0 1016.6 L671.0 1015.5 L673.0 1015.5 L675.0 1015.7 L677.0 1016.0 L679.0 1016.3 L681.0 1016.6 L683.0 1016.9 L685.0 1016.9 L687.0 1016.0 L689.0 1014.3 L691.0 1012.1 L693.0 1009.3 L695.0 1004.3 L697.0 998.8 L699.0 992.1 L701.0 985.2 L703.0 982.3 L705.0 985.9 L707.0 993.6 L709.0 1001.7 L711.0 1010.0 L713.0 1019.0 L715.0 1025.9 L717.0 1031.1 L719.0 1035.3 L721.0 1035.7 L723.0 1036.2 L725.0 1036.7 L727.0 1037.1 L729.0 1037.6 L731.0 1037.9 L733.0 1038.2 L735.0 1038.5 L737.0 1038.6 L739.0 1038.7 L741.0 1038.6 L743.0 1038.3 L745.0 1037.9 L747.0 1037.5 L749.0 1037.0 L751.0 1036.5 L753.0 1036.2 L755.0 1036.0 L757.0 1035.9 L759.0 1035.8 L761.0 1035.8 L763.0 1035.7 L765.0 1035.7 L767.0 1035.6 L769.0 1035.6 L771.0 1035.5 L773.0 1035.3 L775.0 1035.2 L777.0 1035.0 L779.0 1034.7 L781.0 1034.5 L783.0 1034.2 L785.0 1033.9 L787.0 1033.6 L789.0 1033.2 L791.0 1032.9 L793.0 1032.6 L795.0 1032.2 L797.0 1031.8 L799.0 1031.2 L801.0 1030.6 L803.0 1030.0 L805.0 1029.4 L807.0 1028.8 L809.0 1028.2 L811.0 1027.7 L813.0 1027.3 L815.0 1027.0 L817.0 1026.9 L819.0 1026.9 L821.0 1027.0 L823.0 1027.2 L825.0 1026.7 L827.0 1024.1 L829.0 1020.7 L831.0 1016.8 L833.0 1012.9 L835.0 1009.6 L837.0 1006.2 L839.0 1002.9 L841.0 1000.9 L843.0 1001.4 L845.0 1004.3 L847.0 1008.6 L849.0 1013.1 L851.0 1018.4 L853.0 1024.8 L855.0 1030.4 L857.0 1032.9 L859.0 1033.3 L861.0 1033.6 L863.0 1033.8 L865.0 1034.0 L867.0 1034.2 L869.0 1034.4 L871.0 1034.6 L873.0 1034.7 L875.0 1034.9 L877.0 1035.0 L879.0 1035.1 L881.0 1035.3 L883.0 1035.3 L885.0 1035.4 L887.0 1035.5 L889.0 1035.5 L891.0 1035.5 L893.0 1035.4 L895.0 1035.4 L897.0 1035.2 L899.0 1034.7 L901.0 1033.8 L903.0 1032.7 L905.0 1031.4 L907.0 1029.9 L909.0 1028.3 L911.0 1026.7 L913.0 1024.0 L915.0 1021.3 L917.0 1018.3 L919.0 1014.8 L921.0 1011.4 L923.0 1008.6 L925.0 1006.7 L927.0 1006.0 L929.0 1006.6 L931.0 1008.2 L933.0 1010.5 L935.0 1013.3 L937.0 1016.3 L939.0 1019.2 L941.0 1021.8 L943.0 1023.8 L945.0 1024.9 L947.0 1025.1 L949.0 1024.9 L951.0 1024.4 L953.0 1023.9 L955.0 1023.2 L957.0 1022.4 L959.0 1021.6 L961.0 1020.8 L963.0 1020.0 L965.0 1019.2 L967.0 1018.5 L969.0 1018.0 L971.0 1017.5 L973.0 1017.3 L975.0 1017.3 L977.0 1017.3 L979.0 1016.8 L981.0 1015.6 L983.0 1014.3 L985.0 1012.8 L987.0 1011.2 L989.0 1009.4 L991.0 1006.8 L993.0 1003.7 L995.0 1000.6 L997.0 998.2 L999.0 997.0 L1001.0 997.6 L1003.0 1000.1 L1005.0 1003.6 L1007.0 1007.5 L1009.0 1010.9 L1011.0 1013.2 L1013.0 1015.5 L1015.0 1017.7 L1017.0 1019.5 L1019.0 1019.6 L1021.0 1019.6 L1023.0 1019.5 L1025.0 1019.4 L1027.0 1019.1 L1029.0 1018.7 L1031.0 1018.3 L1033.0 1017.8 L1035.0 1017.2 L1037.0 1016.6 L1039.0 1015.9 L1041.0 1015.2 L1043.0 1014.5 L1045.0 1013.8 L1047.0 1013.0 L1049.0 1012.3 L1051.0 1011.7 L1053.0 1011.0 L1055.0 1010.3 L1057.0 1009.4 L1059.0 1008.5 L1061.0 1007.5 L1063.0 1006.5 L1065.0 1005.6 L1067.0 1004.6 L1069.0 1003.8 L1071.0 1003.2 L1073.0 1002.7 L1075.0 1002.4 L1077.0 1002.4 L1079.0 1002.5 L1081.0 1002.8 L1083.0 1003.1 L1085.0 1003.5 L1087.0 1004.0 L1089.0 1004.6 L1091.0 1005.2 L1093.0 1005.8 L1095.0 1006.4 L1097.0 1007.0 L1099.0 1007.6 L1101.0 1008.2 L1103.0 1009.0 L1105.0 1010.0 L1107.0 1010.9 L1109.0 1011.9 L1111.0 1012.7 L1113.0 1013.2 L1115.0 1013.4 L1117.0 1013.1 L1119.0 1012.2 L1121.0 1010.8 L1123.0 1009.0 L1125.0 1006.2 L1127.0 1002.4 L1129.0 999.0 L1131.0 996.5 L1133.0 994.7 L1135.0 993.1 L1137.0 991.8 L1139.0 990.9 L1141.0 990.2 L1143.0 989.6 L1145.0 989.1 L1147.0 988.7 L1149.0 988.5 L1151.0 988.3 L1153.0 988.3 L1155.0 988.2 L1157.0 988.2 L1159.0 988.2 L1161.0 987.8 L1163.0 987.3 L1165.0 986.8 L1167.0 986.3 L1169.0 986.0 L1171.0 985.8 L1173.0 985.7 L1175.0 985.6 L1177.0 985.5 L1179.0 985.4 L1181.0 985.3 L1183.0 985.0 L1185.0 984.2 L1187.0 983.1 L1189.0 981.6 L1191.0 977.1 L1193.0 971.4 L1195.0 965.7 L1197.0 960.8 L1199.0 956.1 L1201.0 950.7 L1203.0 944.1 L1205.0 936.3 L1207.0 927.2 L1209.0 915.2 L1211.0 900.5 L1213.0 885.0 L1215.0 870.1 L1217.0 853.0 L1219.0 829.2 L1221.0 791.4 L1223.0 752.0 L1225.0 719.8 L1227.0 689.6 L1229.0 662.9 L1231.0 640.3 L1233.0 620.0 L1235.0 603.9 L1237.0 592.1 L1239.0 581.8 L1241.0 576.9 L1243.0 580.8 L1245.0 591.4 L1247.0 605.3 L1249.0 627.1 L1251.0 656.2 L1253.0 686.3 L1255.0 720.3 L1257.0 749.7 L1259.0 767.9 L1261.0 781.4 L1263.0 791.6 L1265.0 798.5 L1267.0 803.5 L1269.0 807.1 L1271.0 809.1 L1273.0 810.4 L1275.0 811.3 L1277.0 812.5 L1279.0 814.1 L1281.0 816.0 L1283.0 818.3 L1285.0 821.2 L1287.0 825.4 L1289.0 831.1 L1291.0 837.8 L1293.0 845.3 L1295.0 853.1 L1297.0 862.0 L1299.0 872.4 L1301.0 882.9 L1303.0 892.5 L1305.0 902.4 L1307.0 907.5 L1309.0 908.8 L1311.0 909.7 L1313.0 910.2 L1315.0 910.5 L1317.0 910.8 L1319.0 911.3 L1321.0 912.2 L1323.0 913.6 L1325.0 915.7 L1327.0 918.3 L1329.0 921.2 L1331.0 924.3 L1333.0 927.3 L1335.0 930.1 L1337.0 932.5 L1339.0 934.7 L1341.0 936.9 L1343.0 939.1 L1345.0 941.6 L1347.0 944.7 L1349.0 948.2 L1351.0 952.0 L1353.0 956.0 L1355.0 960.0 L1357.0 963.3 L1359.0 965.8 L1361.0 968.4 L1363.0 970.9 L1365.0 973.1 L1367.0 974.8 L1369.0 976.0 L1371.0 976.4 L1373.0 976.0 L1375.0 974.8 L1377.0 973.2 L1379.0 971.2 L1381.0 969.1 L1383.0 967.1 L1385.0 965.5 L1387.0 964.3 L1389.0 963.9 L1391.0 963.9 L1393.0 963.9 L1395.0 963.9 L1397.0 963.9 L1399.0 963.9 L1401.0 963.3 L1403.0 961.8 L1405.0 959.7 L1407.0 957.4 L1409.0 955.2 L1411.0 953.5 L1413.0 951.0 L1415.0 947.0 L1417.0 941.7 L1419.0 935.5 L1421.0 928.5 L1423.0 919.4 L1425.0 907.6 L1427.0 892.8 L1429.0 879.6 L1431.0 868.2 L1433.0 856.8 L1435.0 844.2 L1437.0 829.7 L1439.0 814.0 L1441.0 798.2 L1443.0 783.5 L1445.0 769.7 L1447.0 756.2 L1449.0 744.8 L1451.0 736.3 L1453.0 728.8 L1455.0 724.1 L1457.0 725.2 L1459.0 732.1 L1461.0 741.4 L1463.0 755.1 L1465.0 772.6 L1467.0 787.1 L1469.0 801.2 L1471.0 814.6 L1473.0 824.9 L1475.0 829.8 L1477.0 830.5 L1479.0 830.8 L1481.0 830.3 L1483.0 828.7 L1485.0 827.0 L1487.0 826.8 L1489.0 829.2 L1491.0 832.9 L1493.0 836.3 L1495.0 839.1 L1497.0 843.0 L1499.0 848.9 L1501.0 855.8 L1503.0 862.2 L1505.0 866.8 L1507.0 869.2 L1509.0 870.8 L1511.0 872.3 L1513.0 873.8 L1515.0 875.1 L1517.0 876.3 L1519.0 877.4 L1521.0 878.3 L1523.0 879.0 L1525.0 879.5 L1527.0 879.7 L1529.0 879.6 L1531.0 879.5 L1533.0 879.2 L1535.0 878.8 L1537.0 878.4 L1539.0 877.8 L1541.0 877.2 L1543.0 876.6 L1545.0 875.7 L1547.0 871.7 L1549.0 864.8 L1551.0 856.5 L1553.0 848.5 L1555.0 838.4 L1557.0 828.4 L1559.0 822.2 L1561.0 817.3 L1563.0 814.5 L1565.0 815.3 L1567.0 819.3 L1569.0 824.4 L1571.0 829.3 L1573.0 835.2 L1575.0 842.9 L1577.0 853.3 L1579.0 864.7 L1581.0 875.0 L1583.0 882.5 L1585.0 887.6 L1587.0 891.4 L1589.0 891.5 L1591.0 888.4 L1593.0 882.8 L1595.0 875.5 L1597.0 866.2 L1599.0 849.2 L1601.0 825.6 L1603.0 798.8 L1605.0 768.2 L1607.0 731.0 L1609.0 694.0 L1611.0 655.3 L1613.0 623.6 L1615.0 597.5 L1617.0 577.4 L1619.0 573.9 L1621.0 587.0 L1623.0 607.9 L1625.0 627.8 L1627.0 647.2 L1629.0 667.9 L1631.0 689.2 L1633.0 710.5 L1635.0 733.6 L1637.0 756.3 L1639.0 773.7 L1641.0 786.9 L1643.0 786.9 L1645.0 781.2 L1647.0 773.6 L1649.0 761.6 L1651.0 743.3 L1653.0 709.2 L1655.0 667.0 L1657.0 616.4 L1659.0 573.6 L1661.0 546.8 L1663.0 525.6 L1665.0 506.7 L1667.0 486.6 L1669.0 462.1 L1671.0 432.9 L1673.0 400.9 L1675.0 367.8 L1677.0 334.8 L1679.0 299.5 L1681.0 268.7 L1683.0 241.5 L1685.0 219.0 L1687.0 213.6 L1689.0 235.3 L1691.0 268.2 L1693.0 306.9 L1695.0 353.7 L1697.0 406.6 L1699.0 466.5 L1701.0 539.2 L1703.0 607.7 L1705.0 664.8 L1707.0 716.0 L1709.0 763.8 L1711.0 797.2 L1713.0 820.6 L1715.0 839.9 L1717.0 856.4 L1719.0 871.3 L1721.0 885.9 L1723.0 901.2 L1725.0 916.1 L1727.0 928.9 L1729.0 937.6 L1731.0 942.6 L1733.0 947.4 L1735.0 951.8 L1737.0 955.7 L1739.0 959.2 L1741.0 961.8 L1743.0 963.1 L1745.0 963.3 L1747.0 963.0 L1749.0 962.4 L1751.0 961.7 L1753.0 961.1 L1755.0 960.6 L1757.0 960.1 L1759.0 959.5 L1761.0 959.6 L1763.0 960.9 L1765.0 963.3 L1767.0 966.6 L1769.0 970.8 L1771.0 975.5 L1773.0 980.6 L1775.0 985.9 L1777.0 991.2 L1779.0 996.5 L1781.0 1001.4 L1783.0 1005.8 L1785.0 1009.5 L1787.0 1012.4 L1789.0 1015.2 L1791.0 1017.6 L1793.0 1019.9 L1795.0 1022.0 L1797.0 1024.1 L1799.0 1026.0 L1801.0 1027.9 L1803.0 1029.6 L1805.0 1031.3 L1807.0 1032.8 L1809.0 1034.2 L1811.0 1035.6 L1813.0 1037.0 L1815.0 1038.3 L1817.0 1039.5 L1819.0 1040.7 L1821.0 1041.9 L1823.0 1043.0 L1825.0 1044.0 L1827.0 1044.9 L1829.0 1045.8 L1831.0 1046.5 L1833.0 1047.2 L1834.0 1047.5" stroke="#0a68ad"/>
</g>
<line x1="300.7" y1="47.5" x2="300.7" y2="1139" stroke="#000" stroke-width="8.5"/>
<line x1="296.5" y1="1135.0" x2="1836.5" y2="1135.0" stroke="#000" stroke-width="8"/>
<line x1="296.5" y1="50.2" x2="1836.3" y2="50.2" stroke="#000" stroke-width="4.6"/>
<line x1="1834" y1="50" x2="1834" y2="1136" stroke="#000" stroke-width="4.6"/>
<line x1="275" y1="1135.0" x2="300.7" y2="1135.0" stroke="#000" stroke-width="8.5"/>
<line x1="287" y1="1044.6" x2="300.7" y2="1044.6" stroke="#000" stroke-width="8"/>
<line x1="275" y1="954.2" x2="300.7" y2="954.2" stroke="#000" stroke-width="8.5"/>
<line x1="287" y1="863.8" x2="300.7" y2="863.8" stroke="#000" stroke-width="8"/>
<line x1="275" y1="773.3" x2="300.7" y2="773.3" stroke="#000" stroke-width="8.5"/>
<line x1="287" y1="682.9" x2="300.7" y2="682.9" stroke="#000" stroke-width="8"/>
<line x1="275" y1="592.5" x2="300.7" y2="592.5" stroke="#000" stroke-width="8.5"/>
<line x1="287" y1="502.1" x2="300.7" y2="502.1" stroke="#000" stroke-width="8"/>
<line x1="275" y1="411.7" x2="300.7" y2="411.7" stroke="#000" stroke-width="8.5"/>
<line x1="287" y1="321.2" x2="300.7" y2="321.2" stroke="#000" stroke-width="8"/>
<line x1="275" y1="230.8" x2="300.7" y2="230.8" stroke="#000" stroke-width="8.5"/>
<line x1="287" y1="140.4" x2="300.7" y2="140.4" stroke="#000" stroke-width="8"/>
<line x1="275" y1="50.0" x2="300.7" y2="50.0" stroke="#000" stroke-width="8.5"/>
<line x1="300.7" y1="1135.0" x2="300.7" y2="1160" stroke="#000" stroke-width="8.5"/>
<line x1="364.6" y1="1135.0" x2="364.6" y2="1148.5" stroke="#000" stroke-width="8"/>
<line x1="428.5" y1="1135.0" x2="428.5" y2="1160" stroke="#000" stroke-width="8.5"/>
<line x1="492.4" y1="1135.0" x2="492.4" y2="1148.5" stroke="#000" stroke-width="8"/>
<line x1="556.2" y1="1135.0" x2="556.2" y2="1160" stroke="#000" stroke-width="8.5"/>
<line x1="620.1" y1="1135.0" x2="620.1" y2="1148.5" stroke="#000" stroke-width="8"/>
<line x1="684.0" y1="1135.0" x2="684.0" y2="1160" stroke="#000" stroke-width="8.5"/>
<line x1="747.9" y1="1135.0" x2="747.9" y2="1148.5" stroke="#000" stroke-width="8"/>
<line x1="811.8" y1="1135.0" x2="811.8" y2="1160" stroke="#000" stroke-width="8.5"/>
<line x1="875.7" y1="1135.0" x2="875.7" y2="1148.5" stroke="#000" stroke-width="8"/>
<line x1="939.6" y1="1135.0" x2="939.6" y2="1160" stroke="#000" stroke-width="8.5"/>
<line x1="1003.5" y1="1135.0" x2="1003.5" y2="1148.5" stroke="#000" stroke-width="8"/>
<line x1="1067.3" y1="1135.0" x2="1067.3" y2="1160" stroke="#000" stroke-width="8.5"/>
<line x1="1131.2" y1="1135.0" x2="1131.2" y2="1148.5" stroke="#000" stroke-width="8"/>
<line x1="1195.1" y1="1135.0" x2="1195.1" y2="1160" stroke="#000" stroke-width="8.5"/>
<line x1="1259.0" y1="1135.0" x2="1259.0" y2="1148.5" stroke="#000" stroke-width="8"/>
<line x1="1322.9" y1="1135.0" x2="1322.9" y2="1160" stroke="#000" stroke-width="8.5"/>
<line x1="1386.8" y1="1135.0" x2="1386.8" y2="1148.5" stroke="#000" stroke-width="8"/>
<line x1="1450.7" y1="1135.0" x2="1450.7" y2="1160" stroke="#000" stroke-width="8.5"/>
<line x1="1514.6" y1="1135.0" x2="1514.6" y2="1148.5" stroke="#000" stroke-width="8"/>
<line x1="1578.5" y1="1135.0" x2="1578.5" y2="1160" stroke="#000" stroke-width="8.5"/>
<line x1="1642.3" y1="1135.0" x2="1642.3" y2="1148.5" stroke="#000" stroke-width="8"/>
<line x1="1706.2" y1="1135.0" x2="1706.2" y2="1160" stroke="#000" stroke-width="8.5"/>
<line x1="1770.1" y1="1135.0" x2="1770.1" y2="1148.5" stroke="#000" stroke-width="8"/>
<line x1="1834.0" y1="1135.0" x2="1834.0" y2="1160" stroke="#000" stroke-width="8.5"/>
<text x="262" y="1152.0" class="s" font-size="61" text-anchor="end">0</text>
<text x="262" y="971.2" class="s" font-size="61" text-anchor="end">3000</text>
<text x="262" y="790.3" class="s" font-size="61" text-anchor="end">6000</text>
<text x="262" y="609.5" class="s" font-size="61" text-anchor="end">9000</text>
<text x="262" y="428.7" class="s" font-size="61" text-anchor="end">12000</text>
<text x="262" y="247.8" class="s" font-size="61" text-anchor="end">15000</text>
<text x="262" y="67.0" class="s" font-size="61" text-anchor="end">18000</text>
<text x="300.7" y="1219.5" class="s" font-size="61" text-anchor="middle">500</text>
<text x="556.2" y="1219.5" class="s" font-size="61" text-anchor="middle">700</text>
<text x="811.8" y="1219.5" class="s" font-size="61" text-anchor="middle">900</text>
<text x="1067.3" y="1219.5" class="s" font-size="61" text-anchor="middle">1100</text>
<text x="1322.9" y="1219.5" class="s" font-size="61" text-anchor="middle">1300</text>
<text x="1578.5" y="1219.5" class="s" font-size="61" text-anchor="middle">1500</text>
<text x="1834.0" y="1219.5" class="s" font-size="61" text-anchor="middle">1700</text>
<text x="819.5" y="1333" class="s" font-size="62">Wavenumber(cm</text>
<text x="1317" y="1299" class="s" font-size="36">-1</text>
<text x="1350.5" y="1333" class="s" font-size="62">)</text>
<text transform="translate(59.5,634.5) rotate(-90)" class="s" font-size="62.8" text-anchor="middle">Intensity(a.u.)</text>
<text transform="translate(1538.5,132.5) scale(0.985,1.035)" class="r" fill="#ff0000" font-size="66">1584</text>
<text transform="translate(1249.5,533) scale(0.985,1.035)" class="r" fill="#ff0000" font-size="66">1235</text>
<text transform="translate(1400.5,646) scale(0.985,1.035)" class="r" fill="#ff0000" font-size="66">1401</text>
<text transform="translate(1504.5,490) scale(0.985,1.035)" class="r" fill="#ff0000" font-size="66">1530</text>
<text x="1752" y="204" class="s" font-size="61">k</text>
<text x="1753" y="827" class="s" font-size="61">a</text>
<line x1="1767" y1="310" x2="1767" y2="502" stroke="#8a8a8a" stroke-width="3"/>
<line x1="1767" y1="502" x2="1767" y2="726" stroke="#333" stroke-width="3"/>
<polygon points="1767,283 1759.5,313 1774,313" fill="#000"/>
</svg>
</body></html>
